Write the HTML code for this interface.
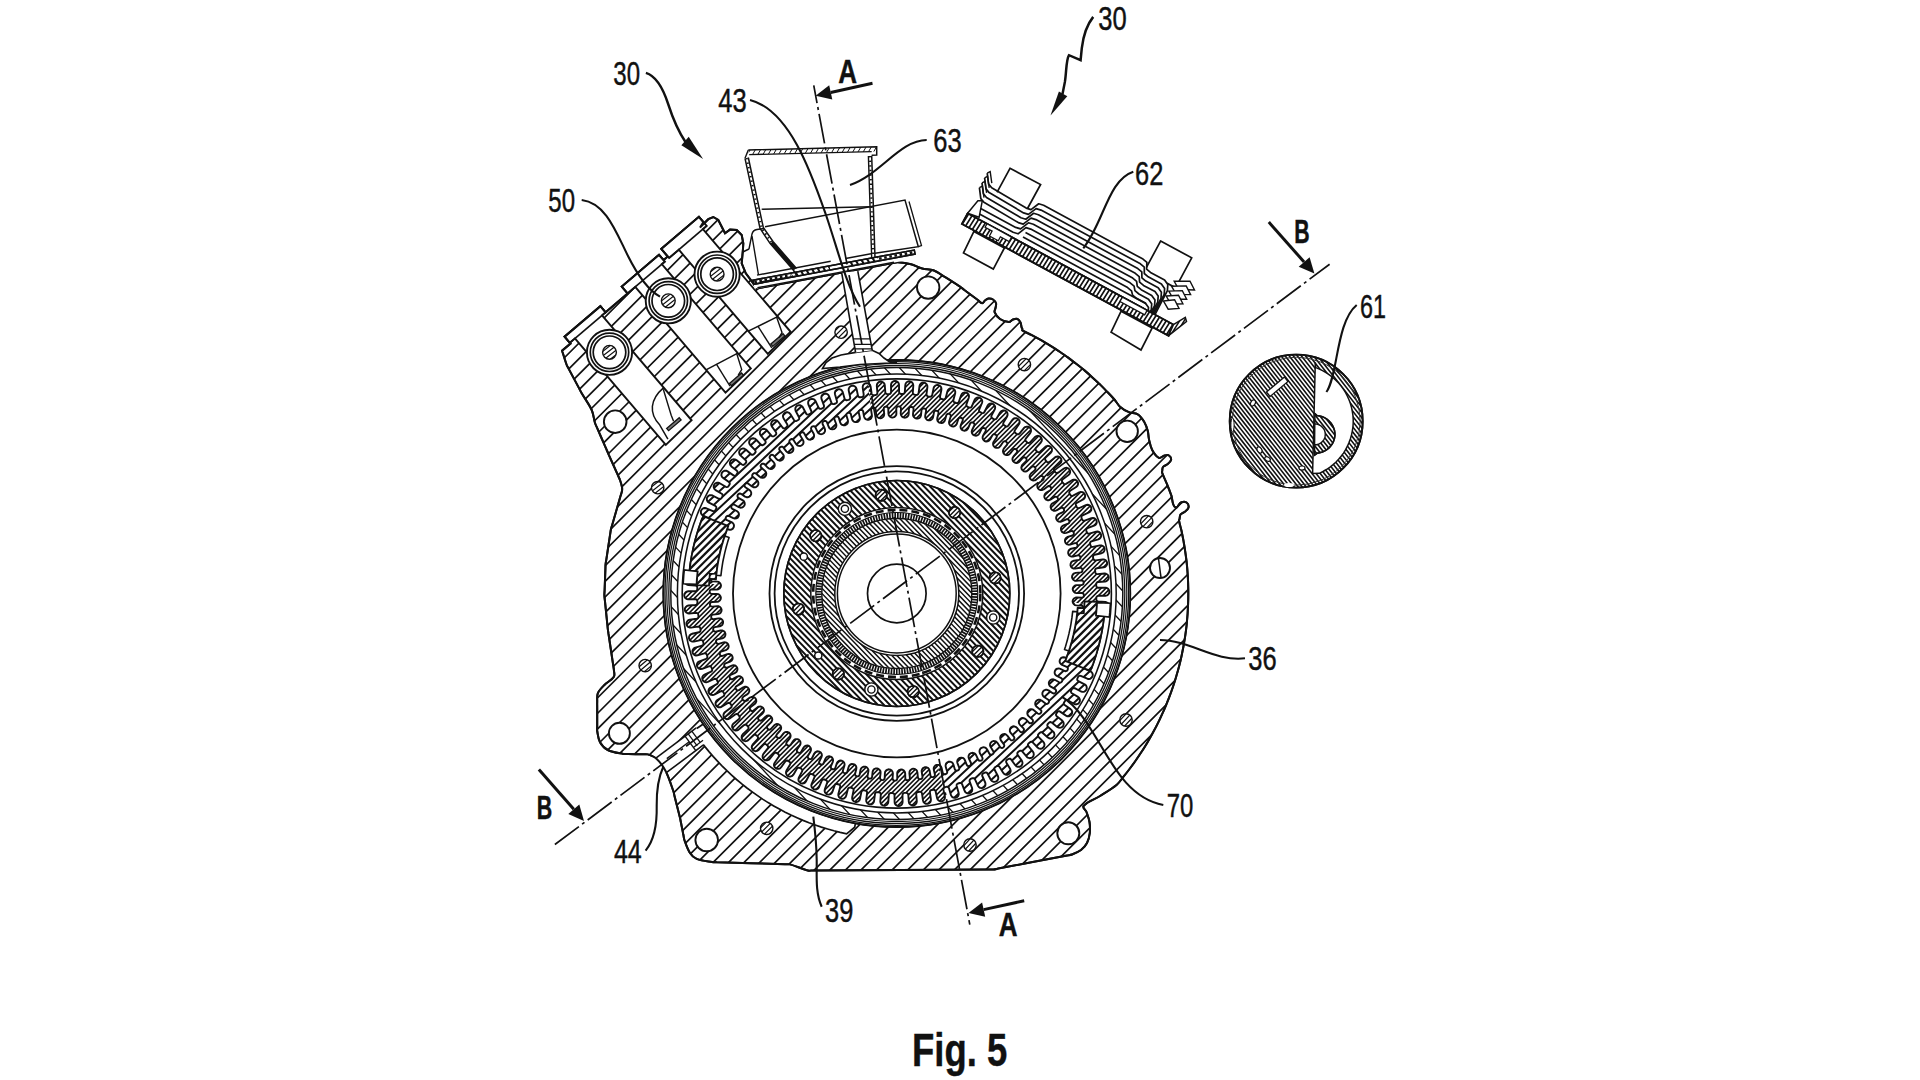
<!DOCTYPE html>
<html><head><meta charset="utf-8"><title>Fig. 5</title>
<style>
html,body{margin:0;padding:0;background:#fff;}
body{width:1920px;height:1080px;overflow:hidden;position:relative;font-family:"Liberation Sans",sans-serif;}
svg text{font-family:"Liberation Sans",sans-serif;fill:#111;}
</style></head><body>
<svg width="1920" height="1080" viewBox="0 0 1920 1080" style="position:absolute;left:0;top:0">
<defs><clipPath id="c1"><path d="M757,288.5 C758.6,288.2 760.3,287.9 761.9,287.6 C805.6,279.4 849.2,271.3 892.9,263.1 C894.5,262.8 896.1,262.1 897.8,262.2 C902.2,262.5 906.7,263.1 911,264.2 C914.9,265.2 918.3,267.5 922.2,268.5 C925.8,269.5 929.8,268.9 933.3,270.2 C937.3,271.7 940.8,274.4 944.4,276.7 C949.7,279.9 954.9,283.3 960,286.7 C961.4,287.6 962.7,288.7 964,289.7 C968.7,293.2 973.5,296.8 978.2,300.3 C979.5,301.3 980.5,303.3 982.2,303.3 C983.5,303.3 984,301.3 985,300.5 C986.1,299.7 987.2,298.7 988.5,298.5 C990,298.3 991.7,298.7 993,299.5 C994.3,300.3 995.6,301.5 996,303 C996.5,304.6 995.8,306.3 995.5,308 C995.3,309.4 994.1,310.9 994.6,312.2 C995.7,314.9 997.6,317.4 1000,319 C1002.6,320.8 1005.8,321.9 1008.9,322 C1010.5,322.1 1011.5,320 1013,319.5 C1014.4,319 1016.1,318.4 1017.5,319 C1018.9,319.6 1019.8,321.1 1020.5,322.5 C1021.2,323.9 1021.1,325.5 1021.5,327 C1021.7,327.9 1022.3,328.6 1022.5,329.5 C1022.6,329.8 1022,330.2 1022.3,330.4 C1025.3,332.2 1028.6,333.5 1031.8,335.1 C1034.9,336.8 1038,338.5 1041.1,340.2 C1044.1,341.9 1047.2,343.8 1050.2,345.6 C1053.2,347.5 1056.1,349.4 1059.1,351.3 C1062,353.3 1064.9,355.3 1067.8,357.4 C1070.6,359.5 1073.4,361.6 1076.2,363.8 C1079,365.9 1081.8,368.2 1084.5,370.4 C1087.2,372.7 1089.8,375 1092.4,377.4 C1095.1,379.8 1097.6,382.2 1100.2,384.6 C1102.7,387.1 1105.2,389.6 1107.6,392.2 C1110,394.7 1112.5,397.3 1114.8,400 C1116.6,402.1 1117.9,404.8 1120,406.7 C1122.6,409 1125.7,410.8 1128.9,412.2 C1131.7,413.4 1135.2,412.7 1137.8,414.4 C1140.7,416.2 1142.6,419.3 1144.4,422.2 C1146,424.9 1147,428 1147.8,431 C1148.5,433.6 1148.3,436.3 1148.9,438.9 C1149.8,442.7 1150.4,446.6 1152.2,450 C1153.8,453 1155.8,456.4 1158.9,457.8 C1160.7,458.6 1162.5,455.9 1164.5,455.5 C1166,455.2 1167.8,454.6 1169,455.5 C1170.3,456.4 1171.4,458.4 1171,460 C1170.6,462 1168.5,463.2 1167,464.5 C1165.8,465.5 1163.9,465.7 1163,467 C1162.2,468.1 1162.4,469.7 1162.2,471 C1162.1,471.5 1161.9,472.1 1162.1,472.6 C1163.5,476.5 1165.4,480.2 1166.9,484 C1168.5,487.8 1170,491.7 1171.4,495.6 C1172.7,499.4 1171.9,504.9 1175.3,507.3 C1177.3,508.8 1178.7,503.5 1181,502.5 C1182.7,501.8 1185,501.5 1186.5,502.5 C1188,503.5 1188.9,505.7 1188.5,507.5 C1188.1,509.5 1186,510.7 1184.5,512 C1183.3,513 1181.4,513.2 1180.5,514.5 C1179.6,515.8 1179.9,517.5 1179.5,519 C1179.4,519.5 1178.9,520 1179,520.5 C1179.6,524 1180.7,527.3 1181.5,530.7 C1182.2,534.1 1182.9,537.5 1183.5,540.9 C1184.1,544.4 1184.7,547.8 1185.2,551.3 C1185.7,554.7 1186.2,558.2 1186.6,561.6 C1186.9,565.1 1187.3,568.6 1187.5,572 C1187.8,575.5 1188,579 1188.1,582.5 C1188.2,586 1188.3,589.4 1188.3,592.9 C1188.3,596.4 1188.3,599.9 1188.1,603.4 C1188,606.9 1187.8,610.4 1187.6,613.8 C1187.3,617.3 1187,620.8 1186.7,624.3 C1186.3,627.7 1185.9,631.2 1185.4,634.6 C1184.9,638.1 1184.3,641.5 1183.7,645 C1183.1,648.4 1182.4,651.8 1181.7,655.2 C1181,658.6 1180.2,662 1179.3,665.4 C1178.4,668.8 1177.5,672.1 1176.5,675.5 C1175.6,678.8 1174.5,682.2 1173.4,685.5 C1172.3,688.8 1171.2,692.1 1169.9,695.3 C1168.7,698.6 1167.4,701.8 1166.1,705.1 C1164.8,708.3 1163.4,711.5 1161.9,714.6 C1160.5,717.8 1159,721 1157.4,724.1 C1155.9,727.2 1154.2,730.3 1152.6,733.3 C1150.9,736.4 1149.2,739.4 1147.4,742.4 C1145.6,745.4 1143.8,748.4 1141.9,751.3 C1140,754.2 1138.1,757.1 1136.1,760 C1134.1,762.9 1132,765.7 1129.9,768.5 C1127.8,771.3 1125.7,774 1123.5,776.7 C1121.3,779.4 1119.5,782.5 1116.8,784.7 C1111.6,789 1105.7,792.4 1100,796 C1094.6,799.5 1087.6,801.1 1083.5,806 C1082.1,807.7 1085.7,809.9 1086.5,812 C1087.7,815.3 1089,818.6 1089.5,822 C1090.1,825.6 1090.2,829.4 1089.8,833 C1089.4,836.4 1088.6,839.9 1087,843 C1085.6,845.7 1083.4,848.1 1081,850 C1078.3,852 1075.1,853.3 1072,854.5 C1070.4,855.1 1068.7,855.1 1067.1,855.4 C1044.1,859.8 1021.2,864.2 998.2,868.6 C996.6,868.9 995,869.3 993.3,869.5 C991.6,869.7 990,869.5 988.3,869.5 C929.8,869.8 871.3,870.2 812.8,870.5 C811.1,870.5 809.4,870.9 807.8,870.5 C801.7,868.9 796,866.1 790,864.4 C788.4,864 786.7,864.3 785,864.2 C762.3,863.5 739.7,862.9 717,862.2 C715.3,862.1 713.6,862.3 712,862 C706.9,861.2 701.5,860.9 696.7,858.9 C693.9,857.8 691.6,855.5 690,853 C687.4,849 686,844.4 684.4,840 C683.8,838.4 683.8,836.7 683.4,835.1 C682.6,831 681.8,826.8 681,822.7 C680.6,821.1 680.4,819.4 680,817.8 C679.6,816.2 679.2,814.6 678.8,812.9 C677.4,807.2 675.9,801.6 674.5,795.9 C674.1,794.2 673.9,792.6 673.3,791 C670.9,784.3 668.9,777.3 665.6,771 C663.3,766.6 660.4,762.3 656.7,758.9 C654.3,756.6 651,755.4 647.8,754.4 C646.2,753.9 644.5,754.3 642.8,754.3 C638,754.2 633.1,754.1 628.3,754 C626.6,754 624.9,754.2 623.3,753.9 C618.1,752.9 612.6,752.4 607.8,750 C604.5,748.3 601.8,745.4 600,742.2 C598.1,738.8 597.9,734.8 597.2,731 C596.9,729.4 597.2,727.7 597.2,726 C597.2,719.7 597.2,713.5 597.2,707.2 C597.2,705.5 597.1,703.9 597.2,702.2 C597.3,699.2 596.7,696 597.8,693.3 C599.2,690 601.9,687.5 604.4,685 C607.3,682 611.7,680.3 613.9,676.7 C615.1,674.8 614,672.2 613.9,670 C613.8,668.3 613.4,666.7 613.2,665.1 C611.6,654.7 610.1,644.3 608.5,633.9 C608.3,632.3 608,630.7 607.8,629 C607.6,627.3 607.5,625.7 607.3,624 C606.5,616.2 605.7,608.4 604.9,600.6 C604.7,598.9 604.5,597.3 604.4,595.6 C604.3,593.9 604.5,592.3 604.6,590.6 C604.9,583.4 605.1,576.2 605.4,569 C605.5,567.3 605.4,565.7 605.6,564 C605.8,562.3 606.1,560.7 606.4,559.1 C607.7,550.7 608.9,542.3 610.2,533.9 C610.5,532.3 610.6,530.6 611,529 C611.4,527.4 611.9,525.8 612.4,524.2 C615.1,514.7 617.9,505.3 620.6,495.8 C621.1,494.2 621.7,492.6 622,491 C622.2,489.7 622.2,488.3 622,487 C621.6,484.6 620.8,482.3 620,480 C619.5,478.4 618.6,477 618,475.4 C614.9,468.5 611.8,461.5 608.7,454.6 C608.1,453 607.4,451.5 606.7,450 C606,448.5 605.4,446.9 604.7,445.4 C602.1,439.5 599.6,433.5 597,427.6 C596.3,426.1 595.5,424.6 595,423 C593.7,418.7 593.5,414.1 591.7,410 C589,404.1 585,398.9 581.7,393.3 C580.9,391.9 580.1,390.4 579.4,388.9 C575.9,382.4 572.5,375.9 569,369.4 C568.3,367.9 567.3,366.6 566.7,365 C565,360.3 563.6,355.5 562.1,350.7 L570.5,343.6 L564.6,336.7 L600.4,306.2 L605.6,312.3 L627.6,293.4 L621.8,286.6 L659,254.8 L663.6,260.1 L667.8,256.5 L661.3,248.9 L698.9,216.8 L703.4,222.1 L700,227.5 L708.3,219.2 L713.3,217 L718.3,220 L725,233.3 L730,229.6 L736.7,230 L741.7,235 L743.3,243.3 L742.9,250 L741.7,263.3 L745.8,273.3 L753.3,283.3 L757,288.5Z"/></clipPath>
<clipPath id="c2"><path d="M651.5,487.7 a6.2,6.2 0 1,0 12.4,0 a6.2,6.2 0 1,0 -12.4,0Z" clip-rule="nonzero"/></clipPath>
<clipPath id="c3"><path d="M639,665.6 a6.2,6.2 0 1,0 12.4,0 a6.2,6.2 0 1,0 -12.4,0Z" clip-rule="nonzero"/></clipPath>
<clipPath id="c4"><path d="M760.5,828.3 a6.2,6.2 0 1,0 12.4,0 a6.2,6.2 0 1,0 -12.4,0Z" clip-rule="nonzero"/></clipPath>
<clipPath id="c5"><path d="M963.8,845 a6.2,6.2 0 1,0 12.4,0 a6.2,6.2 0 1,0 -12.4,0Z" clip-rule="nonzero"/></clipPath>
<clipPath id="c6"><path d="M1119.8,720 a6.2,6.2 0 1,0 12.4,0 a6.2,6.2 0 1,0 -12.4,0Z" clip-rule="nonzero"/></clipPath>
<clipPath id="c7"><path d="M1140.5,521.7 a6.2,6.2 0 1,0 12.4,0 a6.2,6.2 0 1,0 -12.4,0Z" clip-rule="nonzero"/></clipPath>
<clipPath id="c8"><path d="M1018.2,364.6 a6.2,6.2 0 1,0 12.4,0 a6.2,6.2 0 1,0 -12.4,0Z" clip-rule="nonzero"/></clipPath>
<clipPath id="c9"><path d="M834.9,332.2 a6.2,6.2 0 1,0 12.4,0 a6.2,6.2 0 1,0 -12.4,0Z" clip-rule="nonzero"/></clipPath>
<clipPath id="c10"><path d="M602.6,352.3 a6.9,6.9 0 1,0 13.8,0 a6.9,6.9 0 1,0 -13.8,0Z" clip-rule="nonzero"/></clipPath>
<clipPath id="c11"><path d="M661.4,300.8 a6.9,6.9 0 1,0 13.8,0 a6.9,6.9 0 1,0 -13.8,0Z" clip-rule="nonzero"/></clipPath>
<clipPath id="c12"><path d="M710.2,274.2 a6.9,6.9 0 1,0 13.8,0 a6.9,6.9 0 1,0 -13.8,0Z" clip-rule="nonzero"/></clipPath>
<clipPath id="c13"><path d="M670.8,593.5 a226,226 0 1,0 452,0 a226,226 0 1,0 -452,0Z M677.4,593.5 a219.4,219.4 0 1,0 438.8,0 a219.4,219.4 0 1,0 -438.8,0Z" clip-rule="evenodd"/></clipPath>
<path id="gear" d="M887.5,394.1 L886.5,393.9 L885.7,393.3 L885.3,392.3 L884.8,385.2 L884.4,383.7 L883.4,382.5 L882,381.7 L880.5,381.5 L879,381.9 L877.8,382.9 L877,384.3 L876.8,385.8 L877.4,392.9 L877.2,393.9 L876.5,394.7 L875.5,395 L873.9,395.2 L872.9,395.1 L872,394.5 L871.6,393.5 L870.6,386.5 L870.1,385 L869,383.9 L867.6,383.2 L866.1,383.1 L864.6,383.7 L863.4,384.7 L862.8,386.1 L862.7,387.7 L863.7,394.7 L863.6,395.7 L863,396.6 L862,397 L860.4,397.3 L859.4,397.2 L858.5,396.6 L858,395.7 L856.5,388.8 L855.9,387.4 L854.8,386.3 L853.3,385.7 L851.8,385.7 L850.3,386.3 L849.3,387.5 L848.7,388.9 L848.7,390.5 L850.2,397.4 L850.2,398.5 L849.6,399.3 L848.7,399.8 L847.1,400.2 L846.1,400.2 L845.2,399.7 L844.6,398.8 L842.7,392 L841.9,390.6 L840.7,389.6 L839.3,389.1 L837.7,389.3 L836.3,390 L835.3,391.2 L834.8,392.7 L835,394.2 L836.9,401.1 L837,402.1 L836.5,403 L835.6,403.5 L834,404 L833,404.1 L832.1,403.7 L831.5,402.8 L829,396.2 L828.2,394.8 L827,393.9 L825.4,393.5 L823.9,393.8 L822.6,394.6 L821.6,395.9 L821.3,397.4 L821.5,398.9 L824,405.6 L824,406.6 L823.6,407.6 L822.8,408.2 L821.2,408.8 L820.2,408.9 L819.3,408.6 L818.6,407.7 L815.7,401.3 L814.8,400 L813.5,399.1 L812,398.9 L810.4,399.2 L809.2,400.1 L808.3,401.4 L808.1,403 L808.4,404.5 L811.3,411 L811.5,412 L811.1,413 L810.3,413.6 L808.8,414.3 L807.8,414.6 L806.8,414.3 L806.1,413.5 L802.8,407.2 L801.8,406 L800.4,405.3 L798.9,405.1 L797.4,405.6 L796.2,406.6 L795.4,407.9 L795.3,409.5 L795.7,411 L799,417.3 L799.3,418.3 L799,419.3 L798.2,420 L796.8,420.8 L795.8,421.1 L794.8,420.8 L794,420.1 L790.3,414.1 L789.2,412.9 L787.8,412.3 L786.3,412.2 L784.8,412.8 L783.7,413.9 L783,415.3 L783,416.8 L783.5,418.3 L787.2,424.3 L787.5,425.3 L787.3,426.3 L786.6,427.1 L785.2,428 L784.3,428.4 L783.3,428.2 L782.5,427.5 L778.3,421.8 L777.2,420.7 L775.7,420.2 L774.1,420.2 L772.7,420.9 L771.7,422 L771.1,423.5 L771.2,425 L771.8,426.4 L776,432.2 L776.3,433.2 L776.2,434.2 L775.5,435 L774.2,436 L773.3,436.4 L772.2,436.3 L771.4,435.7 L766.9,430.3 L765.7,429.3 L764.2,428.8 L762.6,429 L761.2,429.7 L760.2,430.9 L759.8,432.4 L760,434 L760.7,435.4 L765.2,440.8 L765.7,441.8 L765.6,442.8 L765,443.6 L763.7,444.7 L762.8,445.2 L761.8,445.2 L760.9,444.7 L756,439.5 L754.8,438.6 L753.2,438.3 L751.7,438.5 L750.4,439.4 L749.5,440.6 L749.1,442.2 L749.4,443.7 L750.2,445 L755.1,450.2 L755.6,451.1 L755.6,452.1 L755,453 L753.9,454.2 L753,454.7 L752,454.8 L751.1,454.3 L745.8,449.5 L744.5,448.7 L743,448.4 L741.5,448.8 L740.2,449.7 L739.4,451 L739.1,452.6 L739.5,454.1 L740.4,455.4 L745.7,460.2 L746.2,461 L746.3,462.1 L745.8,463 L744.7,464.2 L743.9,464.8 L742.9,465 L741.9,464.5 L736.4,460.1 L735,459.4 L733.4,459.3 L731.9,459.7 L730.7,460.7 L730,462.1 L729.9,463.7 L730.4,465.2 L731.4,466.4 L736.9,470.8 L737.5,471.6 L737.6,472.7 L737.2,473.6 L736.3,474.9 L735.5,475.6 L734.5,475.8 L733.5,475.4 L727.6,471.4 L726.2,470.7 L724.7,470.7 L723.2,471.3 L722.1,472.4 L721.5,473.8 L721.4,475.4 L722,476.8 L723.1,477.9 L728.9,482 L729.6,482.8 L729.8,483.8 L729.4,484.8 L728.5,486.1 L727.8,486.9 L726.8,487.1 L725.8,486.8 L719.7,483.2 L718.2,482.7 L716.7,482.8 L715.3,483.4 L714.2,484.6 L713.7,486.1 L713.8,487.6 L714.4,489 L715.6,490.1 L721.7,493.7 L722.4,494.4 L722.7,495.5 L722.4,496.4 L721.6,497.9 L720.9,498.6 L719.9,499 L718.9,498.8 L712.6,495.5 L711.1,495.1 L709.5,495.3 L708.2,496.1 L707.2,497.3 L706.8,498.8 L707,500.4 L707.7,501.7 L709,502.7 L715.3,505.9 L716.1,506.6 L716.4,507.6 L716.2,508.6 L715.5,510.1 L714.9,510.9 L713.9,511.3 L712.9,511.1 L706.3,508.3 L704.8,508 L703.3,508.3 L702,509.2 L701.1,510.5 L700.8,512 L701.1,513.5 L701.9,514.8 L703.2,515.7 L709.7,518.5 L710.6,519.1 L710.9,520.1 L710.8,521.1 L710.6,521.9 L702.2,518.7 L702.2,518.7 L700.4,523.5 L698.7,528.4 L697.2,533.4 L695.7,538.3 L694.4,543.3 L693.2,548.4 L692.2,553.5 L691.3,558.5 L690.4,563.7 L689.8,568.8 L689.2,573.9 L698.2,574.8 L698,575.6 L697.7,576.6 L696.9,577.3 L695.9,577.5 L688.8,577 L687.3,577.3 L685.9,578 L685,579.3 L684.6,580.8 L684.8,582.3 L685.6,583.7 L686.8,584.6 L688.3,585 L695.4,585.5 L696.4,585.8 L697.1,586.6 L697.3,587.6 L697.3,589.2 L697,590.2 L696.3,590.9 L695.3,591.2 L688.2,591.3 L686.6,591.6 L685.4,592.5 L684.5,593.8 L684.2,595.3 L684.5,596.8 L685.4,598.1 L686.7,599 L688.2,599.3 L695.3,599.2 L696.3,599.5 L697.1,600.2 L697.4,601.2 L697.4,602.8 L697.2,603.8 L696.6,604.6 L695.6,605 L688.5,605.5 L687,605.9 L685.8,606.9 L685,608.3 L684.8,609.8 L685.2,611.3 L686.2,612.5 L687.6,613.3 L689.1,613.5 L696.2,612.9 L697.2,613.1 L698,613.8 L698.3,614.8 L698.5,616.4 L698.4,617.4 L697.8,618.3 L696.8,618.7 L689.8,619.7 L688.3,620.2 L687.2,621.3 L686.5,622.7 L686.4,624.2 L687,625.7 L688,626.9 L689.4,627.5 L691,627.6 L698,626.6 L699,626.7 L699.9,627.3 L700.3,628.3 L700.6,629.9 L700.5,630.9 L699.9,631.8 L699,632.3 L692.1,633.8 L690.7,634.4 L689.6,635.5 L689,637 L689,638.5 L689.6,640 L690.8,641 L692.2,641.6 L693.8,641.6 L700.7,640.1 L701.8,640.1 L702.6,640.7 L703.1,641.6 L703.5,643.2 L703.5,644.2 L703,645.1 L702.1,645.7 L695.3,647.6 L693.9,648.4 L692.9,649.6 L692.4,651 L692.6,652.6 L693.3,654 L694.5,655 L696,655.5 L697.5,655.3 L704.4,653.4 L705.4,653.3 L706.3,653.8 L706.8,654.7 L707.3,656.3 L707.4,657.3 L707,658.2 L706.1,658.8 L699.5,661.3 L698.1,662.1 L697.2,663.3 L696.8,664.9 L697.1,666.4 L697.9,667.7 L699.2,668.7 L700.7,669 L702.2,668.8 L708.9,666.3 L709.9,666.3 L710.9,666.7 L711.5,667.5 L712.1,669.1 L712.2,670.1 L711.9,671 L711,671.7 L704.6,674.6 L703.3,675.5 L702.4,676.8 L702.2,678.3 L702.5,679.9 L703.4,681.1 L704.7,682 L706.3,682.2 L707.8,681.9 L714.3,679 L715.3,678.8 L716.3,679.2 L716.9,680 L717.6,681.5 L717.9,682.5 L717.6,683.5 L716.8,684.2 L710.5,687.5 L709.3,688.5 L708.6,689.9 L708.4,691.4 L708.9,692.9 L709.9,694.1 L711.2,694.9 L712.8,695 L714.3,694.6 L720.6,691.3 L721.6,691 L722.6,691.3 L723.3,692.1 L724.1,693.5 L724.4,694.5 L724.1,695.5 L723.4,696.3 L717.4,700 L716.2,701.1 L715.6,702.5 L715.5,704 L716.1,705.5 L717.2,706.6 L718.6,707.3 L720.1,707.3 L721.6,706.8 L727.6,703.1 L728.6,702.8 L729.6,703 L730.4,703.7 L731.3,705.1 L731.7,706 L731.5,707 L730.8,707.8 L725.1,712 L724,713.1 L723.5,714.6 L723.5,716.2 L724.2,717.6 L725.3,718.6 L726.8,719.2 L728.3,719.1 L729.7,718.5 L735.5,714.3 L736.5,714 L737.5,714.1 L738.3,714.8 L739.3,716.1 L739.7,717 L739.6,718.1 L739,718.9 L733.6,723.4 L732.6,724.6 L732.1,726.1 L732.3,727.7 L733,729.1 L734.2,730.1 L735.7,730.5 L737.3,730.3 L738.7,729.6 L744.1,725.1 L745.1,724.6 L746.1,724.7 L746.9,725.3 L748,726.6 L748.5,727.5 L748.5,728.5 L748,729.4 L742.8,734.3 L741.9,735.5 L741.6,737.1 L741.8,738.6 L742.7,739.9 L743.9,740.8 L745.5,741.2 L747,740.9 L748.3,740.1 L753.5,735.2 L754.4,734.7 L755.4,734.7 L756.3,735.3 L757.5,736.4 L758,737.3 L758.1,738.3 L757.6,739.2 L752.8,744.5 L752,745.8 L751.7,747.3 L752.1,748.8 L753,750.1 L754.3,750.9 L755.9,751.2 L757.4,750.8 L758.7,749.9 L763.5,744.6 L764.3,744.1 L765.4,744 L766.3,744.5 L767.5,745.6 L768.1,746.4 L768.3,747.4 L767.8,748.4 L763.4,753.9 L762.7,755.3 L762.6,756.9 L763,758.4 L764,759.6 L765.4,760.3 L767,760.4 L768.5,759.9 L769.7,758.9 L774.1,753.4 L774.9,752.8 L776,752.7 L776.9,753.1 L778.2,754 L778.9,754.8 L779.1,755.8 L778.7,756.8 L774.7,762.7 L774,764.1 L774,765.6 L774.6,767.1 L775.7,768.2 L777.1,768.8 L778.7,768.9 L780.1,768.3 L781.2,767.2 L785.3,761.4 L786.1,760.7 L787.1,760.5 L788.1,760.9 L789.4,761.8 L790.2,762.5 L790.4,763.5 L790.1,764.5 L786.5,770.6 L786,772.1 L786.1,773.6 L786.7,775 L787.9,776.1 L789.4,776.6 L790.9,776.5 L792.3,775.9 L793.4,774.7 L797,768.6 L797.7,767.9 L798.8,767.6 L799.7,767.9 L801.2,768.7 L801.9,769.4 L802.3,770.4 L802.1,771.4 L798.8,777.7 L798.4,779.2 L798.6,780.8 L799.4,782.1 L800.6,783.1 L802.1,783.5 L803.7,783.3 L805,782.6 L806,781.3 L809.2,775 L809.9,774.2 L810.9,773.9 L811.9,774.1 L813.4,774.8 L814.2,775.4 L814.6,776.4 L814.4,777.4 L811.6,784 L811.3,785.5 L811.6,787 L812.5,788.3 L813.8,789.2 L815.3,789.5 L816.8,789.2 L818.1,788.4 L819,787.1 L821.8,780.6 L822.4,779.7 L823.4,779.4 L824.4,779.5 L825.9,780.1 L826.8,780.7 L827.2,781.6 L827.2,782.6 L824.8,789.3 L824.6,790.9 L825,792.4 L826,793.6 L827.3,794.4 L828.9,794.6 L830.4,794.2 L831.6,793.3 L832.4,791.9 L834.7,785.2 L835.3,784.4 L836.2,783.9 L837.3,784 L838.8,784.5 L839.7,785 L840.2,785.9 L840.2,786.9 L838.4,793.8 L838.3,795.3 L838.8,796.8 L839.8,798 L841.2,798.7 L842.7,798.8 L844.2,798.3 L845.4,797.3 L846.1,795.9 L847.9,789 L848.5,788.1 L849.4,787.6 L850.4,787.6 L852,788 L852.9,788.5 L853.5,789.3 L853.6,790.3 L852.2,797.3 L852.2,798.9 L852.8,800.3 L853.9,801.4 L855.3,802 L856.9,802 L858.3,801.4 L859.4,800.3 L860,798.9 L861.4,791.9 L861.9,791 L862.7,790.4 L863.8,790.3 L865.4,790.6 L866.3,791 L867,791.8 L867.1,792.8 L866.2,799.9 L866.3,801.4 L867,802.8 L868.2,803.9 L869.6,804.4 L871.2,804.3 L872.6,803.6 L873.6,802.4 L874.1,800.9 L875,793.9 L875.4,792.9 L876.2,792.3 L877.3,792.1 L878.9,792.3 L879.9,792.6 L880.6,793.4 L880.8,794.4 L880.3,801.5 L880.6,803 L881.3,804.4 L882.6,805.3 L884.1,805.7 L885.6,805.5 L887,804.7 L887.9,803.5 L888.3,802 L888.8,794.9 L889.1,793.9 L889.9,793.2 L890.9,793 L892.5,793 L893.5,793.3 L894.2,794 L894.5,795 L894.6,802.1 L894.9,803.7 L895.8,804.9 L897.1,805.8 L898.6,806.1 L900.1,805.8 L901.4,804.9 L902.3,803.6 L902.6,802.1 L902.5,795 L902.8,794 L903.5,793.2 L904.5,792.9 L906.1,792.9 L907.1,793.1 L907.9,793.7 L908.3,794.7 L908.8,801.8 L909.2,803.3 L910.2,804.5 L911.6,805.3 L913.1,805.5 L914.6,805.1 L915.8,804.1 L916.6,802.7 L916.8,801.2 L916.2,794.1 L916.4,793.1 L917.1,792.3 L918.1,792 L919.7,791.8 L920.7,791.9 L921.6,792.5 L922,793.5 L923,800.5 L923.5,802 L924.6,803.1 L926,803.8 L927.5,803.9 L929,803.3 L930.2,802.3 L930.8,800.9 L930.9,799.3 L929.9,792.3 L930,791.3 L930.6,790.4 L931.6,790 L933.2,789.7 L934.2,789.8 L935.1,790.4 L935.6,791.3 L937.1,798.2 L937.7,799.6 L938.8,800.7 L940.3,801.3 L941.8,801.3 L943.3,800.7 L944.3,799.5 L944.9,798.1 L944.9,796.5 L943.4,789.6 L943.4,788.5 L944,787.7 L944.9,787.2 L946.5,786.8 L947.5,786.8 L948.4,787.3 L949,788.2 L950.9,795 L951.7,796.4 L952.9,797.4 L954.3,797.9 L955.9,797.7 L957.3,797 L958.3,795.8 L958.8,794.3 L958.6,792.8 L956.7,785.9 L956.6,784.9 L957.1,784 L958,783.5 L959.6,783 L960.6,782.9 L961.5,783.3 L962.1,784.2 L964.6,790.8 L965.4,792.2 L966.6,793.1 L968.2,793.5 L969.7,793.2 L971,792.4 L972,791.1 L972.3,789.6 L972.1,788.1 L969.6,781.4 L969.6,780.4 L970,779.4 L970.8,778.8 L972.4,778.2 L973.4,778.1 L974.3,778.4 L975,779.3 L977.9,785.7 L978.8,787 L980.1,787.9 L981.6,788.1 L983.2,787.8 L984.4,786.9 L985.3,785.6 L985.5,784 L985.2,782.5 L982.3,776 L982.1,775 L982.5,774 L983.3,773.4 L984.8,772.7 L985.8,772.4 L986.8,772.7 L987.5,773.5 L990.8,779.8 L991.8,781 L993.2,781.7 L994.7,781.9 L996.2,781.4 L997.4,780.4 L998.2,779.1 L998.3,777.5 L997.9,776 L994.6,769.7 L994.3,768.7 L994.6,767.7 L995.4,767 L996.8,766.2 L997.8,765.9 L998.8,766.2 L999.6,766.9 L1003.3,772.9 L1004.4,774.1 L1005.8,774.7 L1007.3,774.8 L1008.8,774.2 L1009.9,773.1 L1010.6,771.7 L1010.6,770.2 L1010.1,768.7 L1006.4,762.7 L1006.1,761.7 L1006.3,760.7 L1007,759.9 L1008.4,759 L1009.3,758.6 L1010.3,758.8 L1011.1,759.5 L1015.3,765.2 L1016.4,766.3 L1017.9,766.8 L1019.5,766.8 L1020.9,766.1 L1021.9,765 L1022.5,763.5 L1022.4,762 L1021.8,760.6 L1017.6,754.8 L1017.3,753.8 L1017.4,752.8 L1018.1,752 L1019.4,751 L1020.3,750.6 L1021.4,750.7 L1022.2,751.3 L1026.7,756.7 L1027.9,757.7 L1029.4,758.2 L1031,758 L1032.4,757.3 L1033.4,756.1 L1033.8,754.6 L1033.6,753 L1032.9,751.6 L1028.4,746.2 L1027.9,745.2 L1028,744.2 L1028.6,743.4 L1029.9,742.3 L1030.8,741.8 L1031.8,741.8 L1032.7,742.3 L1037.6,747.5 L1038.8,748.4 L1040.4,748.7 L1041.9,748.5 L1043.2,747.6 L1044.1,746.4 L1044.5,744.8 L1044.2,743.3 L1043.4,742 L1038.5,736.8 L1038,735.9 L1038,734.9 L1038.6,734 L1039.7,732.8 L1040.6,732.3 L1041.6,732.2 L1042.5,732.7 L1047.8,737.5 L1049.1,738.3 L1050.6,738.6 L1052.1,738.2 L1053.4,737.3 L1054.2,736 L1054.5,734.4 L1054.1,732.9 L1053.2,731.6 L1047.9,726.8 L1047.4,726 L1047.3,724.9 L1047.8,724 L1048.9,722.8 L1049.7,722.2 L1050.7,722 L1051.7,722.5 L1057.2,726.9 L1058.6,727.6 L1060.2,727.7 L1061.7,727.3 L1062.9,726.3 L1063.6,724.9 L1063.7,723.3 L1063.2,721.8 L1062.2,720.6 L1056.7,716.2 L1056.1,715.4 L1056,714.3 L1056.4,713.4 L1057.3,712.1 L1058.1,711.4 L1059.1,711.2 L1060.1,711.6 L1066,715.6 L1067.4,716.3 L1068.9,716.3 L1070.4,715.7 L1071.5,714.6 L1072.1,713.2 L1072.2,711.6 L1071.6,710.2 L1070.5,709.1 L1064.7,705 L1064,704.2 L1063.8,703.2 L1064.2,702.2 L1065.1,700.9 L1065.8,700.1 L1066.8,699.9 L1067.8,700.2 L1073.9,703.8 L1075.4,704.3 L1076.9,704.2 L1078.3,703.6 L1079.4,702.4 L1079.9,700.9 L1079.8,699.4 L1079.2,698 L1078,696.9 L1071.9,693.3 L1071.2,692.6 L1070.9,691.5 L1071.2,690.6 L1072,689.1 L1072.7,688.4 L1073.7,688 L1074.7,688.2 L1081,691.5 L1082.5,691.9 L1084.1,691.7 L1085.4,690.9 L1086.4,689.7 L1086.8,688.2 L1086.6,686.6 L1085.9,685.3 L1084.6,684.3 L1078.3,681.1 L1077.5,680.4 L1077.2,679.4 L1077.4,678.4 L1078.1,676.9 L1078.7,676.1 L1079.7,675.7 L1080.7,675.9 L1087.3,678.7 L1088.8,679 L1090.3,678.7 L1091.6,677.8 L1092.5,676.5 L1092.8,675 L1092.5,673.5 L1091.7,672.2 L1090.4,671.3 L1083.9,668.5 L1083,667.9 L1082.7,666.9 L1082.8,665.9 L1083,665.1 L1091.4,668.3 L1091.4,668.3 L1093.2,663.5 L1094.9,658.6 L1096.4,653.6 L1097.9,648.7 L1099.2,643.7 L1100.4,638.6 L1101.4,633.5 L1102.3,628.5 L1103.2,623.3 L1103.8,618.2 L1104.4,613.1 L1095.4,612.2 L1095.6,611.4 L1095.9,610.4 L1096.7,609.7 L1097.7,609.5 L1104.8,610 L1106.3,609.7 L1107.7,609 L1108.6,607.7 L1109,606.2 L1108.8,604.7 L1108,603.3 L1106.8,602.4 L1105.3,602 L1098.2,601.5 L1097.2,601.2 L1096.5,600.4 L1096.3,599.4 L1096.3,597.8 L1096.6,596.8 L1097.3,596.1 L1098.3,595.8 L1105.4,595.7 L1107,595.4 L1108.2,594.5 L1109.1,593.2 L1109.4,591.7 L1109.1,590.2 L1108.2,588.9 L1106.9,588 L1105.4,587.7 L1098.3,587.8 L1097.3,587.5 L1096.5,586.8 L1096.2,585.8 L1096.2,584.2 L1096.4,583.2 L1097,582.4 L1098,582 L1105.1,581.5 L1106.6,581.1 L1107.8,580.1 L1108.6,578.7 L1108.8,577.2 L1108.4,575.7 L1107.4,574.5 L1106,573.7 L1104.5,573.5 L1097.4,574.1 L1096.4,573.9 L1095.6,573.2 L1095.3,572.2 L1095.1,570.6 L1095.2,569.6 L1095.8,568.7 L1096.8,568.3 L1103.8,567.3 L1105.3,566.8 L1106.4,565.7 L1107.1,564.3 L1107.2,562.8 L1106.6,561.3 L1105.6,560.1 L1104.2,559.5 L1102.6,559.4 L1095.6,560.4 L1094.6,560.3 L1093.7,559.7 L1093.3,558.7 L1093,557.1 L1093.1,556.1 L1093.7,555.2 L1094.6,554.7 L1101.5,553.2 L1102.9,552.6 L1104,551.5 L1104.6,550 L1104.6,548.5 L1104,547 L1102.8,546 L1101.4,545.4 L1099.8,545.4 L1092.9,546.9 L1091.8,546.9 L1091,546.3 L1090.5,545.4 L1090.1,543.8 L1090.1,542.8 L1090.6,541.9 L1091.5,541.3 L1098.3,539.4 L1099.7,538.6 L1100.7,537.4 L1101.2,536 L1101,534.4 L1100.3,533 L1099.1,532 L1097.6,531.5 L1096.1,531.7 L1089.2,533.6 L1088.2,533.7 L1087.3,533.2 L1086.8,532.3 L1086.3,530.7 L1086.2,529.7 L1086.6,528.8 L1087.5,528.2 L1094.1,525.7 L1095.5,524.9 L1096.4,523.7 L1096.8,522.1 L1096.5,520.6 L1095.7,519.3 L1094.4,518.3 L1092.9,518 L1091.4,518.2 L1084.7,520.7 L1083.7,520.7 L1082.7,520.3 L1082.1,519.5 L1081.5,517.9 L1081.4,516.9 L1081.7,516 L1082.6,515.3 L1089,512.4 L1090.3,511.5 L1091.2,510.2 L1091.4,508.7 L1091.1,507.1 L1090.2,505.9 L1088.9,505 L1087.3,504.8 L1085.8,505.1 L1079.3,508 L1078.3,508.2 L1077.3,507.8 L1076.7,507 L1076,505.5 L1075.7,504.5 L1076,503.5 L1076.8,502.8 L1083.1,499.5 L1084.3,498.5 L1085,497.1 L1085.2,495.6 L1084.7,494.1 L1083.7,492.9 L1082.4,492.1 L1080.8,492 L1079.3,492.4 L1073,495.7 L1072,496 L1071,495.7 L1070.3,494.9 L1069.5,493.5 L1069.2,492.5 L1069.5,491.5 L1070.2,490.7 L1076.2,487 L1077.4,485.9 L1078,484.5 L1078.1,483 L1077.5,481.5 L1076.4,480.4 L1075,479.7 L1073.5,479.7 L1072,480.2 L1066,483.9 L1065,484.2 L1064,484 L1063.2,483.3 L1062.3,481.9 L1061.9,481 L1062.1,480 L1062.8,479.2 L1068.5,475 L1069.6,473.9 L1070.1,472.4 L1070.1,470.8 L1069.4,469.4 L1068.3,468.4 L1066.8,467.8 L1065.3,467.9 L1063.9,468.5 L1058.1,472.7 L1057.1,473 L1056.1,472.9 L1055.3,472.2 L1054.3,470.9 L1053.9,470 L1054,468.9 L1054.6,468.1 L1060,463.6 L1061,462.4 L1061.5,460.9 L1061.3,459.3 L1060.6,457.9 L1059.4,456.9 L1057.9,456.5 L1056.3,456.7 L1054.9,457.4 L1049.5,461.9 L1048.5,462.4 L1047.5,462.3 L1046.7,461.7 L1045.6,460.4 L1045.1,459.5 L1045.1,458.5 L1045.6,457.6 L1050.8,452.7 L1051.7,451.5 L1052,449.9 L1051.8,448.4 L1050.9,447.1 L1049.7,446.2 L1048.1,445.8 L1046.6,446.1 L1045.3,446.9 L1040.1,451.8 L1039.2,452.3 L1038.2,452.3 L1037.3,451.7 L1036.1,450.6 L1035.6,449.7 L1035.5,448.7 L1036,447.8 L1040.8,442.5 L1041.6,441.2 L1041.9,439.7 L1041.5,438.2 L1040.6,436.9 L1039.3,436.1 L1037.7,435.8 L1036.2,436.2 L1034.9,437.1 L1030.1,442.4 L1029.3,442.9 L1028.2,443 L1027.3,442.5 L1026.1,441.4 L1025.5,440.6 L1025.3,439.6 L1025.8,438.6 L1030.2,433.1 L1030.9,431.7 L1031,430.1 L1030.6,428.6 L1029.6,427.4 L1028.2,426.7 L1026.6,426.6 L1025.1,427.1 L1023.9,428.1 L1019.5,433.6 L1018.7,434.2 L1017.6,434.3 L1016.7,433.9 L1015.4,433 L1014.7,432.2 L1014.5,431.2 L1014.9,430.2 L1018.9,424.3 L1019.6,422.9 L1019.6,421.4 L1019,419.9 L1017.9,418.8 L1016.5,418.2 L1014.9,418.1 L1013.5,418.7 L1012.4,419.8 L1008.3,425.6 L1007.5,426.3 L1006.5,426.5 L1005.5,426.1 L1004.2,425.2 L1003.4,424.5 L1003.2,423.5 L1003.5,422.5 L1007.1,416.4 L1007.6,414.9 L1007.5,413.4 L1006.9,412 L1005.7,410.9 L1004.2,410.4 L1002.7,410.5 L1001.3,411.1 L1000.2,412.3 L996.6,418.4 L995.9,419.1 L994.8,419.4 L993.9,419.1 L992.4,418.3 L991.7,417.6 L991.3,416.6 L991.5,415.6 L994.8,409.3 L995.2,407.8 L995,406.2 L994.2,404.9 L993,403.9 L991.5,403.5 L989.9,403.7 L988.6,404.4 L987.6,405.7 L984.4,412 L983.7,412.8 L982.7,413.1 L981.7,412.9 L980.2,412.2 L979.4,411.6 L979,410.6 L979.2,409.6 L982,403 L982.3,401.5 L982,400 L981.1,398.7 L979.8,397.8 L978.3,397.5 L976.8,397.8 L975.5,398.6 L974.6,399.9 L971.8,406.4 L971.2,407.3 L970.2,407.6 L969.2,407.5 L967.7,406.9 L966.8,406.3 L966.4,405.4 L966.4,404.4 L968.8,397.7 L969,396.1 L968.6,394.6 L967.6,393.4 L966.3,392.6 L964.7,392.4 L963.2,392.8 L962,393.7 L961.2,395.1 L958.9,401.8 L958.3,402.6 L957.4,403.1 L956.3,403 L954.8,402.5 L953.9,402 L953.4,401.1 L953.4,400.1 L955.2,393.2 L955.3,391.7 L954.8,390.2 L953.8,389 L952.4,388.3 L950.9,388.2 L949.4,388.7 L948.2,389.7 L947.5,391.1 L945.7,398 L945.1,398.9 L944.2,399.4 L943.2,399.4 L941.6,399 L940.7,398.5 L940.1,397.7 L940,396.7 L941.4,389.7 L941.4,388.1 L940.8,386.7 L939.7,385.6 L938.3,385 L936.7,385 L935.3,385.6 L934.2,386.7 L933.6,388.1 L932.2,395.1 L931.7,396 L930.9,396.6 L929.8,396.7 L928.2,396.4 L927.3,396 L926.6,395.2 L926.5,394.2 L927.4,387.1 L927.3,385.6 L926.6,384.2 L925.4,383.1 L924,382.6 L922.4,382.7 L921,383.4 L920,384.6 L919.5,386.1 L918.6,393.1 L918.2,394.1 L917.4,394.7 L916.3,394.9 L914.7,394.7 L913.7,394.4 L913,393.6 L912.8,392.6 L913.3,385.5 L913,384 L912.3,382.6 L911,381.7 L909.5,381.3 L908,381.5 L906.6,382.3 L905.7,383.5 L905.3,385 L904.8,392.1 L904.5,393.1 L903.7,393.8 L902.7,394 L901.1,394 L900.1,393.7 L899.4,393 L899.1,392 L899,384.9 L898.7,383.3 L897.8,382.1 L896.5,381.2 L895,380.9 L893.5,381.2 L892.2,382.1 L891.3,383.4 L891,384.9 L891.1,392 L890.8,393 L890.1,393.8 L889.1,394.1Z M885.5,406.7 L884.5,407.1 L883.9,407.9 L883.7,408.9 L884.2,413.9 L884,415.5 L883.3,416.8 L882,417.8 L880.5,418.3 L879,418.1 L877.6,417.3 L876.6,416.1 L876.2,414.6 L875.7,409.7 L875.4,408.7 L874.6,408 L873.6,407.9 L872.8,408 L871.8,408.4 L871.2,409.2 L871.1,410.2 L871.9,415.2 L871.9,416.7 L871.2,418.2 L870.1,419.2 L868.6,419.8 L867.1,419.7 L865.6,419.1 L864.6,417.9 L864,416.5 L863.2,411.5 L862.8,410.6 L862,410 L860.9,409.9 L860.2,410 L859.3,410.5 L858.7,411.4 L858.7,412.4 L859.8,417.3 L859.9,418.9 L859.3,420.3 L858.3,421.5 L856.8,422.1 L855.3,422.1 L853.8,421.6 L852.7,420.5 L852,419.1 L850.9,414.2 L850.4,413.3 L849.5,412.8 L848.5,412.7 L847.7,413 L846.9,413.5 L846.4,414.4 L846.4,415.4 L847.9,420.2 L848,421.8 L847.6,423.3 L846.6,424.5 L845.2,425.2 L843.7,425.4 L842.2,424.9 L841,423.9 L840.2,422.6 L838.8,417.8 L838.2,416.9 L837.3,416.4 L836.3,416.5 L835.5,416.7 L834.7,417.3 L834.3,418.3 L834.4,419.3 L836.2,424 L836.4,425.5 L836.1,427 L835.2,428.3 L833.9,429.1 L832.3,429.4 L830.8,429.1 L829.5,428.2 L828.7,426.8 L826.9,422.2 L826.3,421.3 L825.4,420.9 L824.3,421 L823.6,421.3 L822.8,422 L822.5,422.9 L822.6,424 L824.7,428.5 L825.1,430 L824.9,431.6 L824.1,432.9 L822.8,433.8 L821.3,434.2 L819.7,433.9 L818.4,433.1 L817.5,431.9 L815.4,427.3 L814.7,426.5 L813.7,426.2 L812.7,426.4 L812,426.7 L811.3,427.4 L811,428.4 L811.2,429.4 L813.7,433.8 L814.1,435.3 L814,436.8 L813.3,438.2 L812.1,439.2 L810.6,439.7 L809,439.6 L807.6,438.9 L806.6,437.7 L804.2,433.3 L803.5,432.5 L802.5,432.2 L801.5,432.5 L800.8,432.9 L800.2,433.6 L799.9,434.7 L800.2,435.6 L802.9,439.9 L803.5,441.3 L803.5,442.9 L802.9,444.3 L801.7,445.4 L800.3,446 L798.7,445.9 L797.3,445.3 L796.2,444.2 L793.5,440 L792.7,439.3 L791.7,439 L790.7,439.4 L790.1,439.8 L789.5,440.6 L789.3,441.6 L789.7,442.6 L792.7,446.6 L793.3,448 L793.4,449.6 L792.9,451.1 L791.9,452.2 L790.4,452.9 L788.9,453 L787.4,452.4 L786.3,451.4 L783.3,447.4 L782.5,446.7 L781.4,446.6 L780.5,447 L779.9,447.4 L779.3,448.3 L779.2,449.3 L779.7,450.3 L782.9,454.1 L783.7,455.4 L783.8,457 L783.4,458.5 L782.5,459.7 L781.1,460.5 L779.5,460.7 L778,460.2 L776.8,459.3 L773.6,455.5 L772.7,454.9 L771.7,454.8 L770.7,455.2 L770.2,455.8 L769.7,456.7 L769.6,457.7 L770.1,458.6 L773.6,462.2 L774.5,463.5 L774.8,465 L774.5,466.5 L773.6,467.8 L772.3,468.7 L770.8,469 L769.2,468.6 L767.9,467.8 L764.4,464.2 L763.5,463.7 L762.5,463.7 L761.6,464.2 L761.1,464.7 L760.6,465.7 L760.7,466.7 L761.2,467.5 L765,470.9 L765.9,472.1 L766.3,473.6 L766.1,475.2 L765.3,476.5 L764.1,477.5 L762.5,477.9 L761,477.6 L759.7,476.8 L755.9,473.5 L755,473.1 L754,473.1 L753.1,473.7 L752.6,474.3 L752.2,475.2 L752.3,476.3 L753,477.1 L756.9,480.2 L757.9,481.3 L758.4,482.8 L758.3,484.4 L757.6,485.8 L756.4,486.8 L755,487.3 L753.4,487.2 L752,486.5 L748.1,483.4 L747.1,483 L746.1,483.2 L745.3,483.8 L744.8,484.4 L744.5,485.4 L744.7,486.4 L745.3,487.2 L749.5,490 L750.6,491.1 L751.2,492.5 L751.2,494.1 L750.6,495.5 L749.5,496.6 L748.1,497.2 L746.5,497.2 L745,496.6 L740.9,493.8 L739.9,493.5 L738.9,493.7 L738.1,494.4 L737.7,495 L737.4,496 L737.7,497 L738.4,497.8 L742.8,500.3 L744,501.3 L744.6,502.7 L744.8,504.2 L744.3,505.7 L743.2,506.9 L741.8,507.6 L740.3,507.7 L738.8,507.2 L734.5,504.7 L733.5,504.4 L732.5,504.7 L731.7,505.4 L731.4,506.1 L731.2,507.1 L731.5,508.1 L732.3,508.8 L736.8,511 L738,511.9 L738.8,513.3 L739,514.8 L738.6,516.3 L737.7,517.6 L736.3,518.4 L734.8,518.6 L733.3,518.2 L728.8,516 L727.8,515.8 L726.8,516.1 L726.1,516.9 L725.8,517.6 L725.7,518.6 L726.1,519.6 L726.9,520.2 L731.5,522.1 L732.8,523 L733.7,524.2 L734,525.8 L733.7,527.3 L732.9,528.6 L731.6,529.5 L730,529.8 L728.5,529.5 L723.9,527.6 L722.8,527.5 L721.9,527.9 L721.3,528.7 L721.2,529.1 L726.4,531 L726.4,531 L724.9,535.3 L723.5,539.6 L722.2,543.9 L721,548.2 L720,552.6 L719,557 L718.2,561.4 L717.4,565.9 L716.8,570.3 L716.3,574.8 L715.9,579.3 L710.4,578.9 L710.2,579.3 L710.5,580.3 L711.2,581 L712.2,581.4 L717.2,581.6 L718.7,581.9 L719.9,582.9 L720.7,584.2 L721,585.7 L720.6,587.3 L719.7,588.5 L718.3,589.3 L716.8,589.6 L711.8,589.3 L710.8,589.6 L710,590.3 L709.7,591.3 L709.7,592 L710,593 L710.8,593.7 L711.8,594 L716.8,593.9 L718.3,594.1 L719.6,595 L720.5,596.2 L720.9,597.8 L720.6,599.3 L719.7,600.6 L718.5,601.5 L716.9,601.9 L712,602 L711,602.3 L710.2,603 L710,604 L710,604.8 L710.4,605.8 L711.2,606.4 L712.2,606.6 L717.2,606.1 L718.8,606.3 L720.1,607 L721.1,608.3 L721.6,609.8 L721.4,611.3 L720.6,612.7 L719.4,613.7 L717.9,614.1 L713,614.6 L712,614.9 L711.3,615.7 L711.2,616.7 L711.3,617.5 L711.7,618.5 L712.5,619.1 L713.5,619.2 L718.5,618.4 L720,618.4 L721.5,619.1 L722.5,620.2 L723.1,621.7 L723,623.2 L722.4,624.7 L721.2,625.7 L719.8,626.3 L714.8,627.1 L713.9,627.5 L713.3,628.3 L713.2,629.4 L713.3,630.1 L713.8,631 L714.7,631.6 L715.7,631.6 L720.6,630.5 L722.2,630.4 L723.6,631 L724.8,632 L725.4,633.5 L725.4,635 L724.9,636.5 L723.8,637.6 L722.4,638.3 L717.5,639.4 L716.6,639.9 L716.1,640.8 L716,641.8 L716.3,642.6 L716.8,643.4 L717.7,643.9 L718.7,643.9 L723.5,642.4 L725.1,642.3 L726.6,642.7 L727.8,643.7 L728.5,645.1 L728.7,646.6 L728.2,648.1 L727.2,649.3 L725.9,650.1 L721.1,651.5 L720.2,652.1 L719.7,653 L719.8,654 L720,654.8 L720.6,655.6 L721.6,656 L722.6,655.9 L727.3,654.1 L728.8,653.9 L730.3,654.2 L731.6,655.1 L732.4,656.4 L732.7,658 L732.4,659.5 L731.5,660.8 L730.1,661.6 L725.5,663.4 L724.6,664 L724.2,664.9 L724.3,666 L724.6,666.7 L725.3,667.5 L726.2,667.8 L727.3,667.7 L731.8,665.6 L733.3,665.2 L734.9,665.4 L736.2,666.2 L737.1,667.5 L737.5,669 L737.2,670.6 L736.4,671.9 L735.2,672.8 L730.6,674.9 L729.8,675.6 L729.5,676.6 L729.7,677.6 L730,678.3 L730.7,679 L731.7,679.3 L732.7,679.1 L737.1,676.6 L738.6,676.2 L740.1,676.3 L741.5,677 L742.5,678.2 L743,679.7 L742.9,681.3 L742.2,682.7 L741,683.7 L736.6,686.1 L735.8,686.8 L735.5,687.8 L735.8,688.8 L736.2,689.5 L736.9,690.1 L738,690.4 L738.9,690.1 L743.2,687.4 L744.6,686.8 L746.2,686.8 L747.6,687.4 L748.7,688.6 L749.3,690 L749.2,691.6 L748.6,693 L747.5,694.1 L743.3,696.8 L742.6,697.6 L742.3,698.6 L742.7,699.6 L743.1,700.2 L743.9,700.8 L744.9,701 L745.9,700.6 L749.9,697.6 L751.3,697 L752.9,696.9 L754.4,697.4 L755.5,698.4 L756.2,699.9 L756.3,701.4 L755.7,702.9 L754.7,704 L750.7,707 L750,707.8 L749.9,708.9 L750.3,709.8 L750.7,710.4 L751.6,711 L752.6,711.1 L753.6,710.6 L757.4,707.4 L758.7,706.6 L760.3,706.5 L761.8,706.9 L763,707.8 L763.8,709.2 L764,710.8 L763.5,712.3 L762.6,713.5 L758.8,716.7 L758.2,717.6 L758.1,718.6 L758.5,719.6 L759.1,720.1 L760,720.6 L761,720.7 L761.9,720.2 L765.5,716.7 L766.8,715.8 L768.3,715.5 L769.8,715.8 L771.1,716.7 L772,718 L772.3,719.5 L771.9,721.1 L771.1,722.4 L767.5,725.9 L767,726.8 L767,727.8 L767.5,728.7 L768,729.2 L769,729.7 L770,729.6 L770.8,729.1 L774.2,725.3 L775.4,724.4 L776.9,724 L778.5,724.2 L779.8,725 L780.8,726.2 L781.2,727.8 L780.9,729.3 L780.1,730.6 L776.8,734.4 L776.4,735.3 L776.4,736.3 L777,737.2 L777.6,737.7 L778.5,738.1 L779.6,738 L780.4,737.3 L783.5,733.4 L784.6,732.4 L786.1,731.9 L787.7,732 L789.1,732.7 L790.1,733.9 L790.6,735.3 L790.5,736.9 L789.8,738.3 L786.7,742.2 L786.3,743.2 L786.5,744.2 L787.1,745 L787.7,745.5 L788.7,745.8 L789.7,745.6 L790.5,745 L793.3,740.8 L794.4,739.7 L795.8,739.1 L797.4,739.1 L798.8,739.7 L799.9,740.8 L800.5,742.2 L800.5,743.8 L799.9,745.3 L797.1,749.4 L796.8,750.4 L797,751.4 L797.7,752.2 L798.3,752.6 L799.3,752.9 L800.3,752.6 L801.1,751.9 L803.6,747.5 L804.6,746.3 L806,745.7 L807.5,745.5 L809,746 L810.2,747.1 L810.9,748.5 L811,750 L810.5,751.5 L808,755.8 L807.7,756.8 L808,757.8 L808.7,758.6 L809.4,758.9 L810.4,759.1 L811.4,758.8 L812.1,758 L814.3,753.5 L815.2,752.3 L816.6,751.5 L818.1,751.3 L819.6,751.7 L820.9,752.6 L821.7,754 L821.9,755.5 L821.5,757 L819.3,761.5 L819.1,762.5 L819.4,763.5 L820.2,764.2 L820.9,764.5 L821.9,764.6 L822.9,764.2 L823.5,763.4 L825.4,758.8 L826.3,757.5 L827.5,756.6 L829.1,756.3 L830.6,756.6 L831.9,757.4 L832.8,758.7 L833.1,760.3 L832.8,761.8 L830.9,766.4 L830.8,767.5 L831.2,768.4 L832,769 L832.8,769.3 L833.8,769.4 L834.7,768.9 L835.3,768 L836.8,763.3 L837.6,761.9 L838.8,760.9 L840.3,760.5 L841.9,760.7 L843.3,761.5 L844.2,762.7 L844.6,764.2 L844.4,765.8 L842.9,770.5 L842.8,771.5 L843.3,772.5 L844.2,773 L844.9,773.3 L845.9,773.2 L846.8,772.7 L847.3,771.8 L848.6,767 L849.2,765.6 L850.4,764.5 L851.9,764 L853.4,764.1 L854.8,764.7 L855.9,765.9 L856.4,767.4 L856.3,768.9 L855.1,773.8 L855.1,774.8 L855.6,775.7 L856.5,776.2 L857.3,776.4 L858.3,776.3 L859.2,775.7 L859.6,774.8 L860.5,769.9 L861.1,768.4 L862.2,767.3 L863.6,766.7 L865.2,766.6 L866.6,767.2 L867.7,768.3 L868.4,769.7 L868.4,771.3 L867.5,776.2 L867.6,777.2 L868.2,778.1 L869.1,778.5 L869.9,778.6 L870.9,778.5 L871.7,777.8 L872.1,776.9 L872.6,771.9 L873.1,770.4 L874.1,769.2 L875.5,768.5 L877.1,768.4 L878.5,768.9 L879.7,769.9 L880.5,771.3 L880.6,772.8 L880,777.8 L880.2,778.8 L880.8,779.6 L881.8,780 L882.6,780.1 L883.6,779.8 L884.3,779.1 L884.7,778.1 L884.9,773.1 L885.2,771.6 L886.2,770.4 L887.5,769.6 L889,769.3 L890.6,769.7 L891.8,770.6 L892.6,772 L892.9,773.5 L892.6,778.5 L892.9,779.5 L893.6,780.3 L894.6,780.6 L895.3,780.6 L896.3,780.3 L897,779.5 L897.3,778.5 L897.2,773.5 L897.4,772 L898.3,770.7 L899.5,769.8 L901.1,769.4 L902.6,769.7 L903.9,770.6 L904.8,771.8 L905.2,773.4 L905.3,778.3 L905.6,779.3 L906.3,780.1 L907.3,780.3 L908.1,780.3 L909.1,779.9 L909.7,779.1 L909.9,778.1 L909.4,773.1 L909.6,771.5 L910.3,770.2 L911.6,769.2 L913.1,768.7 L914.6,768.9 L916,769.7 L917,770.9 L917.4,772.4 L917.9,777.3 L918.2,778.3 L919,779 L920,779.1 L920.8,779 L921.8,778.6 L922.4,777.8 L922.5,776.8 L921.7,771.8 L921.7,770.3 L922.4,768.8 L923.5,767.8 L925,767.2 L926.5,767.3 L928,767.9 L929,769.1 L929.6,770.5 L930.4,775.5 L930.8,776.4 L931.6,777 L932.7,777.1 L933.4,777 L934.3,776.5 L934.9,775.6 L934.9,774.6 L933.8,769.7 L933.7,768.1 L934.3,766.7 L935.3,765.5 L936.8,764.9 L938.3,764.9 L939.8,765.4 L940.9,766.5 L941.6,767.9 L942.7,772.8 L943.2,773.7 L944.1,774.2 L945.1,774.3 L945.9,774 L946.7,773.5 L947.2,772.6 L947.2,771.6 L945.7,766.8 L945.6,765.2 L946,763.7 L947,762.5 L948.4,761.8 L949.9,761.6 L951.4,762.1 L952.6,763.1 L953.4,764.4 L954.8,769.2 L955.4,770.1 L956.3,770.6 L957.3,770.5 L958.1,770.3 L958.9,769.7 L959.3,768.7 L959.2,767.7 L957.4,763 L957.2,761.5 L957.5,760 L958.4,758.7 L959.7,757.9 L961.3,757.6 L962.8,757.9 L964.1,758.8 L964.9,760.2 L966.7,764.8 L967.3,765.7 L968.2,766.1 L969.3,766 L970,765.7 L970.8,765 L971.1,764.1 L971,763 L968.9,758.5 L968.5,757 L968.7,755.4 L969.5,754.1 L970.8,753.2 L972.3,752.8 L973.9,753.1 L975.2,753.9 L976.1,755.1 L978.2,759.7 L978.9,760.5 L979.9,760.8 L980.9,760.6 L981.6,760.3 L982.3,759.6 L982.6,758.6 L982.4,757.6 L979.9,753.2 L979.5,751.7 L979.6,750.2 L980.3,748.8 L981.5,747.8 L983,747.3 L984.6,747.4 L986,748.1 L987,749.3 L989.4,753.7 L990.1,754.5 L991.1,754.8 L992.1,754.5 L992.8,754.1 L993.4,753.4 L993.7,752.3 L993.4,751.4 L990.7,747.1 L990.1,745.7 L990.1,744.1 L990.7,742.7 L991.9,741.6 L993.3,741 L994.9,741.1 L996.3,741.7 L997.4,742.8 L1000.1,747 L1000.9,747.7 L1001.9,748 L1002.9,747.6 L1003.5,747.2 L1004.1,746.4 L1004.3,745.4 L1003.9,744.4 L1000.9,740.4 L1000.3,739 L1000.2,737.4 L1000.7,735.9 L1001.7,734.8 L1003.2,734.1 L1004.7,734 L1006.2,734.6 L1007.3,735.6 L1010.3,739.6 L1011.1,740.3 L1012.2,740.4 L1013.1,740 L1013.7,739.6 L1014.3,738.7 L1014.4,737.7 L1013.9,736.7 L1010.7,732.9 L1009.9,731.6 L1009.8,730 L1010.2,728.5 L1011.1,727.3 L1012.5,726.5 L1014.1,726.3 L1015.6,726.8 L1016.8,727.7 L1020,731.5 L1020.9,732.1 L1021.9,732.2 L1022.9,731.8 L1023.4,731.2 L1023.9,730.3 L1024,729.3 L1023.5,728.4 L1020,724.8 L1019.1,723.5 L1018.8,722 L1019.1,720.5 L1020,719.2 L1021.3,718.3 L1022.8,718 L1024.4,718.4 L1025.7,719.2 L1029.2,722.8 L1030.1,723.3 L1031.1,723.3 L1032,722.8 L1032.5,722.3 L1033,721.3 L1032.9,720.3 L1032.4,719.5 L1028.6,716.1 L1027.7,714.9 L1027.3,713.4 L1027.5,711.8 L1028.3,710.5 L1029.5,709.5 L1031.1,709.1 L1032.6,709.4 L1033.9,710.2 L1037.7,713.5 L1038.6,713.9 L1039.6,713.9 L1040.5,713.3 L1041,712.7 L1041.4,711.8 L1041.3,710.7 L1040.6,709.9 L1036.7,706.8 L1035.7,705.7 L1035.2,704.2 L1035.3,702.6 L1036,701.2 L1037.2,700.2 L1038.6,699.7 L1040.2,699.8 L1041.6,700.5 L1045.5,703.6 L1046.5,704 L1047.5,703.8 L1048.3,703.2 L1048.8,702.6 L1049.1,701.6 L1048.9,700.6 L1048.3,699.8 L1044.1,697 L1043,695.9 L1042.4,694.5 L1042.4,692.9 L1043,691.5 L1044.1,690.4 L1045.5,689.8 L1047.1,689.8 L1048.6,690.4 L1052.7,693.2 L1053.7,693.5 L1054.7,693.3 L1055.5,692.6 L1055.9,692 L1056.2,691 L1055.9,690 L1055.2,689.2 L1050.8,686.7 L1049.6,685.7 L1049,684.3 L1048.8,682.8 L1049.3,681.3 L1050.4,680.1 L1051.8,679.4 L1053.3,679.3 L1054.8,679.8 L1059.1,682.3 L1060.1,682.6 L1061.1,682.3 L1061.9,681.6 L1062.2,680.9 L1062.4,679.9 L1062.1,678.9 L1061.3,678.2 L1056.8,676 L1055.6,675.1 L1054.8,673.7 L1054.6,672.2 L1055,670.7 L1055.9,669.4 L1057.3,668.6 L1058.8,668.4 L1060.3,668.8 L1064.8,671 L1065.8,671.2 L1066.8,670.9 L1067.5,670.1 L1067.8,669.4 L1067.9,668.4 L1067.5,667.4 L1066.7,666.8 L1062.1,664.9 L1060.8,664 L1059.9,662.8 L1059.6,661.2 L1059.9,659.7 L1060.7,658.4 L1062,657.5 L1063.6,657.2 L1065.1,657.5 L1069.7,659.4 L1070.8,659.5 L1071.7,659.1 L1072.3,658.3 L1072.4,657.9 L1067.2,656 L1067.2,656 L1068.7,651.7 L1070.1,647.4 L1071.4,643.1 L1072.6,638.8 L1073.6,634.4 L1074.6,630 L1075.4,625.6 L1076.2,621.1 L1076.8,616.7 L1077.3,612.2 L1077.7,607.7 L1083.2,608.1 L1083.4,607.7 L1083.1,606.7 L1082.4,606 L1081.4,605.6 L1076.4,605.4 L1074.9,605.1 L1073.7,604.1 L1072.9,602.8 L1072.6,601.3 L1073,599.7 L1073.9,598.5 L1075.3,597.7 L1076.8,597.4 L1081.8,597.7 L1082.8,597.4 L1083.6,596.7 L1083.9,595.7 L1083.9,595 L1083.6,594 L1082.8,593.3 L1081.8,593 L1076.8,593.1 L1075.3,592.9 L1074,592 L1073.1,590.8 L1072.7,589.2 L1073,587.7 L1073.9,586.4 L1075.1,585.5 L1076.7,585.1 L1081.6,585 L1082.6,584.7 L1083.4,584 L1083.6,583 L1083.6,582.2 L1083.2,581.2 L1082.4,580.6 L1081.4,580.4 L1076.4,580.9 L1074.8,580.7 L1073.5,580 L1072.5,578.7 L1072,577.2 L1072.2,575.7 L1073,574.3 L1074.2,573.3 L1075.7,572.9 L1080.6,572.4 L1081.6,572.1 L1082.3,571.3 L1082.4,570.3 L1082.3,569.5 L1081.9,568.5 L1081.1,567.9 L1080.1,567.8 L1075.1,568.6 L1073.6,568.6 L1072.1,567.9 L1071.1,566.8 L1070.5,565.3 L1070.6,563.8 L1071.2,562.3 L1072.4,561.3 L1073.8,560.7 L1078.8,559.9 L1079.7,559.5 L1080.3,558.7 L1080.4,557.6 L1080.3,556.9 L1079.8,556 L1078.9,555.4 L1077.9,555.4 L1073,556.5 L1071.4,556.6 L1070,556 L1068.8,555 L1068.2,553.5 L1068.2,552 L1068.7,550.5 L1069.8,549.4 L1071.2,548.7 L1076.1,547.6 L1077,547.1 L1077.5,546.2 L1077.6,545.2 L1077.3,544.4 L1076.8,543.6 L1075.9,543.1 L1074.9,543.1 L1070.1,544.6 L1068.5,544.7 L1067,544.3 L1065.8,543.3 L1065.1,541.9 L1064.9,540.4 L1065.4,538.9 L1066.4,537.7 L1067.7,536.9 L1072.5,535.5 L1073.4,534.9 L1073.9,534 L1073.8,533 L1073.6,532.2 L1073,531.4 L1072,531 L1071,531.1 L1066.3,532.9 L1064.8,533.1 L1063.3,532.8 L1062,531.9 L1061.2,530.6 L1060.9,529 L1061.2,527.5 L1062.1,526.2 L1063.5,525.4 L1068.1,523.6 L1069,523 L1069.4,522.1 L1069.3,521 L1069,520.3 L1068.3,519.5 L1067.4,519.2 L1066.3,519.3 L1061.8,521.4 L1060.3,521.8 L1058.7,521.6 L1057.4,520.8 L1056.5,519.5 L1056.1,518 L1056.4,516.4 L1057.2,515.1 L1058.4,514.2 L1063,512.1 L1063.8,511.4 L1064.1,510.4 L1063.9,509.4 L1063.6,508.7 L1062.9,508 L1061.9,507.7 L1060.9,507.9 L1056.5,510.4 L1055,510.8 L1053.5,510.7 L1052.1,510 L1051.1,508.8 L1050.6,507.3 L1050.7,505.7 L1051.4,504.3 L1052.6,503.3 L1057,500.9 L1057.8,500.2 L1058.1,499.2 L1057.8,498.2 L1057.4,497.5 L1056.7,496.9 L1055.6,496.6 L1054.7,496.9 L1050.4,499.6 L1049,500.2 L1047.4,500.2 L1046,499.6 L1044.9,498.4 L1044.3,497 L1044.4,495.4 L1045,494 L1046.1,492.9 L1050.3,490.2 L1051,489.4 L1051.3,488.4 L1050.9,487.4 L1050.5,486.8 L1049.7,486.2 L1048.7,486 L1047.7,486.4 L1043.7,489.4 L1042.3,490 L1040.7,490.1 L1039.2,489.6 L1038.1,488.6 L1037.4,487.1 L1037.3,485.6 L1037.9,484.1 L1038.9,483 L1042.9,480 L1043.6,479.2 L1043.7,478.1 L1043.3,477.2 L1042.9,476.6 L1042,476 L1041,475.9 L1040,476.4 L1036.2,479.6 L1034.9,480.4 L1033.3,480.5 L1031.8,480.1 L1030.6,479.2 L1029.8,477.8 L1029.6,476.2 L1030.1,474.7 L1031,473.5 L1034.8,470.3 L1035.4,469.4 L1035.5,468.4 L1035.1,467.4 L1034.5,466.9 L1033.6,466.4 L1032.6,466.3 L1031.7,466.8 L1028.1,470.3 L1026.8,471.2 L1025.3,471.5 L1023.8,471.2 L1022.5,470.3 L1021.6,469 L1021.3,467.5 L1021.7,465.9 L1022.5,464.6 L1026.1,461.1 L1026.6,460.2 L1026.6,459.2 L1026.1,458.3 L1025.6,457.8 L1024.6,457.3 L1023.6,457.4 L1022.8,457.9 L1019.4,461.7 L1018.2,462.6 L1016.7,463 L1015.1,462.8 L1013.8,462 L1012.8,460.8 L1012.4,459.2 L1012.7,457.7 L1013.5,456.4 L1016.8,452.6 L1017.2,451.7 L1017.2,450.7 L1016.6,449.8 L1016,449.3 L1015.1,448.9 L1014,449 L1013.2,449.7 L1010.1,453.6 L1009,454.6 L1007.5,455.1 L1005.9,455 L1004.5,454.3 L1003.5,453.1 L1003,451.7 L1003.1,450.1 L1003.8,448.7 L1006.9,444.8 L1007.3,443.8 L1007.1,442.8 L1006.5,442 L1005.9,441.5 L1004.9,441.2 L1003.9,441.4 L1003.1,442 L1000.3,446.2 L999.2,447.3 L997.8,447.9 L996.2,447.9 L994.8,447.3 L993.7,446.2 L993.1,444.8 L993.1,443.2 L993.7,441.7 L996.5,437.6 L996.8,436.6 L996.6,435.6 L995.9,434.8 L995.3,434.4 L994.3,434.1 L993.3,434.4 L992.5,435.1 L990,439.5 L989,440.7 L987.6,441.3 L986.1,441.5 L984.6,441 L983.4,439.9 L982.7,438.5 L982.6,437 L983.1,435.5 L985.6,431.2 L985.9,430.2 L985.6,429.2 L984.9,428.4 L984.2,428.1 L983.2,427.9 L982.2,428.2 L981.5,429 L979.3,433.5 L978.4,434.7 L977,435.5 L975.5,435.7 L974,435.3 L972.7,434.4 L971.9,433 L971.7,431.5 L972.1,430 L974.3,425.5 L974.5,424.5 L974.2,423.5 L973.4,422.8 L972.7,422.5 L971.7,422.4 L970.7,422.8 L970.1,423.6 L968.2,428.2 L967.3,429.5 L966.1,430.4 L964.5,430.7 L963,430.4 L961.7,429.6 L960.8,428.3 L960.5,426.7 L960.8,425.2 L962.7,420.6 L962.8,419.5 L962.4,418.6 L961.6,418 L960.8,417.7 L959.8,417.6 L958.9,418.1 L958.3,419 L956.8,423.7 L956,425.1 L954.8,426.1 L953.3,426.5 L951.7,426.3 L950.3,425.5 L949.4,424.3 L949,422.8 L949.2,421.2 L950.7,416.5 L950.8,415.5 L950.3,414.5 L949.4,414 L948.7,413.7 L947.7,413.8 L946.8,414.3 L946.3,415.2 L945,420 L944.4,421.4 L943.2,422.5 L941.7,423 L940.2,422.9 L938.8,422.3 L937.7,421.1 L937.2,419.6 L937.3,418.1 L938.5,413.2 L938.5,412.2 L938,411.3 L937.1,410.8 L936.3,410.6 L935.3,410.7 L934.4,411.3 L934,412.2 L933.1,417.1 L932.5,418.6 L931.4,419.7 L930,420.3 L928.4,420.4 L927,419.8 L925.9,418.7 L925.2,417.3 L925.2,415.7 L926.1,410.8 L926,409.8 L925.4,408.9 L924.5,408.5 L923.7,408.4 L922.7,408.5 L921.9,409.2 L921.5,410.1 L921,415.1 L920.5,416.6 L919.5,417.8 L918.1,418.5 L916.5,418.6 L915.1,418.1 L913.9,417.1 L913.1,415.7 L913,414.2 L913.6,409.2 L913.4,408.2 L912.8,407.4 L911.8,407 L911,406.9 L910,407.2 L909.3,407.9 L908.9,408.9 L908.7,413.9 L908.4,415.4 L907.4,416.6 L906.1,417.4 L904.6,417.7 L903,417.3 L901.8,416.4 L901,415 L900.7,413.5 L901,408.5 L900.7,407.5 L900,406.7 L899,406.4 L898.3,406.4 L897.3,406.7 L896.6,407.5 L896.3,408.5 L896.4,413.5 L896.2,415 L895.3,416.3 L894.1,417.2 L892.5,417.6 L891,417.3 L889.7,416.4 L888.8,415.2 L888.4,413.6 L888.3,408.7 L888,407.7 L887.3,406.9 L886.3,406.7Z" clip-rule="evenodd" fill-rule="evenodd"/>
<clipPath id="cgear"><use href="#gear"/></clipPath>
<clipPath id="c14"><path d="M896.8,593.5 L1216.4,610.2 L1216.6,582.1 L1214.4,554 L1209.6,526.2 L1202.5,499 L1193,472.5 L1181.2,446.9 L1167.2,422.4 L1151.1,399.3 L1133.1,377.7 L1113.2,357.8 L1091.6,339.6 L1068.5,323.5 L1044.1,309.4 L1018.6,297.6 L992.1,288 L964.9,280.8 L937.1,276 L909,273.7 L880.9,273.9 L852.8,276.5Z M896.8,593.5 L577.2,576.8 L577,605 L579.3,633.2 L584,661.1 L591.2,688.5 L600.8,715.1 L612.7,740.8 L626.8,765.3 L643,788.5 L661.2,810.1 L681.3,830.1 L703,848.2 L726.3,864.3 L750.9,878.3 L776.6,890.1 L803.2,899.5 L830.6,906.6 L858.5,911.2 L886.7,913.3 L915,913 L943.2,910.1 L971,904.8Z"/></clipPath>
<clipPath id="c15"><path d="M896.8,593.5 L852.8,276.5 L823.9,281.9 L795.5,289.9 L768.1,300.5 L741.7,313.6 L716.6,329 L693.1,346.7 L671.3,366.5 L651.4,388.2 L633.5,411.6 L617.9,436.6 L604.7,462.9 L593.9,490.3 L585.7,518.5 L580.1,547.5 L577.2,576.8Z M896.8,593.5 L971,904.8 L999.2,896.7 L1026.5,886 L1052.8,872.9 L1077.7,857.4 L1101.1,839.8 L1122.8,820 L1142.7,798.3 L1160.4,774.9 L1175.9,750 L1189.1,723.8 L1199.8,696.5 L1207.9,668.3 L1213.5,639.5 L1216.4,610.2Z"/></clipPath>
<clipPath id="c16"><path d="M1104,616.4 L1103.6,620.1 L1103.1,623.8 L1102.5,627.6 L1101.9,631.3 L1101.1,634.9 L1100.4,638.6 L1099.5,642.3 L1098.6,645.9 L1097.6,649.6 L1096.6,653.2 L1095.5,656.8 L1094.3,660.3 L1093.1,663.9 L1091.8,667.4 L1090.4,670.9 L1065.3,660.9 L1066.5,657.9 L1067.6,654.8 L1068.7,651.7 L1069.7,648.6 L1070.7,645.5 L1071.6,642.3 L1072.5,639.1 L1073.3,636 L1074,632.8 L1074.7,629.6 L1075.3,626.4 L1075.9,623.1 L1076.4,619.9 L1076.8,616.7 L1077.2,613.4 L1083.8,613.2 L1084.6,601.4 L1097.1,601.9 L1096.1,615.5Z" clip-rule="nonzero"/></clipPath>
<clipPath id="c17"><path d="M689.6,570.6 L690,566.9 L690.5,563.2 L691.1,559.4 L691.7,555.7 L692.5,552.1 L693.2,548.4 L694.1,544.7 L695,541.1 L696,537.4 L697,533.8 L698.1,530.2 L699.3,526.7 L700.5,523.1 L701.8,519.6 L703.2,516.1 L728.3,526.1 L727.1,529.1 L726,532.2 L724.9,535.3 L723.9,538.4 L722.9,541.5 L722,544.7 L721.1,547.9 L720.3,551 L719.6,554.2 L718.9,557.4 L718.3,560.6 L717.7,563.9 L717.2,567.1 L716.8,570.3 L716.4,573.6 L709.8,573.8 L709,585.6 L696.5,585.1 L697.5,571.5Z" clip-rule="nonzero"/></clipPath>
<clipPath id="c18"><path d="M783.8,593.5 a113,113 0 1,0 226,0 a113,113 0 1,0 -226,0Z M810.8,593.5 a86,86 0 1,0 172,0 a86,86 0 1,0 -172,0Z" clip-rule="evenodd"/></clipPath>
<clipPath id="c19"><path d="M821.8,593.5 a75,75 0 1,0 150,0 a75,75 0 1,0 -150,0Z M834.8,593.5 a62,62 0 1,0 124,0 a62,62 0 1,0 -124,0Z" clip-rule="evenodd"/></clipPath>
<clipPath id="c20"><path d="M989.4,577.9 a5.7,5.7 0 1,0 11.4,0 a5.7,5.7 0 1,0 -11.4,0Z" clip-rule="nonzero"/></clipPath>
<clipPath id="c21"><path d="M948.9,512.5 a5.7,5.7 0 1,0 11.4,0 a5.7,5.7 0 1,0 -11.4,0Z" clip-rule="nonzero"/></clipPath>
<clipPath id="c22"><path d="M875.5,495.2 a5.7,5.7 0 1,0 11.4,0 a5.7,5.7 0 1,0 -11.4,0Z" clip-rule="nonzero"/></clipPath>
<clipPath id="c23"><path d="M810.1,535.7 a5.7,5.7 0 1,0 11.4,0 a5.7,5.7 0 1,0 -11.4,0Z" clip-rule="nonzero"/></clipPath>
<clipPath id="c24"><path d="M792.8,609.1 a5.7,5.7 0 1,0 11.4,0 a5.7,5.7 0 1,0 -11.4,0Z" clip-rule="nonzero"/></clipPath>
<clipPath id="c25"><path d="M832.6,674 a5.7,5.7 0 1,0 11.4,0 a5.7,5.7 0 1,0 -11.4,0Z" clip-rule="nonzero"/></clipPath>
<clipPath id="c26"><path d="M907.5,691.6 a5.7,5.7 0 1,0 11.4,0 a5.7,5.7 0 1,0 -11.4,0Z" clip-rule="nonzero"/></clipPath>
<clipPath id="c27"><path d="M972.1,651.3 a5.7,5.7 0 1,0 11.4,0 a5.7,5.7 0 1,0 -11.4,0Z" clip-rule="nonzero"/></clipPath>
<clipPath id="c28"><path d="M791.2,273 L829.6,265.9 L830.3,270 L792,277.2Z" clip-rule="nonzero"/></clipPath>
<clipPath id="c29"><path d="M848.2,262.4 L877.7,256.8 L878.5,261 L849,266.5Z" clip-rule="nonzero"/></clipPath>
<clipPath id="c30"><path d="M748.3,150 L876.7,146.7 L876.7,151.6 L749.2,154.6Z" clip-rule="nonzero"/></clipPath>
<clipPath id="c31"><path d="M967.6,213.3 L1173.4,324.6 L1168.6,335.7 L961.9,223.9Z" clip-rule="nonzero"/></clipPath>
<clipPath id="c32"><path d="M1173.4,324.6 L1185.3,317.4 L1186.5,321.5 L1168.6,335.7Z" clip-rule="nonzero"/></clipPath>
<clipPath id="c33"><path d="M1229.7,421.2 a66.5,66.5 0 1,0 133,0 a66.5,66.5 0 1,0 -133,0Z" clip-rule="nonzero"/></clipPath>
<clipPath id="c34"><path d="M1314.9,413.6 L1317,415.5 L1319.7,416 L1322.4,416.8 L1324.9,417.9 L1327.2,419.4 L1329.3,421.2 L1331.1,423.2 L1332.6,425.5 L1333.7,427.9 L1334.5,430.4 L1334.9,433.1 L1334.9,435.7 L1334.5,438.4 L1333.7,440.9 L1332.6,443.3 L1331.1,445.6 L1329.3,447.6 L1327.2,449.4 L1324.9,450.9 L1322.4,452 L1319.7,452.8 L1317,453.3 L1314.5,455.2Z" clip-rule="nonzero"/></clipPath></defs>
<g clip-path="url(#c1)"><path d="M186.1,549.3 L869.3,-133.9M193.9,557 L877,-126.1M201.7,564.8 L884.8,-118.3M209.5,572.6 L892.6,-110.5M217.2,580.4 L900.4,-102.8M225,588.1 L908.1,-95M232.8,595.9 L915.9,-87.2M240.6,603.7 L923.7,-79.4M248.4,611.5 L931.5,-71.6M256.1,619.3 L939.3,-63.9M263.9,627 L947,-56.1M271.7,634.8 L954.8,-48.3M279.5,642.6 L962.6,-40.5M287.3,650.4 L970.4,-32.7M295,658.2 L978.2,-25M302.8,665.9 L985.9,-17.2M310.6,673.7 L993.7,-9.4M318.4,681.5 L1001.5,-1.6M326.1,689.3 L1009.3,6.1M333.9,697 L1017,13.9M341.7,704.8 L1024.8,21.7M349.5,712.6 L1032.6,29.5M357.3,720.4 L1040.4,37.3M365,728.2 L1048.2,45M372.8,735.9 L1055.9,52.8M380.6,743.7 L1063.7,60.6M388.4,751.5 L1071.5,68.4M396.1,759.3 L1079.3,76.1M403.9,767 L1087,83.9M411.7,774.8 L1094.8,91.7M419.5,782.6 L1102.6,99.5M427.3,790.4 L1110.4,107.3M435,798.2 L1118.2,115M442.8,805.9 L1125.9,122.8M450.6,813.7 L1133.7,130.6M458.4,821.5 L1141.5,138.4M466.1,829.3 L1149.3,146.1M473.9,837 L1157,153.9M481.7,844.8 L1164.8,161.7M489.5,852.6 L1172.6,169.5M497.3,860.4 L1180.4,177.3M505,868.2 L1188.2,185M512.8,875.9 L1195.9,192.8M520.6,883.7 L1203.7,200.6M528.4,891.5 L1211.5,208.4M536.2,899.3 L1219.3,216.2M543.9,907.1 L1227.1,223.9M551.7,914.8 L1234.8,231.7M559.5,922.6 L1242.6,239.5M567.3,930.4 L1250.4,247.3M575,938.2 L1258.2,255M582.8,945.9 L1265.9,262.8M590.6,953.7 L1273.7,270.6M598.4,961.5 L1281.5,278.4M606.2,969.3 L1289.3,286.2M613.9,977.1 L1297.1,293.9M621.7,984.8 L1304.8,301.7M629.5,992.6 L1312.6,309.5M637.3,1000.4 L1320.4,317.3M645,1008.2 L1328.2,325M652.8,1015.9 L1335.9,332.8M660.6,1023.7 L1343.7,340.6M668.4,1031.5 L1351.5,348.4M676.2,1039.3 L1359.3,356.2M683.9,1047.1 L1367.1,363.9M691.7,1054.8 L1374.8,371.7M699.5,1062.6 L1382.6,379.5M707.3,1070.4 L1390.4,387.3M715.1,1078.2 L1398.2,395.1M722.8,1086 L1406,402.8M730.6,1093.7 L1413.7,410.6M738.4,1101.5 L1421.5,418.4M746.2,1109.3 L1429.3,426.2M753.9,1117.1 L1437.1,433.9M761.7,1124.8 L1444.8,441.7M769.5,1132.6 L1452.6,449.5M777.3,1140.4 L1460.4,457.3M785.1,1148.2 L1468.2,465.1M792.8,1156 L1476,472.8M800.6,1163.7 L1483.7,480.6M808.4,1171.5 L1491.5,488.4M816.2,1179.3 L1499.3,496.2M823.9,1187.1 L1507.1,503.9M831.7,1194.8 L1514.8,511.7M839.5,1202.6 L1522.6,519.5M847.3,1210.4 L1530.4,527.3M855.1,1218.2 L1538.2,535.1M862.8,1226 L1546,542.8M870.6,1233.7 L1553.7,550.6" stroke="#111" stroke-width="1.7" fill="none"/></g>
<path d="M757,288.5 C758.6,288.2 760.3,287.9 761.9,287.6 C805.6,279.4 849.2,271.3 892.9,263.1 C894.5,262.8 896.1,262.1 897.8,262.2 C902.2,262.5 906.7,263.1 911,264.2 C914.9,265.2 918.3,267.5 922.2,268.5 C925.8,269.5 929.8,268.9 933.3,270.2 C937.3,271.7 940.8,274.4 944.4,276.7 C949.7,279.9 954.9,283.3 960,286.7 C961.4,287.6 962.7,288.7 964,289.7 C968.7,293.2 973.5,296.8 978.2,300.3 C979.5,301.3 980.5,303.3 982.2,303.3 C983.5,303.3 984,301.3 985,300.5 C986.1,299.7 987.2,298.7 988.5,298.5 C990,298.3 991.7,298.7 993,299.5 C994.3,300.3 995.6,301.5 996,303 C996.5,304.6 995.8,306.3 995.5,308 C995.3,309.4 994.1,310.9 994.6,312.2 C995.7,314.9 997.6,317.4 1000,319 C1002.6,320.8 1005.8,321.9 1008.9,322 C1010.5,322.1 1011.5,320 1013,319.5 C1014.4,319 1016.1,318.4 1017.5,319 C1018.9,319.6 1019.8,321.1 1020.5,322.5 C1021.2,323.9 1021.1,325.5 1021.5,327 C1021.7,327.9 1022.3,328.6 1022.5,329.5 C1022.6,329.8 1022,330.2 1022.3,330.4 C1025.3,332.2 1028.6,333.5 1031.8,335.1 C1034.9,336.8 1038,338.5 1041.1,340.2 C1044.1,341.9 1047.2,343.8 1050.2,345.6 C1053.2,347.5 1056.1,349.4 1059.1,351.3 C1062,353.3 1064.9,355.3 1067.8,357.4 C1070.6,359.5 1073.4,361.6 1076.2,363.8 C1079,365.9 1081.8,368.2 1084.5,370.4 C1087.2,372.7 1089.8,375 1092.4,377.4 C1095.1,379.8 1097.6,382.2 1100.2,384.6 C1102.7,387.1 1105.2,389.6 1107.6,392.2 C1110,394.7 1112.5,397.3 1114.8,400 C1116.6,402.1 1117.9,404.8 1120,406.7 C1122.6,409 1125.7,410.8 1128.9,412.2 C1131.7,413.4 1135.2,412.7 1137.8,414.4 C1140.7,416.2 1142.6,419.3 1144.4,422.2 C1146,424.9 1147,428 1147.8,431 C1148.5,433.6 1148.3,436.3 1148.9,438.9 C1149.8,442.7 1150.4,446.6 1152.2,450 C1153.8,453 1155.8,456.4 1158.9,457.8 C1160.7,458.6 1162.5,455.9 1164.5,455.5 C1166,455.2 1167.8,454.6 1169,455.5 C1170.3,456.4 1171.4,458.4 1171,460 C1170.6,462 1168.5,463.2 1167,464.5 C1165.8,465.5 1163.9,465.7 1163,467 C1162.2,468.1 1162.4,469.7 1162.2,471 C1162.1,471.5 1161.9,472.1 1162.1,472.6 C1163.5,476.5 1165.4,480.2 1166.9,484 C1168.5,487.8 1170,491.7 1171.4,495.6 C1172.7,499.4 1171.9,504.9 1175.3,507.3 C1177.3,508.8 1178.7,503.5 1181,502.5 C1182.7,501.8 1185,501.5 1186.5,502.5 C1188,503.5 1188.9,505.7 1188.5,507.5 C1188.1,509.5 1186,510.7 1184.5,512 C1183.3,513 1181.4,513.2 1180.5,514.5 C1179.6,515.8 1179.9,517.5 1179.5,519 C1179.4,519.5 1178.9,520 1179,520.5 C1179.6,524 1180.7,527.3 1181.5,530.7 C1182.2,534.1 1182.9,537.5 1183.5,540.9 C1184.1,544.4 1184.7,547.8 1185.2,551.3 C1185.7,554.7 1186.2,558.2 1186.6,561.6 C1186.9,565.1 1187.3,568.6 1187.5,572 C1187.8,575.5 1188,579 1188.1,582.5 C1188.2,586 1188.3,589.4 1188.3,592.9 C1188.3,596.4 1188.3,599.9 1188.1,603.4 C1188,606.9 1187.8,610.4 1187.6,613.8 C1187.3,617.3 1187,620.8 1186.7,624.3 C1186.3,627.7 1185.9,631.2 1185.4,634.6 C1184.9,638.1 1184.3,641.5 1183.7,645 C1183.1,648.4 1182.4,651.8 1181.7,655.2 C1181,658.6 1180.2,662 1179.3,665.4 C1178.4,668.8 1177.5,672.1 1176.5,675.5 C1175.6,678.8 1174.5,682.2 1173.4,685.5 C1172.3,688.8 1171.2,692.1 1169.9,695.3 C1168.7,698.6 1167.4,701.8 1166.1,705.1 C1164.8,708.3 1163.4,711.5 1161.9,714.6 C1160.5,717.8 1159,721 1157.4,724.1 C1155.9,727.2 1154.2,730.3 1152.6,733.3 C1150.9,736.4 1149.2,739.4 1147.4,742.4 C1145.6,745.4 1143.8,748.4 1141.9,751.3 C1140,754.2 1138.1,757.1 1136.1,760 C1134.1,762.9 1132,765.7 1129.9,768.5 C1127.8,771.3 1125.7,774 1123.5,776.7 C1121.3,779.4 1119.5,782.5 1116.8,784.7 C1111.6,789 1105.7,792.4 1100,796 C1094.6,799.5 1087.6,801.1 1083.5,806 C1082.1,807.7 1085.7,809.9 1086.5,812 C1087.7,815.3 1089,818.6 1089.5,822 C1090.1,825.6 1090.2,829.4 1089.8,833 C1089.4,836.4 1088.6,839.9 1087,843 C1085.6,845.7 1083.4,848.1 1081,850 C1078.3,852 1075.1,853.3 1072,854.5 C1070.4,855.1 1068.7,855.1 1067.1,855.4 C1044.1,859.8 1021.2,864.2 998.2,868.6 C996.6,868.9 995,869.3 993.3,869.5 C991.6,869.7 990,869.5 988.3,869.5 C929.8,869.8 871.3,870.2 812.8,870.5 C811.1,870.5 809.4,870.9 807.8,870.5 C801.7,868.9 796,866.1 790,864.4 C788.4,864 786.7,864.3 785,864.2 C762.3,863.5 739.7,862.9 717,862.2 C715.3,862.1 713.6,862.3 712,862 C706.9,861.2 701.5,860.9 696.7,858.9 C693.9,857.8 691.6,855.5 690,853 C687.4,849 686,844.4 684.4,840 C683.8,838.4 683.8,836.7 683.4,835.1 C682.6,831 681.8,826.8 681,822.7 C680.6,821.1 680.4,819.4 680,817.8 C679.6,816.2 679.2,814.6 678.8,812.9 C677.4,807.2 675.9,801.6 674.5,795.9 C674.1,794.2 673.9,792.6 673.3,791 C670.9,784.3 668.9,777.3 665.6,771 C663.3,766.6 660.4,762.3 656.7,758.9 C654.3,756.6 651,755.4 647.8,754.4 C646.2,753.9 644.5,754.3 642.8,754.3 C638,754.2 633.1,754.1 628.3,754 C626.6,754 624.9,754.2 623.3,753.9 C618.1,752.9 612.6,752.4 607.8,750 C604.5,748.3 601.8,745.4 600,742.2 C598.1,738.8 597.9,734.8 597.2,731 C596.9,729.4 597.2,727.7 597.2,726 C597.2,719.7 597.2,713.5 597.2,707.2 C597.2,705.5 597.1,703.9 597.2,702.2 C597.3,699.2 596.7,696 597.8,693.3 C599.2,690 601.9,687.5 604.4,685 C607.3,682 611.7,680.3 613.9,676.7 C615.1,674.8 614,672.2 613.9,670 C613.8,668.3 613.4,666.7 613.2,665.1 C611.6,654.7 610.1,644.3 608.5,633.9 C608.3,632.3 608,630.7 607.8,629 C607.6,627.3 607.5,625.7 607.3,624 C606.5,616.2 605.7,608.4 604.9,600.6 C604.7,598.9 604.5,597.3 604.4,595.6 C604.3,593.9 604.5,592.3 604.6,590.6 C604.9,583.4 605.1,576.2 605.4,569 C605.5,567.3 605.4,565.7 605.6,564 C605.8,562.3 606.1,560.7 606.4,559.1 C607.7,550.7 608.9,542.3 610.2,533.9 C610.5,532.3 610.6,530.6 611,529 C611.4,527.4 611.9,525.8 612.4,524.2 C615.1,514.7 617.9,505.3 620.6,495.8 C621.1,494.2 621.7,492.6 622,491 C622.2,489.7 622.2,488.3 622,487 C621.6,484.6 620.8,482.3 620,480 C619.5,478.4 618.6,477 618,475.4 C614.9,468.5 611.8,461.5 608.7,454.6 C608.1,453 607.4,451.5 606.7,450 C606,448.5 605.4,446.9 604.7,445.4 C602.1,439.5 599.6,433.5 597,427.6 C596.3,426.1 595.5,424.6 595,423 C593.7,418.7 593.5,414.1 591.7,410 C589,404.1 585,398.9 581.7,393.3 C580.9,391.9 580.1,390.4 579.4,388.9 C575.9,382.4 572.5,375.9 569,369.4 C568.3,367.9 567.3,366.6 566.7,365 C565,360.3 563.6,355.5 562.1,350.7 L570.5,343.6 L564.6,336.7 L600.4,306.2 L605.6,312.3 L627.6,293.4 L621.8,286.6 L659,254.8 L663.6,260.1 L667.8,256.5 L661.3,248.9 L698.9,216.8 L703.4,222.1 L700,227.5 L708.3,219.2 L713.3,217 L718.3,220 L725,233.3 L730,229.6 L736.7,230 L741.7,235 L743.3,243.3 L742.9,250 L741.7,263.3 L745.8,273.3 L753.3,283.3 L757,288.5Z" fill="none" stroke="#111" stroke-width="2.0" />
<circle cx="615.2" cy="421.7" r="11.3" fill="#fff" stroke="#111" stroke-width="1.9" />
<circle cx="619.4" cy="733.3" r="10.5" fill="#fff" stroke="#111" stroke-width="1.9" />
<circle cx="706.7" cy="840" r="11.3" fill="#fff" stroke="#111" stroke-width="1.9" />
<circle cx="1068.3" cy="833.3" r="11" fill="#fff" stroke="#111" stroke-width="1.9" />
<circle cx="1127.2" cy="431.3" r="10.7" fill="#fff" stroke="#111" stroke-width="1.9" />
<circle cx="928.2" cy="287.6" r="11.2" fill="#fff" stroke="#111" stroke-width="1.9" />
<circle cx="1160" cy="568" r="10" fill="#fff" stroke="#111" stroke-width="1.9" />
<path d="M1158.5,558.5 L1161,577.7" fill="none" stroke="#111" stroke-width="1.5" />
<circle cx="657.7" cy="487.7" r="6.2" fill="#fff" stroke="#111" stroke-width="1.4" />
<g clip-path="url(#c2)"><path d="M642.1,485.2 L659,471.9M644.3,488 L661.2,474.7M646.5,490.8 L663.5,477.6M648.7,493.7 L665.7,480.4M650.9,496.5 L667.9,483.3M653.1,499.3 L670.1,486.1M655.4,502.2 L672.3,488.9M657.6,505 L674.5,491.8" stroke="#111" stroke-width="1.2"/></g>
<circle cx="645.2" cy="665.6" r="6.2" fill="#fff" stroke="#111" stroke-width="1.4" />
<g clip-path="url(#c3)"><path d="M628.1,661.9 L644.6,648.1M630.4,664.7 L646.9,650.9M632.7,667.5 L649.2,653.6M635,670.2 L651.5,656.4M637.3,673 L653.8,659.1M639.6,675.7 L656.1,661.9M642,678.5 L658.5,664.6M644.3,681.3 L660.8,667.4" stroke="#111" stroke-width="1.2"/></g>
<circle cx="766.7" cy="828.3" r="6.2" fill="#fff" stroke="#111" stroke-width="1.4" />
<g clip-path="url(#c4)"><path d="M750.7,827.5 L765.9,812.3M753.3,830.1 L768.5,814.9M755.8,832.6 L771,817.4M758.4,835.2 L773.6,820M760.9,837.7 L776.1,822.5M763.4,840.3 L778.7,825M766,842.8 L781.2,827.6M768.5,845.4 L783.8,830.1" stroke="#111" stroke-width="1.2"/></g>
<circle cx="970" cy="845" r="6.2" fill="#fff" stroke="#111" stroke-width="1.4" />
<g clip-path="url(#c5)"><path d="M954.4,845.2 L969.1,829.4M957,847.6 L971.7,831.9M959.7,850.1 L974.3,834.3M962.3,852.5 L977,836.8M964.9,855 L979.6,839.2M967.6,857.4 L982.2,841.7M970.2,859.9 L984.9,844.1M972.8,862.4 L987.5,846.6" stroke="#111" stroke-width="1.2"/></g>
<circle cx="1126" cy="720" r="6.2" fill="#fff" stroke="#111" stroke-width="1.4" />
<g clip-path="url(#c6)"><path d="M1110.4,720.1 L1125,704.4M1113,722.6 L1127.7,706.8M1115.6,725 L1130.3,709.3M1118.3,727.5 L1132.9,711.8M1120.9,730 L1135.6,714.2M1123.5,732.4 L1138.2,716.7M1126.2,734.9 L1140.8,719.1M1128.8,737.3 L1143.5,721.6" stroke="#111" stroke-width="1.2"/></g>
<circle cx="1146.7" cy="521.7" r="6.2" fill="#fff" stroke="#111" stroke-width="1.4" />
<g clip-path="url(#c7)"><path d="M1129.4,519.9 L1144.3,504.5M1132,522.5 L1146.9,507M1134.6,525 L1149.5,509.5M1137.2,527.5 L1152.1,512M1139.7,530 L1154.7,514.5M1142.3,532.5 L1157.3,517M1144.9,535 L1159.9,519.5M1147.5,537.5 L1162.5,522" stroke="#111" stroke-width="1.2"/></g>
<circle cx="1024.4" cy="364.6" r="6.2" fill="#fff" stroke="#111" stroke-width="1.4" />
<g clip-path="url(#c8)"><path d="M1007,362.5 L1022.3,347.2M1009.6,365 L1024.8,349.8M1012.1,367.6 L1027.4,352.3M1014.7,370.1 L1029.9,354.9M1017.2,372.7 L1032.5,357.4M1019.8,375.2 L1035,360M1022.3,377.7 L1037.5,362.5M1024.9,380.3 L1040.1,365.1" stroke="#111" stroke-width="1.2"/></g>
<circle cx="841.1" cy="332.2" r="6.2" fill="#fff" stroke="#111" stroke-width="1.4" />
<g clip-path="url(#c9)"><path d="M824.7,331 L839.9,315.8M827.2,333.6 L842.5,318.3M829.8,336.1 L845,320.9M832.3,338.6 L847.5,323.4M834.9,341.2 L850.1,326M837.4,343.7 L852.6,328.5M840,346.3 L855.2,331.1M842.5,348.8 L857.7,333.6" stroke="#111" stroke-width="1.2"/></g>
<path d="M574.9,338.4 L569.8,342.8 L564.6,336.7 L600.4,306.2 L605.6,312.3 L602,315.3 L691.6,420.3 L665.8,444.9Z" fill="#fff" stroke="#111" stroke-width="1.9" />
<path d="M569.8,342.8 L605.6,312.3" fill="none" stroke="#111" stroke-width="1.7" />
<path d="M635.2,286.9 L627.6,293.4 L621.8,286.6 L659,254.8 L664.9,261.6 L661.8,264.2 L750.8,368.4 L725.5,392.6Z" fill="#fff" stroke="#111" stroke-width="1.9" />
<path d="M627.6,293.4 L664.9,261.6" fill="none" stroke="#111" stroke-width="1.7" />
<path d="M678.8,249.7 L669.1,258 L661.3,248.9 L698.9,216.8 L706.7,225.9 L702.9,229.1 L790.6,331.8 L767.8,353.9Z" fill="#fff" stroke="#111" stroke-width="1.9" />
<path d="M669.1,258 L706.7,225.9" fill="none" stroke="#111" stroke-width="1.7" />
<path d="M666.6,428.4 L679.2,417.7 L681.1,420 L668.6,430.7Z" fill="#777" stroke="#111" stroke-width="1.3" />
<path d="M729.4,383.4 L741.6,373 L743.5,375.3 L731.4,385.7Z" fill="#777" stroke="#111" stroke-width="1.3" />
<path d="M770.8,344.1 L783,333.7 L784.9,336 L772.8,346.4Z" fill="#777" stroke="#111" stroke-width="1.3" />
<path d="M706,369.8 L737.8,353.2" fill="none" stroke="#111" stroke-width="1.5" />
<path d="M716.4,364.2 L730,386.1" fill="none" stroke="#111" stroke-width="1.4" />
<path d="M736.7,353.5 L741.7,369.6 L738.2,375.2" fill="none" stroke="#111" stroke-width="1.4" />
<path d="M748.3,331.1 L777.6,316.6" fill="none" stroke="#111" stroke-width="1.5" />
<path d="M757.9,326.2 L771.8,347.9" fill="none" stroke="#111" stroke-width="1.4" />
<path d="M776.5,316.8 L782,332.5 L779,337.7" fill="none" stroke="#111" stroke-width="1.4" />
<path d="M663.7,387.6 C649.8,399.4 648.7,413.5 659.8,425.1 L667.9,439.2" fill="none" stroke="#111" stroke-width="1.5" />
<path d="M663.3,389.2 L671.2,415.3 L673.6,421.2" fill="none" stroke="#111" stroke-width="1.4" />
<circle cx="609.5" cy="352.3" r="22.6" fill="#fff" stroke="#111" stroke-width="1.9" />
<circle cx="609.5" cy="352.3" r="19.2" fill="none" stroke="#111" stroke-width="1.7" />
<circle cx="609.5" cy="352.3" r="16.3" fill="none" stroke="#111" stroke-width="1.7" />
<circle cx="609.5" cy="352.3" r="6.9" fill="#fff" stroke="#111" stroke-width="1.4" />
<g clip-path="url(#c10)"><path d="M592.8,350 L611.3,335.6M595,352.9 L613.6,338.4M597.2,355.7 L615.8,341.2M599.5,358.5 L618,344.1M601.7,361.4 L620.2,346.9M603.9,364.2 L622.4,349.7M606.1,367.1 L624.6,352.6M608.3,369.9 L626.9,355.4" stroke="#111" stroke-width="1.2"/></g>
<circle cx="668.3" cy="300.8" r="22.6" fill="#fff" stroke="#111" stroke-width="1.9" />
<circle cx="668.3" cy="300.8" r="19.2" fill="none" stroke="#111" stroke-width="1.7" />
<circle cx="668.3" cy="300.8" r="16.3" fill="none" stroke="#111" stroke-width="1.7" />
<circle cx="668.3" cy="300.8" r="6.9" fill="#fff" stroke="#111" stroke-width="1.4" />
<g clip-path="url(#c11)"><path d="M649.9,296.3 L668.4,281.8M652.1,299.2 L670.6,284.7M654.3,302 L672.8,287.5M656.5,304.8 L675.1,290.3M658.7,307.7 L677.3,293.2M661,310.5 L679.5,296M663.2,313.3 L681.7,298.9M665.4,316.2 L683.9,301.7M667.6,319 L686.1,304.5" stroke="#111" stroke-width="1.2"/></g>
<circle cx="717.1" cy="274.2" r="22.6" fill="#fff" stroke="#111" stroke-width="1.9" />
<circle cx="717.1" cy="274.2" r="19.2" fill="none" stroke="#111" stroke-width="1.7" />
<circle cx="717.1" cy="274.2" r="16.3" fill="none" stroke="#111" stroke-width="1.7" />
<circle cx="717.1" cy="274.2" r="6.9" fill="#fff" stroke="#111" stroke-width="1.4" />
<g clip-path="url(#c12)"><path d="M699.7,271.1 L718.3,256.6M701.9,273.9 L720.5,259.4M704.2,276.7 L722.7,262.3M706.4,279.6 L724.9,265.1M708.6,282.4 L727.1,267.9M710.8,285.3 L729.3,270.8M713,288.1 L731.6,273.6M715.2,290.9 L733.8,276.4" stroke="#111" stroke-width="1.2"/></g>
<path d="M693.3,730.8 L697,736.1 L700.9,741.4 L704.9,746.6 L709,751.6 L713.3,756.6 L717.7,761.4 L722.2,766.1 L726.9,770.7 L731.6,775.1 L736.5,779.5 L741.5,783.7 L746.6,787.7 L751.9,791.6 L757.2,795.4 L762.6,799.1 L768.1,802.6 L773.7,805.9 L779.4,809.1 L785.2,812.2 L791,815.1 L797,817.8 L803,820.4 L809,822.8 L815.2,825 L821.4,827.1 L827.6,829 L833.9,830.8 L840.2,832.4 L846.6,833.8 L854.7,827.2 L855.7,821.8 L855.7,821.8 L849.6,820.7 L843.6,819.3 L837.6,817.8 L831.7,816.2 L825.8,814.4 L819.9,812.4 L814.1,810.3 L808.3,808 L802.7,805.5 L797,803 L791.5,800.2 L786,797.3 L780.6,794.3 L775.3,791.2 L770.1,787.9 L765,784.4 L759.9,780.8 L755,777.1 L750.1,773.3 L745.4,769.3 L740.8,765.2 L736.3,761 L731.9,756.6 L727.6,752.2 L723.4,747.6 L719.4,743 L715.4,738.2 L711.6,733.3 L708,728.3 L704.5,723.2Z" fill="#fff" stroke="#111" stroke-width="1.7" />
<path d="M654.6,759 L696.2,727.8 L707,742.2 L665.4,773.4Z" fill="#fff" stroke="none" stroke-width="0" />
<path d="M656.2,757.8 L696.2,727.8" fill="none" stroke="#111" stroke-width="1.6" />
<path d="M667,772.2 L703.8,744.6" fill="none" stroke="#111" stroke-width="1.6" />
<path d="M666.8,758.6 L689.2,741.8" fill="none" stroke="#111" stroke-width="1.4" />
<path d="M685,736.2 L695.8,750.6" fill="none" stroke="#111" stroke-width="1.4" />
<path d="M688.2,733.8 L697.2,745.8" fill="none" stroke="#111" stroke-width="1.3" />
<path d="M691.8,731.1 L700.2,742.3" fill="none" stroke="#111" stroke-width="1.3" />
<path d="M693.4,747.4 L703,740.2" fill="none" stroke="#111" stroke-width="1.3" />
<path d="M757,288.5 C758.6,288.2 760.3,287.9 761.9,287.6 C805.6,279.4 849.2,271.3 892.9,263.1 C894.5,262.8 896.1,262.1 897.8,262.2 C902.2,262.5 906.7,263.1 911,264.2 C914.9,265.2 918.3,267.5 922.2,268.5 C925.8,269.5 929.8,268.9 933.3,270.2 C937.3,271.7 940.8,274.4 944.4,276.7 C949.7,279.9 954.9,283.3 960,286.7 C961.4,287.6 962.7,288.7 964,289.7 C968.7,293.2 973.5,296.8 978.2,300.3 C979.5,301.3 980.5,303.3 982.2,303.3 C983.5,303.3 984,301.3 985,300.5 C986.1,299.7 987.2,298.7 988.5,298.5 C990,298.3 991.7,298.7 993,299.5 C994.3,300.3 995.6,301.5 996,303 C996.5,304.6 995.8,306.3 995.5,308 C995.3,309.4 994.1,310.9 994.6,312.2 C995.7,314.9 997.6,317.4 1000,319 C1002.6,320.8 1005.8,321.9 1008.9,322 C1010.5,322.1 1011.5,320 1013,319.5 C1014.4,319 1016.1,318.4 1017.5,319 C1018.9,319.6 1019.8,321.1 1020.5,322.5 C1021.2,323.9 1021.1,325.5 1021.5,327 C1021.7,327.9 1022.3,328.6 1022.5,329.5 C1022.6,329.8 1022,330.2 1022.3,330.4 C1025.3,332.2 1028.6,333.5 1031.8,335.1 C1034.9,336.8 1038,338.5 1041.1,340.2 C1044.1,341.9 1047.2,343.8 1050.2,345.6 C1053.2,347.5 1056.1,349.4 1059.1,351.3 C1062,353.3 1064.9,355.3 1067.8,357.4 C1070.6,359.5 1073.4,361.6 1076.2,363.8 C1079,365.9 1081.8,368.2 1084.5,370.4 C1087.2,372.7 1089.8,375 1092.4,377.4 C1095.1,379.8 1097.6,382.2 1100.2,384.6 C1102.7,387.1 1105.2,389.6 1107.6,392.2 C1110,394.7 1112.5,397.3 1114.8,400 C1116.6,402.1 1117.9,404.8 1120,406.7 C1122.6,409 1125.7,410.8 1128.9,412.2 C1131.7,413.4 1135.2,412.7 1137.8,414.4 C1140.7,416.2 1142.6,419.3 1144.4,422.2 C1146,424.9 1147,428 1147.8,431 C1148.5,433.6 1148.3,436.3 1148.9,438.9 C1149.8,442.7 1150.4,446.6 1152.2,450 C1153.8,453 1155.8,456.4 1158.9,457.8 C1160.7,458.6 1162.5,455.9 1164.5,455.5 C1166,455.2 1167.8,454.6 1169,455.5 C1170.3,456.4 1171.4,458.4 1171,460 C1170.6,462 1168.5,463.2 1167,464.5 C1165.8,465.5 1163.9,465.7 1163,467 C1162.2,468.1 1162.4,469.7 1162.2,471 C1162.1,471.5 1161.9,472.1 1162.1,472.6 C1163.5,476.5 1165.4,480.2 1166.9,484 C1168.5,487.8 1170,491.7 1171.4,495.6 C1172.7,499.4 1171.9,504.9 1175.3,507.3 C1177.3,508.8 1178.7,503.5 1181,502.5 C1182.7,501.8 1185,501.5 1186.5,502.5 C1188,503.5 1188.9,505.7 1188.5,507.5 C1188.1,509.5 1186,510.7 1184.5,512 C1183.3,513 1181.4,513.2 1180.5,514.5 C1179.6,515.8 1179.9,517.5 1179.5,519 C1179.4,519.5 1178.9,520 1179,520.5 C1179.6,524 1180.7,527.3 1181.5,530.7 C1182.2,534.1 1182.9,537.5 1183.5,540.9 C1184.1,544.4 1184.7,547.8 1185.2,551.3 C1185.7,554.7 1186.2,558.2 1186.6,561.6 C1186.9,565.1 1187.3,568.6 1187.5,572 C1187.8,575.5 1188,579 1188.1,582.5 C1188.2,586 1188.3,589.4 1188.3,592.9 C1188.3,596.4 1188.3,599.9 1188.1,603.4 C1188,606.9 1187.8,610.4 1187.6,613.8 C1187.3,617.3 1187,620.8 1186.7,624.3 C1186.3,627.7 1185.9,631.2 1185.4,634.6 C1184.9,638.1 1184.3,641.5 1183.7,645 C1183.1,648.4 1182.4,651.8 1181.7,655.2 C1181,658.6 1180.2,662 1179.3,665.4 C1178.4,668.8 1177.5,672.1 1176.5,675.5 C1175.6,678.8 1174.5,682.2 1173.4,685.5 C1172.3,688.8 1171.2,692.1 1169.9,695.3 C1168.7,698.6 1167.4,701.8 1166.1,705.1 C1164.8,708.3 1163.4,711.5 1161.9,714.6 C1160.5,717.8 1159,721 1157.4,724.1 C1155.9,727.2 1154.2,730.3 1152.6,733.3 C1150.9,736.4 1149.2,739.4 1147.4,742.4 C1145.6,745.4 1143.8,748.4 1141.9,751.3 C1140,754.2 1138.1,757.1 1136.1,760 C1134.1,762.9 1132,765.7 1129.9,768.5 C1127.8,771.3 1125.7,774 1123.5,776.7 C1121.3,779.4 1119.5,782.5 1116.8,784.7 C1111.6,789 1105.7,792.4 1100,796 C1094.6,799.5 1087.6,801.1 1083.5,806 C1082.1,807.7 1085.7,809.9 1086.5,812 C1087.7,815.3 1089,818.6 1089.5,822 C1090.1,825.6 1090.2,829.4 1089.8,833 C1089.4,836.4 1088.6,839.9 1087,843 C1085.6,845.7 1083.4,848.1 1081,850 C1078.3,852 1075.1,853.3 1072,854.5 C1070.4,855.1 1068.7,855.1 1067.1,855.4 C1044.1,859.8 1021.2,864.2 998.2,868.6 C996.6,868.9 995,869.3 993.3,869.5 C991.6,869.7 990,869.5 988.3,869.5 C929.8,869.8 871.3,870.2 812.8,870.5 C811.1,870.5 809.4,870.9 807.8,870.5 C801.7,868.9 796,866.1 790,864.4 C788.4,864 786.7,864.3 785,864.2 C762.3,863.5 739.7,862.9 717,862.2 C715.3,862.1 713.6,862.3 712,862 C706.9,861.2 701.5,860.9 696.7,858.9 C693.9,857.8 691.6,855.5 690,853 C687.4,849 686,844.4 684.4,840 C683.8,838.4 683.8,836.7 683.4,835.1 C682.6,831 681.8,826.8 681,822.7 C680.6,821.1 680.4,819.4 680,817.8 C679.6,816.2 679.2,814.6 678.8,812.9 C677.4,807.2 675.9,801.6 674.5,795.9 C674.1,794.2 673.9,792.6 673.3,791 C670.9,784.3 668.9,777.3 665.6,771 C663.3,766.6 660.4,762.3 656.7,758.9 C654.3,756.6 651,755.4 647.8,754.4 C646.2,753.9 644.5,754.3 642.8,754.3 C638,754.2 633.1,754.1 628.3,754 C626.6,754 624.9,754.2 623.3,753.9 C618.1,752.9 612.6,752.4 607.8,750 C604.5,748.3 601.8,745.4 600,742.2 C598.1,738.8 597.9,734.8 597.2,731 C596.9,729.4 597.2,727.7 597.2,726 C597.2,719.7 597.2,713.5 597.2,707.2 C597.2,705.5 597.1,703.9 597.2,702.2 C597.3,699.2 596.7,696 597.8,693.3 C599.2,690 601.9,687.5 604.4,685 C607.3,682 611.7,680.3 613.9,676.7 C615.1,674.8 614,672.2 613.9,670 C613.8,668.3 613.4,666.7 613.2,665.1 C611.6,654.7 610.1,644.3 608.5,633.9 C608.3,632.3 608,630.7 607.8,629 C607.6,627.3 607.5,625.7 607.3,624 C606.5,616.2 605.7,608.4 604.9,600.6 C604.7,598.9 604.5,597.3 604.4,595.6 C604.3,593.9 604.5,592.3 604.6,590.6 C604.9,583.4 605.1,576.2 605.4,569 C605.5,567.3 605.4,565.7 605.6,564 C605.8,562.3 606.1,560.7 606.4,559.1 C607.7,550.7 608.9,542.3 610.2,533.9 C610.5,532.3 610.6,530.6 611,529 C611.4,527.4 611.9,525.8 612.4,524.2 C615.1,514.7 617.9,505.3 620.6,495.8 C621.1,494.2 621.7,492.6 622,491 C622.2,489.7 622.2,488.3 622,487 C621.6,484.6 620.8,482.3 620,480 C619.5,478.4 618.6,477 618,475.4 C614.9,468.5 611.8,461.5 608.7,454.6 C608.1,453 607.4,451.5 606.7,450 C606,448.5 605.4,446.9 604.7,445.4 C602.1,439.5 599.6,433.5 597,427.6 C596.3,426.1 595.5,424.6 595,423 C593.7,418.7 593.5,414.1 591.7,410 C589,404.1 585,398.9 581.7,393.3 C580.9,391.9 580.1,390.4 579.4,388.9 C575.9,382.4 572.5,375.9 569,369.4 C568.3,367.9 567.3,366.6 566.7,365 C565,360.3 563.6,355.5 562.1,350.7 L570.5,343.6 L564.6,336.7 L600.4,306.2 L605.6,312.3 L627.6,293.4 L621.8,286.6 L659,254.8 L663.6,260.1 L667.8,256.5 L661.3,248.9 L698.9,216.8 L703.4,222.1 L700,227.5 L708.3,219.2 L713.3,217 L718.3,220 L725,233.3 L730,229.6 L736.7,230 L741.7,235 L743.3,243.3 L742.9,250 L741.7,263.3 L745.8,273.3 L753.3,283.3 L757,288.5Z" fill="none" stroke="#111" stroke-width="2.0" />
<circle cx="896.8" cy="593.5" r="233.6" fill="#fff" stroke="#111" stroke-width="1.6" />
<circle cx="896.8" cy="593.5" r="231.2" fill="none" stroke="#111" stroke-width="1.4" />
<circle cx="896.8" cy="593.5" r="228.8" fill="none" stroke="#111" stroke-width="1.4" />
<circle cx="896.8" cy="593.5" r="225.4" fill="none" stroke="#111" stroke-width="1.4" />
<circle cx="896.8" cy="593.5" r="223" fill="none" stroke="#111" stroke-width="1.3" />
<circle cx="896.8" cy="593.5" r="219.5" fill="none" stroke="#111" stroke-width="1.3" />
<circle cx="896.8" cy="593.5" r="216.6" fill="none" stroke="#111" stroke-width="1.5" />
<circle cx="896.8" cy="593.5" r="233.4" fill="#fff" stroke="#111" stroke-width="1.7" />
<g clip-path="url(#c13)"><path d="M916.3,127.8 L1362.7,606.5M908.3,135.3 L1354.7,614M900.2,142.8 L1346.6,621.5M892.2,150.3 L1338.6,629M884.2,157.8 L1330.5,636.5M876.1,165.3 L1322.5,644M868.1,172.8 L1314.5,651.5M860,180.3 L1306.4,659M852,187.8 L1298.4,666.5M843.9,195.3 L1290.3,674M835.9,202.8 L1282.3,681.5M827.8,210.3 L1274.2,689M819.8,217.8 L1266.2,696.5M811.7,225.3 L1258.1,704M803.7,232.8 L1250.1,711.5M795.7,240.3 L1242.1,719M787.6,247.8 L1234,726.5M779.6,255.3 L1226,734M771.5,262.8 L1217.9,741.5M763.5,270.3 L1209.9,749M755.4,277.8 L1201.8,756.5M747.4,285.3 L1193.8,764M739.3,292.8 L1185.7,771.5M731.3,300.3 L1177.7,779M723.3,307.9 L1169.6,786.5M715.2,315.4 L1161.6,794.1M707.2,322.9 L1153.6,801.6M699.1,330.4 L1145.5,809.1M691.1,337.9 L1137.5,816.6M683,345.4 L1129.4,824.1M675,352.9 L1121.4,831.6M666.9,360.4 L1113.3,839.1M658.9,367.9 L1105.3,846.6M650.8,375.4 L1097.2,854.1M642.8,382.9 L1089.2,861.6M634.8,390.4 L1081.2,869.1M626.7,397.9 L1073.1,876.6M618.7,405.4 L1065.1,884.1M610.6,412.9 L1057,891.6M602.6,420.4 L1049,899.1M594.5,427.9 L1040.9,906.6M586.5,435.4 L1032.9,914.1M578.4,442.9 L1024.8,921.6M570.4,450.4 L1016.8,929.1M562.4,457.9 L1008.7,936.6M554.3,465.4 L1000.7,944.1M546.3,472.9 L992.7,951.6M538.2,480.4 L984.6,959.1M530.2,487.9 L976.6,966.6M522.1,495.4 L968.5,974.1M514.1,502.9 L960.5,981.6M506,510.4 L952.4,989.1M498,517.9 L944.4,996.6M490,525.4 L936.3,1004.1M481.9,532.9 L928.3,1011.6M473.9,540.4 L920.3,1019.1M465.8,547.9 L912.2,1026.6M457.8,555.4 L904.2,1034.1M449.7,562.9 L896.1,1041.6M441.7,570.4 L888.1,1049.1M433.6,577.9 L880,1056.6" stroke="#111" stroke-width="1.3" fill="none"/></g>
<circle cx="896.8" cy="593.5" r="231.8" fill="none" stroke="#111" stroke-width="1.3" />
<circle cx="896.8" cy="593.5" r="230" fill="none" stroke="#111" stroke-width="1.2" />
<circle cx="896.8" cy="593.5" r="228" fill="none" stroke="#111" stroke-width="1.3" />
<circle cx="896.8" cy="593.5" r="226" fill="none" stroke="#111" stroke-width="1.5" />
<circle cx="896.8" cy="593.5" r="219.4" fill="none" stroke="#111" stroke-width="1.5" />
<circle cx="896.8" cy="593.5" r="214.6" fill="none" stroke="#111" stroke-width="1.6" />
<use href="#gear" fill="#fff" stroke="none"/>
<g clip-path="url(#cgear)"><g clip-path="url(#c14)"><path d="M461.6,593.1 L896.4,158.3M463.9,595.5 L898.8,160.6M466.3,597.8 L901.1,163M468.6,600.1 L903.4,165.3M470.9,602.5 L905.8,167.6M473.3,604.8 L908.1,170M475.6,607.1 L910.4,172.3M477.9,609.5 L912.8,174.6M480.3,611.8 L915.1,177M482.6,614.1 L917.4,179.3M484.9,616.5 L919.8,181.6M487.3,618.8 L922.1,184M489.6,621.1 L924.4,186.3M491.9,623.5 L926.8,188.6M494.3,625.8 L929.1,191M496.6,628.1 L931.4,193.3M498.9,630.5 L933.8,195.6M501.3,632.8 L936.1,198M503.6,635.1 L938.4,200.3M505.9,637.5 L940.8,202.6M508.3,639.8 L943.1,205M510.6,642.1 L945.4,207.3M512.9,644.5 L947.8,209.6M515.3,646.8 L950.1,212M517.6,649.1 L952.4,214.3M519.9,651.5 L954.8,216.6M522.3,653.8 L957.1,219M524.6,656.1 L959.4,221.3M526.9,658.5 L961.8,223.6M529.3,660.8 L964.1,226M531.6,663.1 L966.4,228.3M533.9,665.5 L968.8,230.6M536.3,667.8 L971.1,233M538.6,670.1 L973.4,235.3M540.9,672.5 L975.8,237.6M543.3,674.8 L978.1,240M545.6,677.1 L980.4,242.3M547.9,679.5 L982.8,244.6M550.3,681.8 L985.1,247M552.6,684.1 L987.4,249.3M554.9,686.5 L989.8,251.6M557.3,688.8 L992.1,254M559.6,691.1 L994.4,256.3M561.9,693.5 L996.8,258.6M564.3,695.8 L999.1,261M566.6,698.1 L1001.4,263.3M568.9,700.5 L1003.8,265.6M571.3,702.8 L1006.1,268M573.6,705.1 L1008.4,270.3M575.9,707.5 L1010.8,272.6M578.3,709.8 L1013.1,275M580.6,712.1 L1015.4,277.3M582.9,714.5 L1017.8,279.6M585.3,716.8 L1020.1,282M587.6,719.1 L1022.4,284.3M589.9,721.5 L1024.8,286.6M592.3,723.8 L1027.1,289M594.6,726.1 L1029.4,291.3M596.9,728.5 L1031.8,293.6M599.3,730.8 L1034.1,296M601.6,733.1 L1036.4,298.3M603.9,735.5 L1038.8,300.6M606.3,737.8 L1041.1,303M608.6,740.1 L1043.4,305.3M610.9,742.5 L1045.8,307.6M613.3,744.8 L1048.1,310M615.6,747.1 L1050.4,312.3M617.9,749.5 L1052.8,314.6M620.3,751.8 L1055.1,317M622.6,754.1 L1057.4,319.3M624.9,756.5 L1059.8,321.6M627.3,758.8 L1062.1,324M629.6,761.1 L1064.4,326.3M631.9,763.5 L1066.8,328.6M634.3,765.8 L1069.1,331M636.6,768.1 L1071.4,333.3M638.9,770.5 L1073.8,335.6M641.3,772.8 L1076.1,338M643.6,775.1 L1078.4,340.3M645.9,777.5 L1080.8,342.6M648.3,779.8 L1083.1,345M650.6,782.1 L1085.4,347.3M652.9,784.5 L1087.8,349.6M655.3,786.8 L1090.1,352M657.6,789.1 L1092.4,354.3M659.9,791.5 L1094.8,356.6M662.3,793.8 L1097.1,359M664.6,796.1 L1099.4,361.3M666.9,798.5 L1101.8,363.6M669.3,800.8 L1104.1,366M671.6,803.1 L1106.4,368.3M673.9,805.5 L1108.8,370.6M676.3,807.8 L1111.1,373M678.6,810.1 L1113.4,375.3M680.9,812.5 L1115.8,377.6M683.3,814.8 L1118.1,380M685.6,817.1 L1120.4,382.3M687.9,819.5 L1122.8,384.6M690.3,821.8 L1125.1,387M692.6,824.1 L1127.4,389.3M694.9,826.5 L1129.8,391.6M697.3,828.8 L1132.1,394M699.6,831.1 L1134.4,396.3M701.9,833.5 L1136.8,398.6M704.3,835.8 L1139.1,401M706.6,838.1 L1141.4,403.3M708.9,840.5 L1143.8,405.6M711.3,842.8 L1146.1,408M713.6,845.1 L1148.4,410.3M715.9,847.5 L1150.8,412.6M718.3,849.8 L1153.1,415M720.6,852.1 L1155.4,417.3M722.9,854.5 L1157.8,419.6M725.3,856.8 L1160.1,422M727.6,859.1 L1162.4,424.3M729.9,861.5 L1164.8,426.6M732.3,863.8 L1167.1,429M734.6,866.1 L1169.4,431.3M736.9,868.5 L1171.8,433.6M739.3,870.8 L1174.1,436M741.6,873.1 L1176.4,438.3M743.9,875.5 L1178.8,440.6M746.3,877.8 L1181.1,443M748.6,880.1 L1183.4,445.3M750.9,882.5 L1185.8,447.6M753.3,884.8 L1188.1,450M755.6,887.1 L1190.4,452.3M757.9,889.5 L1192.8,454.6M760.3,891.8 L1195.1,457M762.6,894.1 L1197.4,459.3M764.9,896.5 L1199.8,461.6M767.3,898.8 L1202.1,464M769.6,901.1 L1204.4,466.3M771.9,903.5 L1206.8,468.6M774.3,905.8 L1209.1,471M776.6,908.1 L1211.4,473.3M778.9,910.5 L1213.8,475.6M781.3,912.8 L1216.1,478M783.6,915.1 L1218.4,480.3M785.9,917.5 L1220.8,482.6M788.3,919.8 L1223.1,485M790.6,922.1 L1225.4,487.3M792.9,924.5 L1227.8,489.6M795.3,926.8 L1230.1,492M797.6,929.1 L1232.4,494.3M799.9,931.5 L1234.8,496.6M802.3,933.8 L1237.1,499M804.6,936.1 L1239.4,501.3M806.9,938.5 L1241.8,503.6M809.3,940.8 L1244.1,506M811.6,943.1 L1246.4,508.3M813.9,945.5 L1248.8,510.6M816.3,947.8 L1251.1,513M818.6,950.1 L1253.4,515.3M820.9,952.5 L1255.8,517.6M823.3,954.8 L1258.1,520M825.6,957.1 L1260.4,522.3M827.9,959.5 L1262.8,524.6M830.3,961.8 L1265.1,527M832.6,964.1 L1267.4,529.3M834.9,966.5 L1269.8,531.6M837.3,968.8 L1272.1,534M839.6,971.1 L1274.4,536.3M841.9,973.5 L1276.8,538.6M844.3,975.8 L1279.1,541M846.6,978.1 L1281.4,543.3M848.9,980.5 L1283.8,545.6M851.3,982.8 L1286.1,548M853.6,985.1 L1288.4,550.3M855.9,987.5 L1290.8,552.6M858.3,989.8 L1293.1,555M860.6,992.1 L1295.4,557.3M862.9,994.5 L1297.8,559.6M865.3,996.8 L1300.1,562M867.6,999.1 L1302.4,564.3M870,1001.5 L1304.8,566.7M872.3,1003.8 L1307.1,569M874.6,1006.1 L1309.4,571.3M877,1008.5 L1311.8,573.7M879.3,1010.8 L1314.1,576M881.6,1013.1 L1316.4,578.3M884,1015.5 L1318.8,580.7M886.3,1017.8 L1321.1,583M888.6,1020.1 L1323.4,585.3M891,1022.5 L1325.8,587.7M893.3,1024.8 L1328.1,590M895.6,1027.1 L1330.4,592.3M898,1029.5 L1332.8,594.7" stroke="#111" stroke-width="1.6" fill="none"/></g><g clip-path="url(#c15)"><path d="M459.4,575.2 L909.1,155.9M463.5,579.7 L913.3,160.3M467.7,584.2 L917.4,164.8M471.8,588.6 L921.6,169.2M476,593.1 L925.7,173.7M480.2,597.6 L929.9,178.2M484.3,602 L934.1,182.6M488.5,606.5 L938.2,187.1M492.7,610.9 L942.4,191.6M496.8,615.4 L946.5,196M501,619.9 L950.7,200.5M505.1,624.3 L954.9,204.9M509.3,628.8 L959,209.4M513.5,633.2 L963.2,213.9M517.6,637.7 L967.4,218.3M521.8,642.2 L971.5,222.8M525.9,646.6 L975.7,227.2M530.1,651.1 L979.8,231.7M534.3,655.6 L984,236.2M538.4,660 L988.2,240.6M542.6,664.5 L992.3,245.1M546.7,668.9 L996.5,249.5M550.9,673.4 L1000.6,254M555.1,677.9 L1004.8,258.5M559.2,682.3 L1009,262.9M563.4,686.8 L1013.1,267.4M567.5,691.2 L1017.3,271.9M571.7,695.7 L1021.4,276.3M575.9,700.2 L1025.6,280.8M580,704.6 L1029.8,285.2M584.2,709.1 L1033.9,289.7M588.3,713.5 L1038.1,294.2M592.5,718 L1042.2,298.6M596.7,722.5 L1046.4,303.1M600.8,726.9 L1050.6,307.5M605,731.4 L1054.7,312M609.1,735.9 L1058.9,316.5M613.3,740.3 L1063,320.9M617.5,744.8 L1067.2,325.4M621.6,749.2 L1071.4,329.9M625.8,753.7 L1075.5,334.3M629.9,758.2 L1079.7,338.8M634.1,762.6 L1083.8,343.2M638.3,767.1 L1088,347.7M642.4,771.5 L1092.2,352.2M646.6,776 L1096.3,356.6M650.7,780.5 L1100.5,361.1M654.9,784.9 L1104.6,365.5M659.1,789.4 L1108.8,370M663.2,793.9 L1113,374.5M667.4,798.3 L1117.1,378.9M671.5,802.8 L1121.3,383.4M675.7,807.2 L1125.4,387.8M679.9,811.7 L1129.6,392.3M684,816.2 L1133.8,396.8M688.2,820.6 L1137.9,401.2M692.3,825.1 L1142.1,405.7M696.5,829.5 L1146.2,410.2M700.7,834 L1150.4,414.6M704.8,838.5 L1154.6,419.1M709,842.9 L1158.7,423.5M713.1,847.4 L1162.9,428M717.3,851.8 L1167,432.5M721.5,856.3 L1171.2,436.9M725.6,860.8 L1175.4,441.4M729.8,865.2 L1179.5,445.8M733.9,869.7 L1183.7,450.3M738.1,874.2 L1187.8,454.8M742.3,878.6 L1192,459.2M746.4,883.1 L1196.2,463.7M750.6,887.5 L1200.3,468.1M754.7,892 L1204.5,472.6M758.9,896.5 L1208.6,477.1M763.1,900.9 L1212.8,481.5M767.2,905.4 L1217,486M771.4,909.8 L1221.1,490.5M775.5,914.3 L1225.3,494.9M779.7,918.8 L1229.4,499.4M783.9,923.2 L1233.6,503.8M788,927.7 L1237.8,508.3M792.2,932.2 L1241.9,512.8M796.3,936.6 L1246.1,517.2M800.5,941.1 L1250.2,521.7M804.7,945.5 L1254.4,526.1M808.8,950 L1258.6,530.6M813,954.5 L1262.7,535.1M817.1,958.9 L1266.9,539.5M821.3,963.4 L1271,544M825.5,967.8 L1275.2,548.5M829.6,972.3 L1279.4,552.9M833.8,976.8 L1283.5,557.4M837.9,981.2 L1287.7,561.8M842.1,985.7 L1291.8,566.3M846.3,990.1 L1296,570.8M850.4,994.6 L1300.2,575.2M854.6,999.1 L1304.3,579.7M858.7,1003.5 L1308.5,584.1M862.9,1008 L1312.6,588.6M867.1,1012.5 L1316.8,593.1M871.2,1016.9 L1321,597.5M875.4,1021.4 L1325.1,602M879.5,1025.8 L1329.3,606.4M883.7,1030.3 L1333.4,610.9" stroke="#111" stroke-width="2.0" fill="none"/></g></g>
<use href="#gear" fill="none" stroke="#111" stroke-width="1.9" stroke-linejoin="round"/>
<path d="M1104,616.4 L1103.6,620.1 L1103.1,623.8 L1102.5,627.6 L1101.9,631.3 L1101.1,634.9 L1100.4,638.6 L1099.5,642.3 L1098.6,645.9 L1097.6,649.6 L1096.6,653.2 L1095.5,656.8 L1094.3,660.3 L1093.1,663.9 L1091.8,667.4 L1090.4,670.9 L1065.3,660.9 L1066.5,657.9 L1067.6,654.8 L1068.7,651.7 L1069.7,648.6 L1070.7,645.5 L1071.6,642.3 L1072.5,639.1 L1073.3,636 L1074,632.8 L1074.7,629.6 L1075.3,626.4 L1075.9,623.1 L1076.4,619.9 L1076.8,616.7 L1077.2,613.4 L1083.8,613.2 L1084.6,601.4 L1097.1,601.9 L1096.1,615.5Z" fill="#fff" stroke="none" stroke-width="0" />
<g clip-path="url(#c16)"><path d="M460.7,592.3 L895.6,157.4M464.4,596 L899.3,161.1M468.1,599.6 L902.9,164.8M471.8,603.3 L906.6,168.5M475.5,607 L910.3,172.2M479.1,610.7 L914,175.8M482.8,614.3 L917.6,179.5M486.5,618 L921.3,183.2M490.2,621.7 L925,186.9M493.8,625.4 L928.7,190.5M497.5,629 L932.3,194.2M501.2,632.7 L936,197.9M504.9,636.4 L939.7,201.6M508.5,640.1 L943.4,205.2M512.2,643.8 L947.1,208.9M515.9,647.4 L950.7,212.6M519.6,651.1 L954.4,216.3M523.3,654.8 L958.1,220M526.9,658.5 L961.8,223.6M530.6,662.1 L965.4,227.3M534.3,665.8 L969.1,231M538,669.5 L972.8,234.7M541.6,673.2 L976.5,238.3M545.3,676.8 L980.1,242M549,680.5 L983.8,245.7M552.7,684.2 L987.5,249.4M556.3,687.9 L991.2,253M560,691.6 L994.9,256.7M563.7,695.2 L998.5,260.4M567.4,698.9 L1002.2,264.1M571.1,702.6 L1005.9,267.8M574.7,706.3 L1009.6,271.4M578.4,709.9 L1013.2,275.1M582.1,713.6 L1016.9,278.8M585.8,717.3 L1020.6,282.5M589.4,721 L1024.3,286.1M593.1,724.6 L1027.9,289.8M596.8,728.3 L1031.6,293.5M600.5,732 L1035.3,297.2M604.1,735.7 L1039,300.8M607.8,739.4 L1042.7,304.5M611.5,743 L1046.3,308.2M615.2,746.7 L1050,311.9M618.9,750.4 L1053.7,315.6M622.5,754.1 L1057.4,319.2M626.2,757.7 L1061,322.9M629.9,761.4 L1064.7,326.6M633.6,765.1 L1068.4,330.3M637.2,768.8 L1072.1,333.9M640.9,772.4 L1075.7,337.6M644.6,776.1 L1079.4,341.3M648.3,779.8 L1083.1,345M651.9,783.5 L1086.8,348.6M655.6,787.2 L1090.5,352.3M659.3,790.8 L1094.1,356M663,794.5 L1097.8,359.7M666.7,798.2 L1101.5,363.4M670.3,801.9 L1105.2,367M674,805.5 L1108.8,370.7M677.7,809.2 L1112.5,374.4M681.4,812.9 L1116.2,378.1M685,816.6 L1119.9,381.7M688.7,820.2 L1123.5,385.4M692.4,823.9 L1127.2,389.1M696.1,827.6 L1130.9,392.8M699.7,831.3 L1134.6,396.4M703.4,835 L1138.3,400.1M707.1,838.6 L1141.9,403.8M710.8,842.3 L1145.6,407.5M714.5,846 L1149.3,411.2M718.1,849.7 L1153,414.8M721.8,853.3 L1156.6,418.5M725.5,857 L1160.3,422.2M729.2,860.7 L1164,425.9M732.8,864.4 L1167.7,429.5M736.5,868 L1171.3,433.2M740.2,871.7 L1175,436.9M743.9,875.4 L1178.7,440.6M747.6,879.1 L1182.4,444.3M751.2,882.8 L1186.1,447.9M754.9,886.4 L1189.7,451.6M758.6,890.1 L1193.4,455.3M762.3,893.8 L1197.1,459M765.9,897.5 L1200.8,462.6M769.6,901.1 L1204.4,466.3M773.3,904.8 L1208.1,470M777,908.5 L1211.8,473.7M780.6,912.2 L1215.5,477.3M784.3,915.8 L1219.1,481M788,919.5 L1222.8,484.7M791.7,923.2 L1226.5,488.4M795.4,926.9 L1230.2,492.1M799,930.6 L1233.9,495.7M802.7,934.2 L1237.5,499.4M806.4,937.9 L1241.2,503.1M810.1,941.6 L1244.9,506.8M813.7,945.3 L1248.6,510.4M817.4,948.9 L1252.2,514.1M821.1,952.6 L1255.9,517.8M824.8,956.3 L1259.6,521.5M828.4,960 L1263.3,525.1M832.1,963.6 L1266.9,528.8M835.8,967.3 L1270.6,532.5M839.5,971 L1274.3,536.2M843.2,974.7 L1278,539.9M846.8,978.4 L1281.7,543.5M850.5,982 L1285.3,547.2M854.2,985.7 L1289,550.9M857.9,989.4 L1292.7,554.6M861.5,993.1 L1296.4,558.2M865.2,996.7 L1300,561.9M868.9,1000.4 L1303.7,565.6M872.6,1004.1 L1307.4,569.3M876.2,1007.8 L1311.1,572.9M879.9,1011.4 L1314.7,576.6M883.6,1015.1 L1318.4,580.3M887.3,1018.8 L1322.1,584M891,1022.5 L1325.8,587.7M894.6,1026.2 L1329.5,591.3M898.3,1029.8 L1333.1,595" stroke="#111" stroke-width="2.2" fill="none"/></g>
<path d="M1104,616.4 L1103.6,620.1 L1103.1,623.8 L1102.5,627.6 L1101.9,631.3 L1101.1,634.9 L1100.4,638.6 L1099.5,642.3 L1098.6,645.9 L1097.6,649.6 L1096.6,653.2 L1095.5,656.8 L1094.3,660.3 L1093.1,663.9 L1091.8,667.4 L1090.4,670.9 L1065.3,660.9 L1066.5,657.9 L1067.6,654.8 L1068.7,651.7 L1069.7,648.6 L1070.7,645.5 L1071.6,642.3 L1072.5,639.1 L1073.3,636 L1074,632.8 L1074.7,629.6 L1075.3,626.4 L1075.9,623.1 L1076.4,619.9 L1076.8,616.7 L1077.2,613.4 L1083.8,613.2 L1084.6,601.4 L1097.1,601.9 L1096.1,615.5Z" fill="none" stroke="#111" stroke-width="1.8" />
<path d="M1110.4,603.2 L1110.1,607.8 L1109.8,612.4 L1109.3,617 L1096.1,615.5 L1096.5,611.2 L1096.9,606.9 L1097.1,602.6Z" fill="#fff" stroke="#111" stroke-width="1.6" />
<path d="M1077.2,611.8 L1076.8,615.1 L1076.4,618.5 L1075.9,621.8 L1075.3,625.1 L1074.7,628.4 L1074,631.7 L1073.3,634.9 L1072.5,638.2 L1071.7,641.4 L1070.7,644.6 L1069.8,647.8 L1068.7,651 L1064.5,649.6 L1065.5,646.5 L1066.4,643.4 L1067.3,640.2 L1068.1,637.1 L1068.9,633.9 L1069.6,630.7 L1070.3,627.5 L1070.9,624.3 L1071.4,621.1 L1071.9,617.9 L1072.3,614.6 L1072.7,611.4Z" fill="#fff" stroke="#111" stroke-width="1.6" stroke-linejoin="round"/>
<path d="M689.6,570.6 L690,566.9 L690.5,563.2 L691.1,559.4 L691.7,555.7 L692.5,552.1 L693.2,548.4 L694.1,544.7 L695,541.1 L696,537.4 L697,533.8 L698.1,530.2 L699.3,526.7 L700.5,523.1 L701.8,519.6 L703.2,516.1 L728.3,526.1 L727.1,529.1 L726,532.2 L724.9,535.3 L723.9,538.4 L722.9,541.5 L722,544.7 L721.1,547.9 L720.3,551 L719.6,554.2 L718.9,557.4 L718.3,560.6 L717.7,563.9 L717.2,567.1 L716.8,570.3 L716.4,573.6 L709.8,573.8 L709,585.6 L696.5,585.1 L697.5,571.5Z" fill="#fff" stroke="none" stroke-width="0" />
<g clip-path="url(#c17)"><path d="M460.7,592.3 L895.6,157.4M464.4,596 L899.3,161.1M468.1,599.6 L902.9,164.8M471.8,603.3 L906.6,168.5M475.5,607 L910.3,172.2M479.1,610.7 L914,175.8M482.8,614.3 L917.6,179.5M486.5,618 L921.3,183.2M490.2,621.7 L925,186.9M493.8,625.4 L928.7,190.5M497.5,629 L932.3,194.2M501.2,632.7 L936,197.9M504.9,636.4 L939.7,201.6M508.5,640.1 L943.4,205.2M512.2,643.8 L947.1,208.9M515.9,647.4 L950.7,212.6M519.6,651.1 L954.4,216.3M523.3,654.8 L958.1,220M526.9,658.5 L961.8,223.6M530.6,662.1 L965.4,227.3M534.3,665.8 L969.1,231M538,669.5 L972.8,234.7M541.6,673.2 L976.5,238.3M545.3,676.8 L980.1,242M549,680.5 L983.8,245.7M552.7,684.2 L987.5,249.4M556.3,687.9 L991.2,253M560,691.6 L994.9,256.7M563.7,695.2 L998.5,260.4M567.4,698.9 L1002.2,264.1M571.1,702.6 L1005.9,267.8M574.7,706.3 L1009.6,271.4M578.4,709.9 L1013.2,275.1M582.1,713.6 L1016.9,278.8M585.8,717.3 L1020.6,282.5M589.4,721 L1024.3,286.1M593.1,724.6 L1027.9,289.8M596.8,728.3 L1031.6,293.5M600.5,732 L1035.3,297.2M604.1,735.7 L1039,300.8M607.8,739.4 L1042.7,304.5M611.5,743 L1046.3,308.2M615.2,746.7 L1050,311.9M618.9,750.4 L1053.7,315.6M622.5,754.1 L1057.4,319.2M626.2,757.7 L1061,322.9M629.9,761.4 L1064.7,326.6M633.6,765.1 L1068.4,330.3M637.2,768.8 L1072.1,333.9M640.9,772.4 L1075.7,337.6M644.6,776.1 L1079.4,341.3M648.3,779.8 L1083.1,345M651.9,783.5 L1086.8,348.6M655.6,787.2 L1090.5,352.3M659.3,790.8 L1094.1,356M663,794.5 L1097.8,359.7M666.7,798.2 L1101.5,363.4M670.3,801.9 L1105.2,367M674,805.5 L1108.8,370.7M677.7,809.2 L1112.5,374.4M681.4,812.9 L1116.2,378.1M685,816.6 L1119.9,381.7M688.7,820.2 L1123.5,385.4M692.4,823.9 L1127.2,389.1M696.1,827.6 L1130.9,392.8M699.7,831.3 L1134.6,396.4M703.4,835 L1138.3,400.1M707.1,838.6 L1141.9,403.8M710.8,842.3 L1145.6,407.5M714.5,846 L1149.3,411.2M718.1,849.7 L1153,414.8M721.8,853.3 L1156.6,418.5M725.5,857 L1160.3,422.2M729.2,860.7 L1164,425.9M732.8,864.4 L1167.7,429.5M736.5,868 L1171.3,433.2M740.2,871.7 L1175,436.9M743.9,875.4 L1178.7,440.6M747.6,879.1 L1182.4,444.3M751.2,882.8 L1186.1,447.9M754.9,886.4 L1189.7,451.6M758.6,890.1 L1193.4,455.3M762.3,893.8 L1197.1,459M765.9,897.5 L1200.8,462.6M769.6,901.1 L1204.4,466.3M773.3,904.8 L1208.1,470M777,908.5 L1211.8,473.7M780.6,912.2 L1215.5,477.3M784.3,915.8 L1219.1,481M788,919.5 L1222.8,484.7M791.7,923.2 L1226.5,488.4M795.4,926.9 L1230.2,492.1M799,930.6 L1233.9,495.7M802.7,934.2 L1237.5,499.4M806.4,937.9 L1241.2,503.1M810.1,941.6 L1244.9,506.8M813.7,945.3 L1248.6,510.4M817.4,948.9 L1252.2,514.1M821.1,952.6 L1255.9,517.8M824.8,956.3 L1259.6,521.5M828.4,960 L1263.3,525.1M832.1,963.6 L1266.9,528.8M835.8,967.3 L1270.6,532.5M839.5,971 L1274.3,536.2M843.2,974.7 L1278,539.9M846.8,978.4 L1281.7,543.5M850.5,982 L1285.3,547.2M854.2,985.7 L1289,550.9M857.9,989.4 L1292.7,554.6M861.5,993.1 L1296.4,558.2M865.2,996.7 L1300,561.9M868.9,1000.4 L1303.7,565.6M872.6,1004.1 L1307.4,569.3M876.2,1007.8 L1311.1,572.9M879.9,1011.4 L1314.7,576.6M883.6,1015.1 L1318.4,580.3M887.3,1018.8 L1322.1,584M891,1022.5 L1325.8,587.7M894.6,1026.2 L1329.5,591.3M898.3,1029.8 L1333.1,595" stroke="#111" stroke-width="2.2" fill="none"/></g>
<path d="M689.6,570.6 L690,566.9 L690.5,563.2 L691.1,559.4 L691.7,555.7 L692.5,552.1 L693.2,548.4 L694.1,544.7 L695,541.1 L696,537.4 L697,533.8 L698.1,530.2 L699.3,526.7 L700.5,523.1 L701.8,519.6 L703.2,516.1 L728.3,526.1 L727.1,529.1 L726,532.2 L724.9,535.3 L723.9,538.4 L722.9,541.5 L722,544.7 L721.1,547.9 L720.3,551 L719.6,554.2 L718.9,557.4 L718.3,560.6 L717.7,563.9 L717.2,567.1 L716.8,570.3 L716.4,573.6 L709.8,573.8 L709,585.6 L696.5,585.1 L697.5,571.5Z" fill="none" stroke="#111" stroke-width="1.8" />
<path d="M683.2,583.8 L683.5,579.2 L683.8,574.6 L684.3,570 L697.5,571.5 L697.1,575.8 L696.7,580.1 L696.5,584.4Z" fill="#fff" stroke="#111" stroke-width="1.6" />
<path d="M716.4,575.2 L716.8,571.9 L717.2,568.5 L717.7,565.2 L718.3,561.9 L718.9,558.6 L719.6,555.3 L720.3,552.1 L721.1,548.8 L721.9,545.6 L722.9,542.4 L723.8,539.2 L724.9,536 L729.1,537.4 L728.1,540.5 L727.2,543.6 L726.3,546.8 L725.5,549.9 L724.7,553.1 L724,556.3 L723.3,559.5 L722.7,562.7 L722.2,565.9 L721.7,569.1 L721.3,572.4 L720.9,575.6Z" fill="#fff" stroke="#111" stroke-width="1.6" stroke-linejoin="round"/>
<circle cx="896.8" cy="593.5" r="163.8" fill="#fff" stroke="#111" stroke-width="1.8" />
<circle cx="896.8" cy="593.5" r="127.3" fill="none" stroke="#111" stroke-width="1.8" />
<circle cx="896.8" cy="593.5" r="122.2" fill="none" stroke="#111" stroke-width="1.8" />
<circle cx="896.8" cy="593.5" r="113" fill="#fff" stroke="#111" stroke-width="1.6" />
<g clip-path="url(#c18)"><path d="M903.6,360 L1130.4,594.9M900.5,363 L1127.3,597.8M897.4,366 L1124.2,600.8M894.3,369 L1121.1,603.8M891.2,372 L1118,606.8M888.1,375 L1114.9,609.8M885,378 L1111.8,612.8M881.9,380.9 L1108.7,615.8M878.9,383.9 L1105.6,618.7M875.8,386.9 L1102.5,621.7M872.7,389.9 L1099.4,624.7M869.6,392.9 L1096.3,627.7M866.5,395.9 L1093.2,630.7M863.4,398.9 L1090.2,633.7M860.3,401.8 L1087.1,636.7M857.2,404.8 L1084,639.7M854.1,407.8 L1080.9,642.6M851,410.8 L1077.8,645.6M847.9,413.8 L1074.7,648.6M844.8,416.8 L1071.6,651.6M841.7,419.8 L1068.5,654.6M838.6,422.8 L1065.4,657.6M835.6,425.7 L1062.3,660.6M832.5,428.7 L1059.2,663.6M829.4,431.7 L1056.1,666.5M826.3,434.7 L1053,669.5M823.2,437.7 L1049.9,672.5M820.1,440.7 L1046.9,675.5M817,443.7 L1043.8,678.5M813.9,446.7 L1040.7,681.5M810.8,449.6 L1037.6,684.5M807.7,452.6 L1034.5,687.4M804.6,455.6 L1031.4,690.4M801.5,458.6 L1028.3,693.4M798.4,461.6 L1025.2,696.4M795.3,464.6 L1022.1,699.4M792.2,467.6 L1019,702.4M789.2,470.5 L1015.9,705.4M786.1,473.5 L1012.8,708.4M783,476.5 L1009.7,711.3M779.9,479.5 L1006.6,714.3M776.8,482.5 L1003.5,717.3M773.7,485.5 L1000.5,720.3M770.6,488.5 L997.4,723.3M767.5,491.5 L994.3,726.3M764.4,494.4 L991.2,729.3M761.3,497.4 L988.1,732.3M758.2,500.4 L985,735.2M755.1,503.4 L981.9,738.2M752,506.4 L978.8,741.2M748.9,509.4 L975.7,744.2M745.9,512.4 L972.6,747.2M742.8,515.4 L969.5,750.2M739.7,518.3 L966.4,753.2M736.6,521.3 L963.3,756.1M733.5,524.3 L960.2,759.1M730.4,527.3 L957.1,762.1M727.3,530.3 L954.1,765.1M724.2,533.3 L951,768.1M721.1,536.3 L947.9,771.1M718,539.3 L944.8,774.1M714.9,542.2 L941.7,777.1M711.8,545.2 L938.6,780M708.7,548.2 L935.5,783M705.6,551.2 L932.4,786M702.5,554.2 L929.3,789M699.5,557.2 L926.2,792M696.4,560.2 L923.1,795M693.3,563.1 L920,798M690.2,566.1 L916.9,801M687.1,569.1 L913.8,803.9M684,572.1 L910.8,806.9M680.9,575.1 L907.7,809.9M677.8,578.1 L904.6,812.9M674.7,581.1 L901.5,815.9M671.6,584.1 L898.4,818.9M668.5,587 L895.3,821.9M665.4,590 L892.2,824.9" stroke="#111" stroke-width="2.0" fill="none"/></g>
<circle cx="896.8" cy="593.5" r="113" fill="none" stroke="#111" stroke-width="1.6" />
<circle cx="896.8" cy="593.5" r="86" fill="#fff" stroke="#111" stroke-width="1.5" />
<circle cx="896.8" cy="593.5" r="83.6" fill="none" stroke="#111" stroke-width="2.6" stroke-dasharray="8 4"/>
<circle cx="896.8" cy="593.5" r="81" fill="none" stroke="#111" stroke-width="1.2" />
<circle cx="896.8" cy="593.5" r="78" fill="none" stroke="#111" stroke-width="5.6" stroke-dasharray="1.7 1.0"/>
<circle cx="896.8" cy="593.5" r="75" fill="none" stroke="#111" stroke-width="1.4" />
<g clip-path="url(#c19)"><path d="M901.2,437.1 L1053.3,594.6M898.6,439.6 L1050.7,597.1M896,442.1 L1048.1,599.6M893.4,444.6 L1045.5,602.1M890.8,447.1 L1042.9,604.6M888.2,449.6 L1040.3,607.1M885.6,452.1 L1037.7,609.6M883,454.6 L1035.1,612.1M880.4,457.1 L1032.5,614.6M877.8,459.6 L1029.9,617.1M875.3,462.1 L1027.4,619.6M872.7,464.6 L1024.8,622.1M870.1,467.1 L1022.2,624.6M867.5,469.6 L1019.6,627.1M864.9,472.1 L1017,629.6M862.3,474.6 L1014.4,632.1M859.7,477.1 L1011.8,634.6M857.1,479.6 L1009.2,637.1M854.5,482.1 L1006.6,639.6M852,484.6 L1004.1,642.1M849.4,487.1 L1001.5,644.6M846.8,489.6 L998.9,647.1M844.2,492.1 L996.3,649.6M841.6,494.6 L993.7,652.1M839,497.1 L991.1,654.6M836.4,499.6 L988.5,657.1M833.8,502.1 L985.9,659.6M831.2,504.6 L983.3,662.1M828.6,507.1 L980.7,664.6M826.1,509.6 L978.2,667.1M823.5,512.1 L975.6,669.6M820.9,514.6 L973,672.1M818.3,517.1 L970.4,674.6M815.7,519.6 L967.8,677.1M813.1,522.1 L965.2,679.6M810.5,524.6 L962.6,682.1M807.9,527.1 L960,684.6M805.3,529.6 L957.4,687.1M802.7,532.1 L954.9,689.6M800.2,534.6 L952.3,692.1M797.6,537.1 L949.7,694.6M795,539.6 L947.1,697.1M792.4,542.1 L944.5,699.6M789.8,544.6 L941.9,702.1M787.2,547.1 L939.3,704.6M784.6,549.6 L936.7,707.1M782,552.1 L934.1,709.6M779.4,554.6 L931.5,712.1M776.9,557.1 L929,714.6M774.3,559.6 L926.4,717.1M771.7,562.1 L923.8,719.6M769.1,564.6 L921.2,722.1M766.5,567.1 L918.6,724.6M763.9,569.6 L916,727.1M761.3,572.1 L913.4,729.6M758.7,574.6 L910.8,732.1M756.1,577.1 L908.2,734.7M753.5,579.6 L905.6,737.2M751,582.1 L903.1,739.7M748.4,584.6 L900.5,742.2M745.8,587.1 L897.9,744.7M743.2,589.6 L895.3,747.2M740.6,592.1 L892.7,749.7" stroke="#111" stroke-width="1.5" fill="none"/></g>
<circle cx="896.8" cy="593.5" r="62" fill="#fff" stroke="#111" stroke-width="1.5" />
<circle cx="896.8" cy="593.5" r="59.4" fill="none" stroke="#111" stroke-width="1.5" />
<circle cx="896.8" cy="593.5" r="29.3" fill="none" stroke="#111" stroke-width="1.7" />
<circle cx="995.1" cy="577.9" r="5.7" fill="#fff" stroke="#111" stroke-width="1.5" />
<g clip-path="url(#c20)"><path d="M978.2,575.9 L993,561.1M980.5,578.2 L995.4,563.4M982.9,580.6 L997.7,565.7M985.2,582.9 L1000,568.1M987.5,585.2 L1002.4,570.4M989.9,587.6 L1004.7,572.7M992.2,589.9 L1007,575.1M994.5,592.2 L1009.4,577.4M996.9,594.6 L1011.7,579.7" stroke="#111" stroke-width="1.4"/></g>
<circle cx="995.1" cy="577.9" r="5.7" fill="none" stroke="#111" stroke-width="1.5" />
<circle cx="954.6" cy="512.5" r="5.7" fill="#fff" stroke="#111" stroke-width="1.5" />
<g clip-path="url(#c21)"><path d="M939.3,512.1 L954.2,497.2M941.7,514.4 L956.5,499.6M944,516.7 L958.8,501.9M946.3,519.1 L961.2,504.2M948.7,521.4 L963.5,506.6M951,523.7 L965.8,508.9M953.3,526.1 L968.2,511.2M955.7,528.4 L970.5,513.6" stroke="#111" stroke-width="1.4"/></g>
<circle cx="954.6" cy="512.5" r="5.7" fill="none" stroke="#111" stroke-width="1.5" />
<circle cx="881.2" cy="495.2" r="5.7" fill="#fff" stroke="#111" stroke-width="1.5" />
<g clip-path="url(#c22)"><path d="M864.6,493.4 L879.5,478.6M867,495.8 L881.8,480.9M869.3,498.1 L884.1,483.3M871.6,500.4 L886.5,485.6M874,502.8 L888.8,487.9M876.3,505.1 L891.1,490.3M878.6,507.4 L893.5,492.6M881,509.8 L895.8,494.9M883.3,512.1 L898.1,497.3" stroke="#111" stroke-width="1.4"/></g>
<circle cx="881.2" cy="495.2" r="5.7" fill="none" stroke="#111" stroke-width="1.5" />
<circle cx="815.8" cy="535.7" r="5.7" fill="#fff" stroke="#111" stroke-width="1.5" />
<g clip-path="url(#c23)"><path d="M800,534.7 L814.8,519.9M802.3,537.1 L817.2,522.2M804.7,539.4 L819.5,524.6M807,541.7 L821.8,526.9M809.3,544.1 L824.2,529.2M811.7,546.4 L826.5,531.6M814,548.7 L828.8,533.9M816.3,551.1 L831.2,536.2" stroke="#111" stroke-width="1.4"/></g>
<circle cx="815.8" cy="535.7" r="5.7" fill="none" stroke="#111" stroke-width="1.5" />
<circle cx="798.5" cy="609.1" r="5.7" fill="#fff" stroke="#111" stroke-width="1.5" />
<g clip-path="url(#c24)"><path d="M782.7,608.1 L797.5,593.2M785,610.4 L799.8,595.6M787.4,612.7 L802.2,597.9M789.7,615.1 L804.5,600.2M792,617.4 L806.8,602.6M794.4,619.7 L809.2,604.9M796.7,622.1 L811.5,607.2M799,624.4 L813.8,609.6" stroke="#111" stroke-width="1.4"/></g>
<circle cx="798.5" cy="609.1" r="5.7" fill="none" stroke="#111" stroke-width="1.5" />
<circle cx="838.3" cy="674" r="5.7" fill="#fff" stroke="#111" stroke-width="1.5" />
<g clip-path="url(#c25)"><path d="M821.4,672 L836.3,657.1M823.8,674.3 L838.6,659.5M826.1,676.6 L840.9,661.8M828.4,679 L843.3,664.1M830.8,681.3 L845.6,666.5M833.1,683.6 L847.9,668.8M835.5,686 L850.3,671.1M837.8,688.3 L852.6,673.5M840.1,690.6 L854.9,675.8" stroke="#111" stroke-width="1.4"/></g>
<circle cx="838.3" cy="674" r="5.7" fill="none" stroke="#111" stroke-width="1.5" />
<circle cx="913.2" cy="691.6" r="5.7" fill="#fff" stroke="#111" stroke-width="1.5" />
<g clip-path="url(#c26)"><path d="M896.8,690 L911.6,675.2M899.1,692.3 L913.9,677.5M901.4,694.7 L916.2,679.8M903.8,697 L918.6,682.2M906.1,699.3 L920.9,684.5M908.4,701.7 L923.2,686.8M910.8,704 L925.6,689.2M913.1,706.3 L927.9,691.5M915.4,708.7 L930.2,693.8" stroke="#111" stroke-width="1.4"/></g>
<circle cx="913.2" cy="691.6" r="5.7" fill="none" stroke="#111" stroke-width="1.5" />
<circle cx="977.8" cy="651.3" r="5.7" fill="#fff" stroke="#111" stroke-width="1.5" />
<g clip-path="url(#c27)"><path d="M960.9,649.2 L975.7,634.4M963.2,651.5 L978.1,636.7M965.6,653.9 L980.4,639M967.9,656.2 L982.7,641.4M970.2,658.5 L985.1,643.7M972.6,660.9 L987.4,646M974.9,663.2 L989.7,648.4M977.2,665.5 L992.1,650.7M979.6,667.9 L994.4,653" stroke="#111" stroke-width="1.4"/></g>
<circle cx="977.8" cy="651.3" r="5.7" fill="none" stroke="#111" stroke-width="1.5" />
<circle cx="844.9" cy="508.8" r="6.6" fill="#fff" stroke="#111" stroke-width="1.4" />
<circle cx="844.9" cy="508.8" r="3.6" fill="none" stroke="#111" stroke-width="1.4" />
<circle cx="871.4" cy="689.5" r="6.6" fill="#fff" stroke="#111" stroke-width="1.4" />
<circle cx="871.4" cy="689.5" r="3.6" fill="none" stroke="#111" stroke-width="1.4" />
<circle cx="993.2" cy="617.5" r="6.6" fill="#fff" stroke="#111" stroke-width="1.4" />
<circle cx="993.2" cy="617.5" r="3.6" fill="none" stroke="#111" stroke-width="1.4" />
<circle cx="803.8" cy="556.7" r="3.6" fill="#fff" stroke="#111" stroke-width="1.5" />
<circle cx="818.3" cy="655.5" r="3.6" fill="#fff" stroke="#111" stroke-width="1.5" />
<path d="M822.5,368.5 L826,362.5 L832,358 L841,355 L855.6,352.4 L872.2,350.2 L879,353.5 L884,358 L889,361.5 L897,362.6 L890,363 L860,364.5 L840,367Z" fill="#fff" stroke="#111" stroke-width="1.6" />
<path d="M841.7,272.8 L857.8,271.1 L872.2,350.2 L855.6,352.4Z" fill="#fff" stroke="none" stroke-width="0" />
<path d="M841.7,272.8 L855.6,352.4 M857.8,271.1 L872.2,350.2" fill="none" stroke="#111" stroke-width="1.6" />
<path d="M853.2,338.9 L870.2,338.9 M854.2,344.4 L871.2,344.4 M855,348.9 L872,348.9" fill="none" stroke="#111" stroke-width="1.3" />
<path d="M745,158.3 L748.3,150 L876.7,146.7 L876.7,155 L872,156 L875,253 L915,247 L918.3,246.7 L905,200 L872.5,205 L915,250 L915,255.5 L757,288.5 L753,277 L793,270 L770,243.3 L760,228.3Z" fill="#fff" stroke="none" stroke-width="0" />
<path d="M752.1,275.8 L913.5,245.6 L915.9,258.4 L754.5,288.6Z" fill="#fff" stroke="none" stroke-width="0" />
<path d="M752.9,280.2 L914.3,250 L915.1,254.1 L753.7,284.3Z" fill="#fff" stroke="#111" stroke-width="1.5" />
<g clip-path="url(#c28)"><path d="M865.9,139.5 L962.2,293.7M861.5,142.3 L957.8,296.4M857.1,145 L953.4,299.2M852.7,147.8 L949,301.9M848.3,150.5 L944.6,304.7M843.9,153.3 L940.2,307.4M839.4,156 L935.8,310.2M835,158.8 L931.4,313M830.6,161.6 L927,315.7M826.2,164.3 L922.5,318.5M821.8,167.1 L918.1,321.2M817.4,169.8 L913.7,324M813,172.6 L909.3,326.7M808.6,175.3 L904.9,329.5M804.2,178.1 L900.5,332.2M799.8,180.8 L896.1,335M795.3,183.6 L891.7,337.8M790.9,186.4 L887.3,340.5M786.5,189.1 L882.9,343.3M782.1,191.9 L878.4,346M777.7,194.6 L874,348.8M773.3,197.4 L869.6,351.5M768.9,200.1 L865.2,354.3M764.5,202.9 L860.8,357M760.1,205.6 L856.4,359.8M755.7,208.4 L852,362.6M751.3,211.2 L847.6,365.3M746.8,213.9 L843.2,368.1M742.4,216.7 L838.8,370.8M738,219.4 L834.3,373.6M733.6,222.2 L829.9,376.3M729.2,224.9 L825.5,379.1M724.8,227.7 L821.1,381.8M720.4,230.4 L816.7,384.6M716,233.2 L812.3,387.4M711.6,236 L807.9,390.1M707.2,238.7 L803.5,392.9" stroke="#111" stroke-width="2.0"/></g>
<g clip-path="url(#c29)"><path d="M865.9,139.5 L962.2,293.7M861.5,142.3 L957.8,296.4M857.1,145 L953.4,299.2M852.7,147.8 L949,301.9M848.3,150.5 L944.6,304.7M843.9,153.3 L940.2,307.4M839.4,156 L935.8,310.2M835,158.8 L931.4,313M830.6,161.6 L927,315.7M826.2,164.3 L922.5,318.5M821.8,167.1 L918.1,321.2M817.4,169.8 L913.7,324M813,172.6 L909.3,326.7M808.6,175.3 L904.9,329.5M804.2,178.1 L900.5,332.2M799.8,180.8 L896.1,335M795.3,183.6 L891.7,337.8M790.9,186.4 L887.3,340.5M786.5,189.1 L882.9,343.3M782.1,191.9 L878.4,346M777.7,194.6 L874,348.8M773.3,197.4 L869.6,351.5M768.9,200.1 L865.2,354.3M764.5,202.9 L860.8,357M760.1,205.6 L856.4,359.8M755.7,208.4 L852,362.6M751.3,211.2 L847.6,365.3M746.8,213.9 L843.2,368.1M742.4,216.7 L838.8,370.8M738,219.4 L834.3,373.6M733.6,222.2 L829.9,376.3M729.2,224.9 L825.5,379.1M724.8,227.7 L821.1,381.8M720.4,230.4 L816.7,384.6M716,233.2 L812.3,387.4M711.6,236 L807.9,390.1M707.2,238.7 L803.5,392.9" stroke="#111" stroke-width="2.0"/></g>
<path d="M754.3,282.1 L790.6,275.3" fill="none" stroke="#111" stroke-width="2.6" stroke-dasharray="2.6 2.6"/>
<path d="M879.1,258.7 L913.7,252.2" fill="none" stroke="#111" stroke-width="2.6" stroke-dasharray="2.6 2.6"/>
<path d="M752.9,280.2 L914.3,250 L915.1,254.1 L753.7,284.3Z" fill="none" stroke="#111" stroke-width="1.5" />
<path d="M757,275.1 L830.7,261.3" fill="none" stroke="#111" stroke-width="1.4" />
<path d="M845.5,258.5 L871,253.7" fill="none" stroke="#111" stroke-width="1.4" />
<path d="M757.4,287.8 L894,262.2" fill="none" stroke="#111" stroke-width="1.4" />
<path d="M748.3,150 L876.7,146.7 L876.7,155 L871.7,155.2" fill="none" stroke="#111" stroke-width="1.5" />
<path d="M749.2,154.6 L871.7,151.6" fill="none" stroke="#111" stroke-width="1.3" />
<g clip-path="url(#c30)"><path d="M714.9,174.8 L785.1,53.1M718.8,177 L789,55.4M722.7,179.3 L792.9,57.6M726.6,181.5 L796.8,59.9M730.5,183.8 L800.7,62.1M734.4,186 L804.6,64.4M738.3,188.3 L808.5,66.6M742.2,190.5 L812.4,68.9M746.1,192.8 L816.3,71.1M750,195 L820.2,73.4M753.9,197.3 L824.1,75.6M757.8,199.5 L828,77.9M761.7,201.8 L831.9,80.1M765.6,204 L835.8,82.4M769.5,206.3 L839.7,84.6M773.4,208.5 L843.6,86.9M777.3,210.8 L847.5,89.1M781.2,213 L851.4,91.4M785,215.3 L855.3,93.6M788.9,217.5 L859.2,95.9M792.8,219.8 L863.1,98.1M796.7,222 L867,100.4M800.6,224.3 L870.9,102.6M804.5,226.5 L874.8,104.9M808.4,228.8 L878.7,107.1M812.3,231 L882.6,109.4M816.2,233.3 L886.5,111.6M820.1,235.5 L890.4,113.9M824,237.8 L894.3,116.1M827.9,240 L898.2,118.4M831.8,242.3 L902.1,120.6M835.7,244.5 L905.9,122.9M839.6,246.8 L909.8,125.1" stroke="#111" stroke-width="1.0"/></g>
<path d="M745,158.3 L760,228.3 L770,243.3 L793.3,270 L797,276" fill="none" stroke="#111" stroke-width="1.5" />
<path d="M748.3,157.5 L763.3,227.5 L773,241.5 L796.5,268.5" fill="none" stroke="#111" stroke-width="1.5" />
<path d="M745,158.3 L748.3,150" fill="none" stroke="#111" stroke-width="1.4" />
<path d="M771.5,242.5 L795,269.3" fill="none" stroke="#111" stroke-width="3.2" />
<path d="M871.7,155.8 L875,258" fill="none" stroke="#111" stroke-width="1.5" />
<path d="M868.4,156 L871.7,258.5" fill="none" stroke="#111" stroke-width="1.4" />
<path d="M746.6,158 L761.6,228 L771.5,242.5" fill="none" stroke="#111" stroke-width="2.2" stroke-dasharray="1.4 3.2"/>
<path d="M870,156 L873.3,258" fill="none" stroke="#111" stroke-width="2.2" stroke-dasharray="1.4 3.2"/>
<path d="M761.7,209.2 L871.7,206.7" fill="none" stroke="#111" stroke-width="1.4" />
<path d="M765,226.7 L905,200 L918.3,246.7 L875,253.3" fill="none" stroke="#111" stroke-width="1.5" />
<path d="M909,201.5 L921.5,245.5 L918.3,246.7" fill="none" stroke="#111" stroke-width="1.3" />
<path d="M749,249 L752,234 Q753,230 757,229.5 L764,228.5 M749,249 L742.8,252 M752,236 L758.5,275" fill="none" stroke="#111" stroke-width="1.4" />
<path d="M797,276 L760,282" fill="none" stroke="#111" stroke-width="1.3" />
<path d="M1010,168.3 L1040.6,184.5 L1024.5,214 L994,197.8Z" fill="#fff" stroke="#111" stroke-width="1.7" />
<path d="M973.9,231.5 L1004.4,248 L993.3,269.1 L963.5,252.9Z" fill="#fff" stroke="#111" stroke-width="1.7" />
<path d="M1160.6,241.1 L1191.7,257.8 L1175.6,287.8 L1144.4,271.1Z" fill="#fff" stroke="#111" stroke-width="1.7" />
<path d="M1121.1,311.2 L1152.2,327.9 L1141,350 L1111.1,332.2Z" fill="#fff" stroke="#111" stroke-width="1.7" />
<path d="M1043.6,205.3 L1143,259.1 L1149.6,272 L1167.2,281.5 L1169,295 L1173.4,324.6 L967.6,213.3 L989.2,188.1 L1027,208.5Z" fill="#fff" stroke="none" stroke-width="0" />
<path d="M987.2,173.1 L988.6,184.1 L991.7,187.8 L1026.2,208.1 L1031,209.6 L1038.7,203.8 L1043.6,205.3 L1143,259.1 L1146.9,262.3 L1146.6,269.2 L1150.5,272.4 L1164.6,280.1 L1167.8,284.6 L1167.4,290.7 L1155,314.7" fill="none" stroke="#111" stroke-width="1.7" stroke-linejoin="round"/>
<path d="M984.6,177.9 L986,188.9 L989.1,192.6 L1023.6,212.9 L1028.4,214.4 L1036.1,208.6 L1041,210.1 L1140.4,263.8 L1144.3,267.1 L1144.3,273.5 L1148.2,276.8 L1161.4,283.9 L1164.6,288.5 L1164.2,294.5 L1153.9,314.1" fill="none" stroke="#111" stroke-width="1.7" stroke-linejoin="round"/>
<path d="M982,182.8 L983.4,193.8 L986.5,197.5 L1020.9,217.7 L1025.8,219.2 L1033.6,213.3 L1038.4,214.8 L1137.8,268.6 L1141.8,271.8 L1141.9,277.8 L1145.8,281.1 L1158.2,287.7 L1161.4,292.3 L1161,298.3 L1152.9,313.5" fill="none" stroke="#111" stroke-width="1.7" stroke-linejoin="round"/>
<path d="M979.4,187.6 L980.8,198.6 L983.9,202.3 L1018.3,222.6 L1023.2,224.1 L1031,218.1 L1035.9,219.6 L1135.3,273.3 L1139.2,276.6 L1139.6,282.1 L1143.5,285.4 L1155,291.6 L1158.2,296.1 L1157.7,302.2 L1151.8,312.9" fill="none" stroke="#111" stroke-width="1.7" stroke-linejoin="round"/>
<path d="M976.1,206 L1015.7,227.4 L1020.6,228.9 L1028.4,222.8 L1033.3,224.3 L1132.7,278.1 L1136.6,281.3 L1137.3,286.4 L1141.2,289.7 L1151.7,295.4 L1155,300 L1154.5,306 L1150.8,312.4" fill="none" stroke="#111" stroke-width="1.7" stroke-linejoin="round"/>
<path d="M973.5,210.8 L1013.1,232.3 L1018,233.8 L1025.9,227.6 L1030.7,229.1 L1130.1,282.8 L1134.1,286.1 L1134.9,290.7 L1138.9,294 L1148.5,299.2 L1151.7,303.8 L1151.3,309.8 L1149.7,311.8" fill="none" stroke="#111" stroke-width="1.7" stroke-linejoin="round"/>
<path d="M1025.5,232.4 L1127.6,287.6 L1131.5,290.8 L1132.6,295.1 L1136.5,298.3 L1145.3,303.1 L1148.5,307.6 L1148.1,313.7 L1148.6,311.2" fill="none" stroke="#111" stroke-width="1.7" stroke-linejoin="round"/>
<path d="M1023,237.1 L1146.1,303.7" fill="none" stroke="#111" stroke-width="1.7" stroke-linejoin="round"/>
<path d="M1020.4,241.9 L1143.5,308.5" fill="none" stroke="#111" stroke-width="1.7" stroke-linejoin="round"/>
<path d="M987.2,173.1 L990.2,171.6 L991.8,183.1" fill="none" stroke="#111" stroke-width="1.4" />
<path d="M984.6,177.9 L987.6,176.4 L989.2,187.9" fill="none" stroke="#111" stroke-width="1.4" />
<path d="M982,182.8 L985,181.3 L986.6,192.8" fill="none" stroke="#111" stroke-width="1.4" />
<path d="M979.4,187.6 L982.4,186.1 L984,197.6" fill="none" stroke="#111" stroke-width="1.4" />
<path d="M1174.2,281.3 L1190,281.3 L1194.5,290 L1178.8,289.5Z" fill="#fff" stroke="#111" stroke-width="1.4" />
<path d="M1171.5,286.2 L1186.2,285.9 L1190.6,294.6 L1176.2,294.4Z" fill="#fff" stroke="#111" stroke-width="1.4" />
<path d="M1168.8,291.1 L1182.3,290.6 L1186.7,299.2 L1173.5,299.3Z" fill="#fff" stroke="#111" stroke-width="1.4" />
<path d="M1166.2,296 L1178.5,295.2 L1182.9,303.8 L1170.8,304.2Z" fill="#fff" stroke="#111" stroke-width="1.4" />
<path d="M1163.5,301 L1174.6,299.8 L1179,308.4 L1168.2,309.2Z" fill="#fff" stroke="#111" stroke-width="1.4" />
<path d="M967.6,213.3 L1173.4,324.6 L1168.6,335.7 L961.9,223.9Z" fill="#fff" stroke="#111" stroke-width="1.7" />
<g clip-path="url(#c31)"><path d="M870.2,321.3 L1026.8,70.6M873.4,323.3 L1030,72.6M876.6,325.3 L1033.2,74.7M879.8,327.3 L1036.5,76.7M883.1,329.3 L1039.7,78.7M886.3,331.3 L1042.9,80.7M889.5,333.3 L1046.1,82.7M892.7,335.4 L1049.4,84.7M896,337.4 L1052.6,86.7M899.2,339.4 L1055.8,88.8M902.4,341.4 L1059,90.8M905.6,343.4 L1062.2,92.8M908.9,345.4 L1065.5,94.8M912.1,347.4 L1068.7,96.8M915.3,349.5 L1071.9,98.8M918.5,351.5 L1075.1,100.8M921.7,353.5 L1078.4,102.8M925,355.5 L1081.6,104.9M928.2,357.5 L1084.8,106.9M931.4,359.5 L1088,108.9M934.6,361.5 L1091.2,110.9M937.9,363.6 L1094.5,112.9M941.1,365.6 L1097.7,114.9M944.3,367.6 L1100.9,116.9M947.5,369.6 L1104.1,119M950.7,371.6 L1107.4,121M954,373.6 L1110.6,123M957.2,375.6 L1113.8,125M960.4,377.6 L1117,127M963.6,379.7 L1120.3,129M966.9,381.7 L1123.5,131M970.1,383.7 L1126.7,133.1M973.3,385.7 L1129.9,135.1M976.5,387.7 L1133.1,137.1M979.7,389.7 L1136.4,139.1M983,391.7 L1139.6,141.1M986.2,393.8 L1142.8,143.1M989.4,395.8 L1146,145.1M992.6,397.8 L1149.3,147.1M995.9,399.8 L1152.5,149.2M999.1,401.8 L1155.7,151.2M1002.3,403.8 L1158.9,153.2M1005.5,405.8 L1162.1,155.2M1008.8,407.9 L1165.4,157.2M1012,409.9 L1168.6,159.2M1015.2,411.9 L1171.8,161.2M1018.4,413.9 L1175,163.3M1021.6,415.9 L1178.3,165.3M1024.9,417.9 L1181.5,167.3M1028.1,419.9 L1184.7,169.3M1031.3,422 L1187.9,171.3M1034.5,424 L1191.1,173.3M1037.8,426 L1194.4,175.3M1041,428 L1197.6,177.4M1044.2,430 L1200.8,179.4M1047.4,432 L1204,181.4M1050.6,434 L1207.3,183.4M1053.9,436 L1210.5,185.4M1057.1,438.1 L1213.7,187.4M1060.3,440.1 L1216.9,189.4M1063.5,442.1 L1220.2,191.4M1066.8,444.1 L1223.4,193.5M1070,446.1 L1226.6,195.5M1073.2,448.1 L1229.8,197.5M1076.4,450.1 L1233,199.5M1079.6,452.2 L1236.3,201.5M1082.9,454.2 L1239.5,203.5M1086.1,456.2 L1242.7,205.5M1089.3,458.2 L1245.9,207.6M1092.5,460.2 L1249.2,209.6M1095.8,462.2 L1252.4,211.6M1099,464.2 L1255.6,213.6M1102.2,466.3 L1258.8,215.6M1105.4,468.3 L1262,217.6M1108.7,470.3 L1265.3,219.6M1111.9,472.3 L1268.5,221.7M1115.1,474.3 L1271.7,223.7M1118.3,476.3 L1274.9,225.7M1121.5,478.3 L1278.2,227.7M1124.8,480.3 L1281.4,229.7" stroke="#111" stroke-width="1.7"/></g>
<path d="M967.6,213.3 L1173.4,324.6 L1168.6,335.7 L961.9,223.9Z" fill="none" stroke="#111" stroke-width="1.7" />
<path d="M967.6,213.3 L977.9,200.7 L982.3,200.8 L979.1,217.3Z" fill="#fff" stroke="#111" stroke-width="1.5" />
<path d="M1173.4,324.6 L1185.3,317.4 L1186.5,321.5 L1168.6,335.7Z" fill="#fff" stroke="#111" stroke-width="1.5" />
<g clip-path="url(#c32)"><path d="M870.2,321.3 L1026.8,70.6M873.4,323.3 L1030,72.6M876.6,325.3 L1033.2,74.7M879.8,327.3 L1036.5,76.7M883.1,329.3 L1039.7,78.7M886.3,331.3 L1042.9,80.7M889.5,333.3 L1046.1,82.7M892.7,335.4 L1049.4,84.7M896,337.4 L1052.6,86.7M899.2,339.4 L1055.8,88.8M902.4,341.4 L1059,90.8M905.6,343.4 L1062.2,92.8M908.9,345.4 L1065.5,94.8M912.1,347.4 L1068.7,96.8M915.3,349.5 L1071.9,98.8M918.5,351.5 L1075.1,100.8M921.7,353.5 L1078.4,102.8M925,355.5 L1081.6,104.9M928.2,357.5 L1084.8,106.9M931.4,359.5 L1088,108.9M934.6,361.5 L1091.2,110.9M937.9,363.6 L1094.5,112.9M941.1,365.6 L1097.7,114.9M944.3,367.6 L1100.9,116.9M947.5,369.6 L1104.1,119M950.7,371.6 L1107.4,121M954,373.6 L1110.6,123M957.2,375.6 L1113.8,125M960.4,377.6 L1117,127M963.6,379.7 L1120.3,129M966.9,381.7 L1123.5,131M970.1,383.7 L1126.7,133.1M973.3,385.7 L1129.9,135.1M976.5,387.7 L1133.1,137.1M979.7,389.7 L1136.4,139.1M983,391.7 L1139.6,141.1M986.2,393.8 L1142.8,143.1M989.4,395.8 L1146,145.1M992.6,397.8 L1149.3,147.1M995.9,399.8 L1152.5,149.2M999.1,401.8 L1155.7,151.2M1002.3,403.8 L1158.9,153.2M1005.5,405.8 L1162.1,155.2M1008.8,407.9 L1165.4,157.2M1012,409.9 L1168.6,159.2M1015.2,411.9 L1171.8,161.2M1018.4,413.9 L1175,163.3M1021.6,415.9 L1178.3,165.3M1024.9,417.9 L1181.5,167.3M1028.1,419.9 L1184.7,169.3M1031.3,422 L1187.9,171.3M1034.5,424 L1191.1,173.3M1037.8,426 L1194.4,175.3M1041,428 L1197.6,177.4M1044.2,430 L1200.8,179.4M1047.4,432 L1204,181.4M1050.6,434 L1207.3,183.4M1053.9,436 L1210.5,185.4M1057.1,438.1 L1213.7,187.4M1060.3,440.1 L1216.9,189.4M1063.5,442.1 L1220.2,191.4M1066.8,444.1 L1223.4,193.5M1070,446.1 L1226.6,195.5M1073.2,448.1 L1229.8,197.5M1076.4,450.1 L1233,199.5M1079.6,452.2 L1236.3,201.5M1082.9,454.2 L1239.5,203.5M1086.1,456.2 L1242.7,205.5M1089.3,458.2 L1245.9,207.6M1092.5,460.2 L1249.2,209.6M1095.8,462.2 L1252.4,211.6M1099,464.2 L1255.6,213.6M1102.2,466.3 L1258.8,215.6M1105.4,468.3 L1262,217.6M1108.7,470.3 L1265.3,219.6M1111.9,472.3 L1268.5,221.7M1115.1,474.3 L1271.7,223.7M1118.3,476.3 L1274.9,225.7M1121.5,478.3 L1278.2,227.7M1124.8,480.3 L1281.4,229.7" stroke="#111" stroke-width="1.5"/></g>
<path d="M987,223.8 L985.1,227.3 L992.1,231.1 L989.5,236 L998.3,240.7 L1000.4,236.8 L1009.2,241.5 L1011.6,237.1Z" fill="#fff" stroke="#111" stroke-width="1.3" />
<path d="M1122.4,297.1 L1120,301.5 L1144.7,314.8 L1147.1,310.4Z" fill="#fff" stroke="#111" stroke-width="1.3" />
<circle cx="1296.2" cy="421.2" r="66.5" fill="#fff" stroke="#111" stroke-width="1.8" />
<g clip-path="url(#c33)"><path d="M1313.5,283.1 L1434.4,437.8M1311,285 L1431.9,439.8M1308.5,287 L1429.4,441.7M1306,289 L1426.8,443.7M1303.5,291 L1424.3,445.7M1300.9,292.9 L1421.8,447.6M1298.4,294.9 L1419.3,449.6M1295.9,296.9 L1416.8,451.6M1293.4,298.8 L1414.2,453.6M1290.8,300.8 L1411.7,455.5M1288.3,302.8 L1409.2,457.5M1285.8,304.8 L1406.7,459.5M1283.3,306.7 L1404.2,461.4M1280.8,308.7 L1401.6,463.4M1278.2,310.7 L1399.1,465.4M1275.7,312.6 L1396.6,467.3M1273.2,314.6 L1394.1,469.3M1270.7,316.6 L1391.5,471.3M1268.1,318.5 L1389,473.3M1265.6,320.5 L1386.5,475.2M1263.1,322.5 L1384,477.2M1260.6,324.5 L1381.5,479.2M1258.1,326.4 L1378.9,481.1M1255.5,328.4 L1376.4,483.1M1253,330.4 L1373.9,485.1M1250.5,332.3 L1371.4,487M1248,334.3 L1368.8,489M1245.5,336.3 L1366.3,491M1242.9,338.2 L1363.8,493M1240.4,340.2 L1361.3,494.9M1237.9,342.2 L1358.8,496.9M1235.4,344.2 L1356.2,498.9M1232.8,346.1 L1353.7,500.8M1230.3,348.1 L1351.2,502.8M1227.8,350.1 L1348.7,504.8M1225.3,352 L1346.2,506.7M1222.8,354 L1343.6,508.7M1220.2,356 L1341.1,510.7M1217.7,357.9 L1338.6,512.7M1215.2,359.9 L1336.1,514.6M1212.7,361.9 L1333.5,516.6M1210.1,363.9 L1331,518.6M1207.6,365.8 L1328.5,520.5M1205.1,367.8 L1326,522.5M1202.6,369.8 L1323.5,524.5M1200.1,371.7 L1320.9,526.4M1197.5,373.7 L1318.4,528.4M1195,375.7 L1315.9,530.4M1192.5,377.6 L1313.4,532.4M1190,379.6 L1310.9,534.3M1187.5,381.6 L1308.3,536.3M1184.9,383.6 L1305.8,538.3M1182.4,385.5 L1303.3,540.2M1179.9,387.5 L1300.8,542.2M1177.4,389.5 L1298.2,544.2M1174.8,391.4 L1295.7,546.1M1172.3,393.4 L1293.2,548.1M1169.8,395.4 L1290.7,550.1M1167.3,397.3 L1288.2,552.1M1164.8,399.3 L1285.6,554M1162.2,401.3 L1283.1,556M1159.7,403.3 L1280.6,558M1157.2,405.2 L1278.1,559.9" stroke="#111" stroke-width="1.6"/></g>
<path d="M1315.3,362.5 L1315.7,367.6 L1319.4,369.1 L1323,370.9 L1326.4,372.9 L1329.7,375.1 L1332.8,377.5 L1335.8,380.2 L1338.6,383.1 L1341.1,386.1 L1343.5,389.3 L1345.6,392.7 L1347.4,396.2 L1349,399.8 L1350.4,403.6 L1351.5,407.4 L1352.3,411.3 L1352.9,415.2 L1353.2,419.2 L1353.2,423.2 L1352.9,427.2 L1352.3,431.1 L1351.5,435 L1350.4,438.8 L1349,442.6 L1347.4,446.2 L1345.6,449.7 L1343.5,453.1 L1341.1,456.3 L1338.6,459.3 L1335.8,462.2 L1332.8,464.9 L1329.7,467.3 L1326.4,469.5 L1323,471.5 L1319.4,473.3 L1312.6,473.5Z" fill="#fff" stroke="#111" stroke-width="1.5" />
<path d="M1314.9,413.6 L1317,415.5 L1319.7,416 L1322.4,416.8 L1324.9,417.9 L1327.2,419.4 L1329.3,421.2 L1331.1,423.2 L1332.6,425.5 L1333.7,427.9 L1334.5,430.4 L1334.9,433.1 L1334.9,435.7 L1334.5,438.4 L1333.7,440.9 L1332.6,443.3 L1331.1,445.6 L1329.3,447.6 L1327.2,449.4 L1324.9,450.9 L1322.4,452 L1319.7,452.8 L1317,453.3 L1314.5,455.2Z" fill="#fff" stroke="#111" stroke-width="1.5" />
<g clip-path="url(#c34)"><path d="M1331,373 L1384.7,441.7M1328.5,375 L1382.2,443.7M1326,377 L1379.7,445.7M1323.4,378.9 L1377.1,447.7M1320.9,380.9 L1374.6,449.6M1318.4,382.9 L1372.1,451.6M1315.9,384.8 L1369.6,453.6M1313.4,386.8 L1367.1,455.5M1310.8,388.8 L1364.5,457.5M1308.3,390.7 L1362,459.5M1305.8,392.7 L1359.5,461.4M1303.3,394.7 L1357,463.4M1300.7,396.7 L1354.4,465.4M1298.2,398.6 L1351.9,467.4M1295.7,400.6 L1349.4,469.3M1293.2,402.6 L1346.9,471.3M1290.7,404.5 L1344.4,473.3M1288.1,406.5 L1341.8,475.2M1285.6,408.5 L1339.3,477.2M1283.1,410.4 L1336.8,479.2M1280.6,412.4 L1334.3,481.1M1278.1,414.4 L1331.8,483.1M1275.5,416.4 L1329.2,485.1M1273,418.3 L1326.7,487.1M1270.5,420.3 L1324.2,489M1268,422.3 L1321.7,491M1265.4,424.2 L1319.1,493M1262.9,426.2 L1316.6,494.9M1260.4,428.2 L1314.1,496.9" stroke="#111" stroke-width="1.6"/></g>
<path d="M1314.9,413.6 L1317,415.5 L1319.7,416 L1322.4,416.8 L1324.9,417.9 L1327.2,419.4 L1329.3,421.2 L1331.1,423.2 L1332.6,425.5 L1333.7,427.9 L1334.5,430.4 L1334.9,433.1 L1334.9,435.7 L1334.5,438.4 L1333.7,440.9 L1332.6,443.3 L1331.1,445.6 L1329.3,447.6 L1327.2,449.4 L1324.9,450.9 L1322.4,452 L1319.7,452.8 L1317,453.3 L1314.5,455.2" fill="none" stroke="#111" stroke-width="1.5" />
<path d="M1314.8,424 L1316.6,424.1 L1318.4,424.5 L1320,425.3 L1321.5,426.4 L1322.8,427.7 L1323.9,429.1 L1324.7,430.8 L1325.1,432.6 L1325.3,434.4 L1325.1,436.2 L1324.7,438 L1323.9,439.6 L1322.8,441.1 L1321.5,442.4 L1320,443.5 L1318.4,444.3 L1316.6,444.7 L1314.6,444.8Z" fill="#fff" stroke="#111" stroke-width="1.4" />
<circle cx="1296.2" cy="421.2" r="66.5" fill="none" stroke="#111" stroke-width="1.8" />
<circle cx="1296.2" cy="421.2" r="64" fill="none" stroke="#333" stroke-width="1.0" />
<path d="M1266.5,392 L1284.5,377 L1288,381.5 L1270,396.5Z" fill="#fff" stroke="#111" stroke-width="1.3" />
<ellipse cx="1253" cy="403" rx="2.2" ry="3.2" transform="rotate(35 1253 403)" fill="#fff" stroke="#111" stroke-width="1.2"/>
<ellipse cx="1259.5" cy="450" rx="2.2" ry="3.4" transform="rotate(-30 1259.5 450)" fill="#fff" stroke="#111" stroke-width="1.2"/>
<ellipse cx="1267.5" cy="459" rx="3" ry="2" transform="rotate(30 1267.5 459)" fill="#fff" stroke="#111" stroke-width="1.2"/>
<ellipse cx="1302" cy="468" rx="3" ry="2" fill="#fff" stroke="#111" stroke-width="1.2"/>
<ellipse cx="1289" cy="485" rx="5" ry="2" fill="#fff" stroke="none"/>
<ellipse cx="1232.5" cy="425" rx="1.6" ry="7" fill="#fff" stroke="#111" stroke-width="1"/>
<path d="M813.75,85.4 L969.8,924.6" fill="none" stroke="#111" stroke-width="1.7" stroke-dasharray="30 4 3 4" stroke-dashoffset="12"/>
<path d="M1329.6,264.2 L552.8,846.1" fill="none" stroke="#111" stroke-width="1.7" stroke-dasharray="30 4 3 4" stroke-dashoffset="5"/>
<path d="M872.5,83.3 L830.7,92.5" fill="none" stroke="#111" stroke-width="3.0" />
<path d="M815.6,95.8 L829.2,85.3 L832.3,99.6Z" fill="#111" stroke="none" stroke-width="0" />
<path d="M1024.2,900.8 L983.6,909.6" fill="none" stroke="#111" stroke-width="3.0" />
<path d="M968.5,912.9 L982.1,902.5 L985.2,916.7Z" fill="#111" stroke="none" stroke-width="0" />
<path d="M1268.8,222.1 L1304.1,262" fill="none" stroke="#111" stroke-width="3.0" />
<path d="M1314.4,273.6 L1298.7,266.8 L1309.6,257.2Z" fill="#111" stroke="none" stroke-width="0" />
<path d="M538.9,769.4 L573.8,809.3" fill="none" stroke="#111" stroke-width="3.0" />
<path d="M584,821 L568.3,814.1 L579.3,804.5Z" fill="#111" stroke="none" stroke-width="0" />
<path d="M645.9,72.9 C656,76 663,88 668.2,104.2 C672,116 676,128 685.5,142" fill="none" stroke="#111" stroke-width="2.5" />
<path d="M703.1,159 L681.4,145.2 L688.7,136.7Z" fill="#111" stroke="none" stroke-width="0" />
<path d="M581.7,200 C606,203 616,232 628,256 C638,276 648,290 660,296.7" fill="none" stroke="#111" stroke-width="2.1" />
<path d="M750,100 C790,110 812,175 826,215 C838,250 846,285 860,306.7" fill="none" stroke="#111" stroke-width="2.1" />
<path d="M926.7,140 C900,140 880,175 850,185" fill="none" stroke="#111" stroke-width="2.1" />
<path d="M1093.2,16.9 C1086,26 1083,38 1081.8,48.2 L1080.6,60.2 L1069,55.2 C1066,60 1066.5,72 1064.9,81.9 L1062.5,94" fill="none" stroke="#111" stroke-width="2.5" />
<path d="M1050.5,115.6 L1058.9,91.5 L1067.3,96.3Z" fill="#111" stroke="none" stroke-width="0" />
<path d="M1133.3,171.7 C1108,180 1104,222 1083.3,248.3" fill="none" stroke="#111" stroke-width="2.1" />
<path d="M1356.7,305 C1336,322 1338,376 1326.4,392" fill="none" stroke="#111" stroke-width="2.1" />
<path d="M1245,658.3 C1215,662 1190,640 1160,640" fill="none" stroke="#111" stroke-width="2.1" />
<path d="M1163.3,805 C1110,795 1100,720 1061.7,696.7" fill="none" stroke="#111" stroke-width="2.1" />
<path d="M645.6,850.6 C656,838 657,820 656.7,806 C656.5,790 658,778 663.3,766.7" fill="none" stroke="#111" stroke-width="2.1" />
<path d="M821.7,906.7 C815,892 817,875 816.7,860 C816.5,845 815,830 813.3,816.7" fill="none" stroke="#111" stroke-width="2.1" />
<text x="613.3" y="85" font-size="32.5" textLength="26.7" lengthAdjust="spacingAndGlyphs" stroke="#111" stroke-width="0.45">30</text>
<text x="718.3" y="111.7" font-size="32.5" textLength="28.4" lengthAdjust="spacingAndGlyphs" stroke="#111" stroke-width="0.45">43</text>
<text x="548.3" y="211.7" font-size="32.5" textLength="26.7" lengthAdjust="spacingAndGlyphs" stroke="#111" stroke-width="0.45">50</text>
<text x="933.3" y="151.7" font-size="32.5" textLength="28.4" lengthAdjust="spacingAndGlyphs" stroke="#111" stroke-width="0.45">63</text>
<text x="1098.3" y="30" font-size="32.5" textLength="28.4" lengthAdjust="spacingAndGlyphs" stroke="#111" stroke-width="0.45">30</text>
<text x="1135" y="184.5" font-size="32.5" textLength="28.3" lengthAdjust="spacingAndGlyphs" stroke="#111" stroke-width="0.45">62</text>
<text x="1360" y="317.5" font-size="32.5" textLength="26" lengthAdjust="spacingAndGlyphs" stroke="#111" stroke-width="0.45">61</text>
<text x="1248.3" y="670.3" font-size="32.5" textLength="28.4" lengthAdjust="spacingAndGlyphs" stroke="#111" stroke-width="0.45">36</text>
<text x="1166.7" y="816.7" font-size="32.5" textLength="26.6" lengthAdjust="spacingAndGlyphs" stroke="#111" stroke-width="0.45">70</text>
<text x="613.9" y="863.3" font-size="32.5" textLength="27.8" lengthAdjust="spacingAndGlyphs" stroke="#111" stroke-width="0.45">44</text>
<text x="825" y="921.5" font-size="32.5" textLength="28.3" lengthAdjust="spacingAndGlyphs" stroke="#111" stroke-width="0.45">39</text>
<text x="838.3" y="82.9" font-size="32.5" textLength="18.8" lengthAdjust="spacingAndGlyphs" stroke="#111" stroke-width="0.45" font-weight="bold">A</text>
<text x="998.8" y="936.2" font-size="32.5" textLength="18.8" lengthAdjust="spacingAndGlyphs" stroke="#111" stroke-width="0.45" font-weight="bold">A</text>
<text x="1294.2" y="242.9" font-size="32.5" textLength="15.4" lengthAdjust="spacingAndGlyphs" stroke="#111" stroke-width="0.45" font-weight="bold">B</text>
<text x="536.7" y="818.9" font-size="32.5" textLength="15.5" lengthAdjust="spacingAndGlyphs" stroke="#111" stroke-width="0.45" font-weight="bold">B</text>
<text x="912" y="1065.7" font-size="46.8" textLength="95.2" lengthAdjust="spacingAndGlyphs" stroke="#111" stroke-width="0.45" font-weight="bold">Fig. 5</text>
</svg>
</body></html>
